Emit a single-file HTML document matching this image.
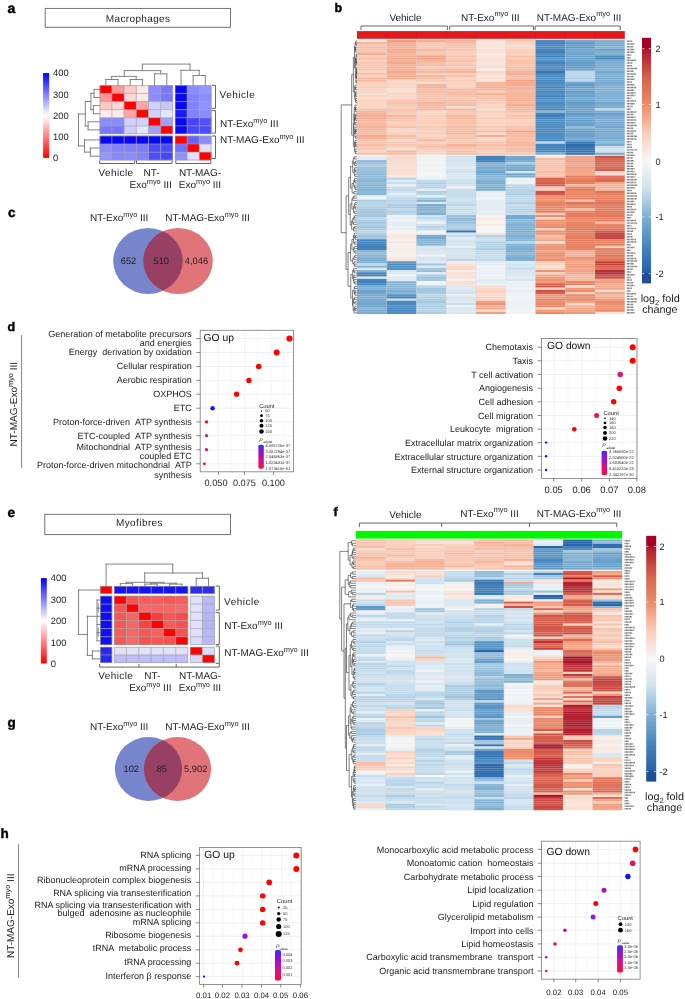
<!DOCTYPE html>
<html><head><meta charset="utf-8"><style>
html,body{margin:0;padding:0;background:#fff;}
svg{display:block;font-family:"Liberation Sans",sans-serif;text-rendering:geometricPrecision;}
</style></head><body>
<svg width="685" height="999" viewBox="0 0 685 999">
<rect width="685" height="999" fill="#fff"/>
<g opacity="0.999">
<text x="7.6" y="12.6" font-size="14" font-weight="bold" fill="#000" stroke="#000" stroke-width="0.45">a</text>
<rect x="45.2" y="8.4" width="185.3" height="18.9" fill="#fff" stroke="#666" stroke-width="0.9"/>
<text x="138.1" y="21.6" font-size="10" text-anchor="middle" fill="#1c1c1c" letter-spacing="0.37">Macrophages</text>
<defs><linearGradient id="g3" x1="0" y1="1" x2="0" y2="0"><stop offset="0" stop-color="#ff0000"/><stop offset="0.5" stop-color="#ffffff"/><stop offset="1" stop-color="#0000ff"/></linearGradient></defs>
<rect x="43.1" y="73.1" width="6.1" height="84.8" fill="url(#g3)"/>
<text x="53.1" y="76.48" font-size="9.4" fill="#1c1c1c">400</text>
<text x="53.1" y="97.68" font-size="9.4" fill="#1c1c1c">300</text>
<text x="53.1" y="118.88" font-size="9.4" fill="#1c1c1c">200</text>
<text x="53.1" y="140.08" font-size="9.4" fill="#1c1c1c">100</text>
<text x="53.1" y="161.28" font-size="9.4" fill="#1c1c1c">0</text>
<rect x="99.7" y="85.3" width="12.2" height="8.12" fill="#ff0000"/>
<rect x="111.9" y="85.3" width="12.2" height="8.12" fill="#ff9696"/>
<rect x="124.1" y="85.3" width="12.2" height="8.12" fill="#ffc8c8"/>
<rect x="136.3" y="85.3" width="12.2" height="8.12" fill="#ffe8e8"/>
<rect x="148.5" y="85.3" width="12.2" height="8.12" fill="#8c8cff"/>
<rect x="160.7" y="85.3" width="12.2" height="8.12" fill="#7878ff"/>
<rect x="175" y="85.3" width="12.15" height="8.12" fill="#0808f5"/>
<rect x="187.15" y="85.3" width="12.15" height="8.12" fill="#8c8cff"/>
<rect x="199.3" y="85.3" width="12.15" height="8.12" fill="#9696ff"/>
<rect x="99.7" y="93.42" width="12.2" height="8.12" fill="#ff9696"/>
<rect x="111.9" y="93.42" width="12.2" height="8.12" fill="#ff0000"/>
<rect x="124.1" y="93.42" width="12.2" height="8.12" fill="#ffd7d7"/>
<rect x="136.3" y="93.42" width="12.2" height="8.12" fill="#ffe8e8"/>
<rect x="148.5" y="93.42" width="12.2" height="8.12" fill="#8c8cff"/>
<rect x="160.7" y="93.42" width="12.2" height="8.12" fill="#7878ff"/>
<rect x="175" y="93.42" width="12.15" height="8.12" fill="#0808f5"/>
<rect x="187.15" y="93.42" width="12.15" height="8.12" fill="#8282ff"/>
<rect x="199.3" y="93.42" width="12.15" height="8.12" fill="#8c8cff"/>
<rect x="99.7" y="101.54" width="12.2" height="8.12" fill="#ffc8c8"/>
<rect x="111.9" y="101.54" width="12.2" height="8.12" fill="#ffd7d7"/>
<rect x="124.1" y="101.54" width="12.2" height="8.12" fill="#ff0000"/>
<rect x="136.3" y="101.54" width="12.2" height="8.12" fill="#ffa5a5"/>
<rect x="148.5" y="101.54" width="12.2" height="8.12" fill="#d2d2ff"/>
<rect x="160.7" y="101.54" width="12.2" height="8.12" fill="#c8c8ff"/>
<rect x="175" y="101.54" width="12.15" height="8.12" fill="#0808f5"/>
<rect x="187.15" y="101.54" width="12.15" height="8.12" fill="#8282ff"/>
<rect x="199.3" y="101.54" width="12.15" height="8.12" fill="#9191ff"/>
<rect x="99.7" y="109.66" width="12.2" height="8.12" fill="#ffebeb"/>
<rect x="111.9" y="109.66" width="12.2" height="8.12" fill="#ffebeb"/>
<rect x="124.1" y="109.66" width="12.2" height="8.12" fill="#ffa5a5"/>
<rect x="136.3" y="109.66" width="12.2" height="8.12" fill="#ff0000"/>
<rect x="148.5" y="109.66" width="12.2" height="8.12" fill="#d2d2ff"/>
<rect x="160.7" y="109.66" width="12.2" height="8.12" fill="#e6e6ff"/>
<rect x="175" y="109.66" width="12.15" height="8.12" fill="#1919ff"/>
<rect x="187.15" y="109.66" width="12.15" height="8.12" fill="#8282ff"/>
<rect x="199.3" y="109.66" width="12.15" height="8.12" fill="#8c8cff"/>
<rect x="99.7" y="117.78" width="12.2" height="8.12" fill="#8c8cff"/>
<rect x="111.9" y="117.78" width="12.2" height="8.12" fill="#8c8cff"/>
<rect x="124.1" y="117.78" width="12.2" height="8.12" fill="#d2d2ff"/>
<rect x="136.3" y="117.78" width="12.2" height="8.12" fill="#d2d2ff"/>
<rect x="148.5" y="117.78" width="12.2" height="8.12" fill="#ff0000"/>
<rect x="160.7" y="117.78" width="12.2" height="8.12" fill="#a0a0ff"/>
<rect x="175" y="117.78" width="12.15" height="8.12" fill="#0808f5"/>
<rect x="187.15" y="117.78" width="12.15" height="8.12" fill="#4646ff"/>
<rect x="199.3" y="117.78" width="12.15" height="8.12" fill="#5050ff"/>
<rect x="99.7" y="125.9" width="12.2" height="8.12" fill="#7878ff"/>
<rect x="111.9" y="125.9" width="12.2" height="8.12" fill="#7878ff"/>
<rect x="124.1" y="125.9" width="12.2" height="8.12" fill="#cdcdff"/>
<rect x="136.3" y="125.9" width="12.2" height="8.12" fill="#e6e6ff"/>
<rect x="148.5" y="125.9" width="12.2" height="8.12" fill="#a0a0ff"/>
<rect x="160.7" y="125.9" width="12.2" height="8.12" fill="#ff0000"/>
<rect x="175" y="125.9" width="12.15" height="8.12" fill="#0808f5"/>
<rect x="187.15" y="125.9" width="12.15" height="8.12" fill="#4646ff"/>
<rect x="199.3" y="125.9" width="12.15" height="8.12" fill="#4b4bff"/>
<rect x="99.7" y="135.8" width="12.2" height="8.17" fill="#0808f5"/>
<rect x="111.9" y="135.8" width="12.2" height="8.17" fill="#0808f5"/>
<rect x="124.1" y="135.8" width="12.2" height="8.17" fill="#0808f5"/>
<rect x="136.3" y="135.8" width="12.2" height="8.17" fill="#0808f5"/>
<rect x="148.5" y="135.8" width="12.2" height="8.17" fill="#0808f5"/>
<rect x="160.7" y="135.8" width="12.2" height="8.17" fill="#0808f5"/>
<rect x="175" y="135.8" width="12.15" height="8.17" fill="#ff0000"/>
<rect x="187.15" y="135.8" width="12.15" height="8.17" fill="#6464ff"/>
<rect x="199.3" y="135.8" width="12.15" height="8.17" fill="#8c8cff"/>
<rect x="99.7" y="143.97" width="12.2" height="8.17" fill="#8c8cff"/>
<rect x="111.9" y="143.97" width="12.2" height="8.17" fill="#8282ff"/>
<rect x="124.1" y="143.97" width="12.2" height="8.17" fill="#8282ff"/>
<rect x="136.3" y="143.97" width="12.2" height="8.17" fill="#7d7dff"/>
<rect x="148.5" y="143.97" width="12.2" height="8.17" fill="#4b4bff"/>
<rect x="160.7" y="143.97" width="12.2" height="8.17" fill="#4b4bff"/>
<rect x="175" y="143.97" width="12.15" height="8.17" fill="#6e6eff"/>
<rect x="187.15" y="143.97" width="12.15" height="8.17" fill="#ff0000"/>
<rect x="199.3" y="143.97" width="12.15" height="8.17" fill="#e1e1ff"/>
<rect x="99.7" y="152.14" width="12.2" height="8.17" fill="#9696ff"/>
<rect x="111.9" y="152.14" width="12.2" height="8.17" fill="#8787ff"/>
<rect x="124.1" y="152.14" width="12.2" height="8.17" fill="#8c8cff"/>
<rect x="136.3" y="152.14" width="12.2" height="8.17" fill="#8282ff"/>
<rect x="148.5" y="152.14" width="12.2" height="8.17" fill="#4b4bff"/>
<rect x="160.7" y="152.14" width="12.2" height="8.17" fill="#4646ff"/>
<rect x="175" y="152.14" width="12.15" height="8.17" fill="#9191ff"/>
<rect x="187.15" y="152.14" width="12.15" height="8.17" fill="#e1e1ff"/>
<rect x="199.3" y="152.14" width="12.15" height="8.17" fill="#ff0000"/>
<path d="M100 85.6H172.6V133.72H100ZM111.9 85.3V134.02M124.1 85.3V134.02M136.3 85.3V134.02M148.5 85.3V134.02M160.7 85.3V134.02M99.7 93.42H172.9M99.7 101.54H172.9M99.7 109.66H172.9M99.7 117.78H172.9M99.7 125.9H172.9M100 136.1H172.6V160.01H100ZM111.9 135.8V160.31M124.1 135.8V160.31M136.3 135.8V160.31M148.5 135.8V160.31M160.7 135.8V160.31M99.7 143.97H172.9M99.7 152.14H172.9M175.3 85.6H211.15V133.72H175.3ZM187.15 85.3V134.02M199.3 85.3V134.02M175 93.42H211.45M175 101.54H211.45M175 109.66H211.45M175 117.78H211.45M175 125.9H211.45M175.3 136.1H211.15V160.01H175.3ZM187.15 135.8V160.31M199.3 135.8V160.31M175 143.97H211.45M175 152.14H211.45" stroke="#9c9c9c" stroke-width="0.65" fill="none"/>
<path d="M142.3 64.1L190 64.1M142.3 64.1L142.3 70.6M190 64.1L190 70.3M124.3 70.6L160.7 70.6M124.3 70.6L124.3 76.4M160.7 70.6L160.7 73.8M111.7 76.4L136.2 76.4M111.7 76.4L111.7 79.5M136.2 76.4L136.2 79.5M105.8 79.5L118 79.5M105.8 79.5L105.8 85.3M118 79.5L118 85.3M130.2 79.5L142.4 79.5M130.2 79.5L130.2 85.3M142.4 79.5L142.4 85.3M154.6 73.8L166.8 73.8M154.6 73.8L154.6 85.3M166.8 73.8L166.8 85.3M181 70.3L199.2 70.3M181 70.3L181 85.3M199.2 70.3L199.2 75.5M193.1 75.5L205.3 75.5M193.1 75.5L193.1 85.3M205.3 75.5L205.3 85.3M78.5 114L78.5 146M78.5 114L85.3 114M85.3 101.5L85.3 126M85.3 101.5L90.9 101.5M90.9 93.4L90.9 109.6M90.9 93.4L94.1 93.4M94.1 89.4L94.1 97.5M94.1 89.4L99.7 89.4M94.1 97.5L99.7 97.5M90.9 109.6L93.4 109.6M93.4 105.6L93.4 113.7M93.4 105.6L99.7 105.6M93.4 113.7L99.7 113.7M85.3 126L88.1 126M88.1 121.8L88.1 129.9M88.1 121.8L99.7 121.8M88.1 129.9L99.7 129.9M78.5 146L84.5 146M84.5 139.9L84.5 152.1M84.5 139.9L99.7 139.9M84.5 152.1L90.4 152.1M90.4 148L90.4 156.2M90.4 148L99.7 148M90.4 156.2L99.7 156.2" stroke="#757575" stroke-width="0.9" fill="none" stroke-linecap="square"/>
<path d="M211.9 85.3L215.5 85.3L215.5 108.4L211.9 108.4" stroke="#555" stroke-width="0.9" fill="none"/>
<path d="M211.9 110.6L215.5 110.6L215.5 133.1L211.9 133.1" stroke="#555" stroke-width="0.9" fill="none"/>
<path d="M211.9 136L215.5 136L215.5 158.5L211.9 158.5" stroke="#555" stroke-width="0.9" fill="none"/>
<path d="M99.7 160.5L99.7 163.5L134.7 163.5L134.7 160.5" stroke="#555" stroke-width="0.9" fill="none"/>
<path d="M136.5 160.5L136.5 163.5L172 163.5L172 160.5" stroke="#555" stroke-width="0.9" fill="none"/>
<path d="M175.8 160.5L175.8 163.5L210.8 163.5L210.8 160.5" stroke="#555" stroke-width="0.9" fill="none"/>
<text x="219.6" y="98.2" font-size="10" fill="#1c1c1c" letter-spacing="0.5">Vehicle</text>
<text x="220" y="126.9" font-size="10" fill="#1c1c1c">NT-Exo<tspan font-size="7.4" dy="-4.3">myo</tspan><tspan dy="4.3"> III</tspan></text>
<text x="220" y="143" font-size="10" fill="#1c1c1c">NT-MAG-Exo<tspan font-size="7.4" dy="-4.3">myo</tspan><tspan dy="4.3"> III</tspan></text>
<text x="116" y="176.4" font-size="10" text-anchor="middle" fill="#1c1c1c" letter-spacing="0.4">Vehicle</text>
<text x="151.6" y="176.4" font-size="10" text-anchor="middle" fill="#1c1c1c">NT-</text>
<text x="150.7" y="188.2" font-size="10" text-anchor="middle" fill="#1c1c1c">Exo<tspan font-size="7.4" dy="-4.3">myo</tspan><tspan dy="4.3"> III</tspan></text>
<text x="200" y="176.4" font-size="10" text-anchor="middle" fill="#1c1c1c">NT-MAG-</text>
<text x="200" y="188.2" font-size="10" text-anchor="middle" fill="#1c1c1c">Exo<tspan font-size="7.4" dy="-4.3">myo</tspan><tspan dy="4.3"> III</tspan></text>
<text x="334.5" y="12.4" font-size="12.5" font-weight="bold" fill="#000" stroke="#000" stroke-width="0.45">b</text>
<text x="405.5" y="21" font-size="10" text-anchor="middle" fill="#1c1c1c">Vehicle</text>
<text x="490.3" y="20.6" font-size="10" text-anchor="middle" fill="#1c1c1c">NT-Exo<tspan font-size="7.4" dy="-4.3">myo</tspan><tspan dy="4.3"> III</tspan></text>
<text x="579" y="20.6" font-size="10" text-anchor="middle" fill="#1c1c1c">NT-MAG-Exo<tspan font-size="7.4" dy="-4.3">myo</tspan><tspan dy="4.3"> III</tspan></text>
<path d="M361 30L361 26L447.4 26L447.4 30" stroke="#555" stroke-width="0.9" fill="none"/>
<path d="M449.7 30L449.7 26L533.5 26L533.5 30" stroke="#555" stroke-width="0.9" fill="none"/>
<path d="M535.1 30L535.1 26L620.2 26L620.2 30" stroke="#555" stroke-width="0.9" fill="none"/>
<rect x="357" y="31.1" width="267.8" height="7.7" fill="#e31a1c"/>
<line x1="386.75" y1="31.1" x2="386.75" y2="38.8" stroke="rgba(150,0,0,0.25)" stroke-width="0.5"/>
<line x1="416.5" y1="31.1" x2="416.5" y2="38.8" stroke="rgba(150,0,0,0.25)" stroke-width="0.5"/>
<line x1="446.25" y1="31.1" x2="446.25" y2="38.8" stroke="rgba(150,0,0,0.25)" stroke-width="0.5"/>
<line x1="476" y1="31.1" x2="476" y2="38.8" stroke="rgba(150,0,0,0.25)" stroke-width="0.5"/>
<line x1="505.75" y1="31.1" x2="505.75" y2="38.8" stroke="rgba(150,0,0,0.25)" stroke-width="0.5"/>
<line x1="535.5" y1="31.1" x2="535.5" y2="38.8" stroke="rgba(150,0,0,0.25)" stroke-width="0.5"/>
<line x1="565.25" y1="31.1" x2="565.25" y2="38.8" stroke="rgba(150,0,0,0.25)" stroke-width="0.5"/>
<line x1="595" y1="31.1" x2="595" y2="38.8" stroke="rgba(150,0,0,0.25)" stroke-width="0.5"/>
<rect x="357" y="39.8" width="29.75" height="2.26" fill="#f8ebe6"/>
<rect x="357" y="42.01" width="29.75" height="2.26" fill="#f5b69c"/>
<rect x="357" y="44.22" width="29.75" height="2.26" fill="#f8c3ad"/>
<rect x="357" y="46.43" width="29.75" height="2.26" fill="#f6b9a1"/>
<rect x="357" y="48.65" width="29.75" height="2.26" fill="#f8c2ac"/>
<rect x="357" y="50.86" width="29.75" height="2.26" fill="#f8c3ac"/>
<rect x="357" y="53.07" width="29.75" height="2.26" fill="#f3ad91"/>
<rect x="357" y="55.28" width="29.75" height="2.26" fill="#facbb7"/>
<rect x="357" y="57.49" width="29.75" height="2.26" fill="#f7bfa8"/>
<rect x="357" y="59.7" width="29.75" height="2.26" fill="#fad2c1"/>
<rect x="357" y="61.92" width="29.75" height="4.47" fill="#f9c7b2"/>
<rect x="357" y="66.34" width="29.75" height="2.26" fill="#f9c6b0"/>
<rect x="357" y="68.55" width="29.75" height="2.26" fill="#f8c3ac"/>
<rect x="357" y="70.76" width="29.75" height="2.26" fill="#fad3c2"/>
<rect x="357" y="72.97" width="29.75" height="2.26" fill="#f8c3ac"/>
<rect x="357" y="75.18" width="29.75" height="2.26" fill="#fad1bf"/>
<rect x="357" y="77.4" width="29.75" height="2.26" fill="#f6b9a0"/>
<rect x="357" y="79.61" width="29.75" height="2.26" fill="#f5b79e"/>
<rect x="357" y="81.82" width="29.75" height="2.26" fill="#fad0bd"/>
<rect x="357" y="84.03" width="29.75" height="2.26" fill="#fad1bf"/>
<rect x="357" y="86.24" width="29.75" height="2.26" fill="#faccb7"/>
<rect x="357" y="88.45" width="29.75" height="2.26" fill="#facfbc"/>
<rect x="357" y="90.67" width="29.75" height="2.26" fill="#f9d4c4"/>
<rect x="357" y="92.88" width="29.75" height="2.26" fill="#f8e2d8"/>
<rect x="357" y="95.09" width="29.75" height="2.26" fill="#fad2c0"/>
<rect x="357" y="97.3" width="29.75" height="2.26" fill="#f9ddd1"/>
<rect x="357" y="99.51" width="29.75" height="2.26" fill="#facdb9"/>
<rect x="357" y="101.72" width="29.75" height="2.26" fill="#f9d5c5"/>
<rect x="357" y="103.93" width="29.75" height="4.47" fill="#f9d6c6"/>
<rect x="357" y="108.36" width="29.75" height="2.26" fill="#f7bfa8"/>
<rect x="357" y="110.57" width="29.75" height="2.26" fill="#f5b49a"/>
<rect x="357" y="112.78" width="29.75" height="2.26" fill="#f4b196"/>
<rect x="357" y="114.99" width="29.75" height="2.26" fill="#f4b095"/>
<rect x="357" y="117.2" width="29.75" height="2.26" fill="#f3ab8f"/>
<rect x="357" y="119.42" width="29.75" height="2.26" fill="#f5b59b"/>
<rect x="357" y="121.63" width="29.75" height="2.26" fill="#f6b89f"/>
<rect x="357" y="123.84" width="29.75" height="2.26" fill="#f6b9a0"/>
<rect x="357" y="126.05" width="29.75" height="2.26" fill="#f4b297"/>
<rect x="357" y="128.26" width="29.75" height="2.26" fill="#f4b298"/>
<rect x="357" y="130.47" width="29.75" height="2.26" fill="#f6baa2"/>
<rect x="357" y="132.68" width="29.75" height="2.26" fill="#f7c0a9"/>
<rect x="357" y="134.9" width="29.75" height="2.26" fill="#f3ab8f"/>
<rect x="357" y="137.11" width="29.75" height="2.26" fill="#f3af94"/>
<rect x="357" y="139.32" width="29.75" height="2.26" fill="#f8c3ac"/>
<rect x="357" y="141.53" width="29.75" height="2.26" fill="#f8c6b0"/>
<rect x="357" y="143.74" width="29.75" height="2.26" fill="#f6bda5"/>
<rect x="357" y="145.95" width="29.75" height="2.26" fill="#f9c7b2"/>
<rect x="357" y="148.17" width="29.75" height="2.26" fill="#f8c5b0"/>
<rect x="357" y="150.38" width="29.75" height="2.26" fill="#fad2c1"/>
<rect x="357" y="152.59" width="29.75" height="2.26" fill="#f7bda5"/>
<rect x="386.75" y="39.8" width="29.75" height="2.26" fill="#f09d7e"/>
<rect x="386.75" y="42.01" width="29.75" height="2.26" fill="#f4b196"/>
<rect x="386.75" y="44.22" width="29.75" height="2.26" fill="#f3ab8f"/>
<rect x="386.75" y="46.43" width="29.75" height="2.26" fill="#f4b399"/>
<rect x="386.75" y="48.65" width="29.75" height="2.26" fill="#f2a98c"/>
<rect x="386.75" y="50.86" width="29.75" height="2.26" fill="#f4af94"/>
<rect x="386.75" y="53.07" width="29.75" height="2.26" fill="#f5b49a"/>
<rect x="386.75" y="55.28" width="29.75" height="2.26" fill="#f4b298"/>
<rect x="386.75" y="57.49" width="29.75" height="2.26" fill="#f2a88b"/>
<rect x="386.75" y="59.7" width="29.75" height="2.26" fill="#f3af94"/>
<rect x="386.75" y="61.92" width="29.75" height="2.26" fill="#f2a98c"/>
<rect x="386.75" y="64.13" width="29.75" height="2.26" fill="#f5b79d"/>
<rect x="386.75" y="66.34" width="29.75" height="2.26" fill="#f3ae93"/>
<rect x="386.75" y="68.55" width="29.75" height="2.26" fill="#f4b095"/>
<rect x="386.75" y="70.76" width="29.75" height="2.26" fill="#f2a78a"/>
<rect x="386.75" y="72.97" width="29.75" height="2.26" fill="#f5b69c"/>
<rect x="386.75" y="75.18" width="29.75" height="2.26" fill="#f3ad91"/>
<rect x="386.75" y="77.4" width="29.75" height="2.26" fill="#f3ac90"/>
<rect x="386.75" y="79.61" width="29.75" height="2.26" fill="#f9d5c5"/>
<rect x="386.75" y="81.82" width="29.75" height="2.26" fill="#f9d7c7"/>
<rect x="386.75" y="84.03" width="29.75" height="2.26" fill="#f9d5c4"/>
<rect x="386.75" y="86.24" width="29.75" height="2.26" fill="#f9d4c4"/>
<rect x="386.75" y="88.45" width="29.75" height="2.26" fill="#f9dccf"/>
<rect x="386.75" y="90.67" width="29.75" height="2.26" fill="#f9ded3"/>
<rect x="386.75" y="92.88" width="29.75" height="2.26" fill="#f9d7c8"/>
<rect x="386.75" y="95.09" width="29.75" height="2.26" fill="#f9d8c9"/>
<rect x="386.75" y="97.3" width="29.75" height="2.26" fill="#f9d7c8"/>
<rect x="386.75" y="99.51" width="29.75" height="2.26" fill="#f8c2ab"/>
<rect x="386.75" y="101.72" width="29.75" height="2.26" fill="#f8c2ac"/>
<rect x="386.75" y="103.93" width="29.75" height="2.26" fill="#f9c8b3"/>
<rect x="386.75" y="106.15" width="29.75" height="2.26" fill="#facdb9"/>
<rect x="386.75" y="108.36" width="29.75" height="4.47" fill="#f8c5af"/>
<rect x="386.75" y="112.78" width="29.75" height="2.26" fill="#faceba"/>
<rect x="386.75" y="114.99" width="29.75" height="2.26" fill="#f5b79e"/>
<rect x="386.75" y="117.2" width="29.75" height="2.26" fill="#f7c0a9"/>
<rect x="386.75" y="119.42" width="29.75" height="2.26" fill="#f8c1ab"/>
<rect x="386.75" y="121.63" width="29.75" height="2.26" fill="#fad2c0"/>
<rect x="386.75" y="123.84" width="29.75" height="2.26" fill="#facdb9"/>
<rect x="386.75" y="126.05" width="29.75" height="2.26" fill="#f7bea7"/>
<rect x="386.75" y="128.26" width="29.75" height="2.26" fill="#fad2c1"/>
<rect x="386.75" y="130.47" width="29.75" height="2.26" fill="#f9d4c4"/>
<rect x="386.75" y="132.68" width="29.75" height="2.26" fill="#facebb"/>
<rect x="386.75" y="134.9" width="29.75" height="2.26" fill="#f7bda6"/>
<rect x="386.75" y="137.11" width="29.75" height="2.26" fill="#f8c4ad"/>
<rect x="386.75" y="139.32" width="29.75" height="2.26" fill="#f9d8c9"/>
<rect x="386.75" y="141.53" width="29.75" height="2.26" fill="#facbb6"/>
<rect x="386.75" y="143.74" width="29.75" height="2.26" fill="#f8c5af"/>
<rect x="386.75" y="145.95" width="29.75" height="2.26" fill="#fad0be"/>
<rect x="386.75" y="148.17" width="29.75" height="2.26" fill="#f9ddd0"/>
<rect x="386.75" y="150.38" width="29.75" height="2.26" fill="#f5b69d"/>
<rect x="386.75" y="152.59" width="29.75" height="2.26" fill="#f6b9a0"/>
<rect x="416.5" y="39.8" width="29.75" height="2.26" fill="#f3ad92"/>
<rect x="416.5" y="42.01" width="29.75" height="2.26" fill="#f9c9b5"/>
<rect x="416.5" y="44.22" width="29.75" height="2.26" fill="#f8c5af"/>
<rect x="416.5" y="46.43" width="29.75" height="2.26" fill="#f9c7b1"/>
<rect x="416.5" y="48.65" width="29.75" height="2.26" fill="#f5b59b"/>
<rect x="416.5" y="50.86" width="29.75" height="2.26" fill="#f9cbb6"/>
<rect x="416.5" y="53.07" width="29.75" height="2.26" fill="#f8c4ae"/>
<rect x="416.5" y="55.28" width="29.75" height="2.26" fill="#f1a588"/>
<rect x="416.5" y="57.49" width="29.75" height="2.26" fill="#f1a284"/>
<rect x="416.5" y="59.7" width="29.75" height="2.26" fill="#f4b399"/>
<rect x="416.5" y="61.92" width="29.75" height="2.26" fill="#f7bea7"/>
<rect x="416.5" y="64.13" width="29.75" height="2.26" fill="#f6bba3"/>
<rect x="416.5" y="66.34" width="29.75" height="2.26" fill="#faccb7"/>
<rect x="416.5" y="68.55" width="29.75" height="2.26" fill="#f7bda5"/>
<rect x="416.5" y="70.76" width="29.75" height="2.26" fill="#f5b79e"/>
<rect x="416.5" y="72.97" width="29.75" height="2.26" fill="#fad2c1"/>
<rect x="416.5" y="75.18" width="29.75" height="2.26" fill="#f4b399"/>
<rect x="416.5" y="77.4" width="29.75" height="2.26" fill="#f7bfa8"/>
<rect x="416.5" y="79.61" width="29.75" height="2.26" fill="#f9c8b3"/>
<rect x="416.5" y="81.82" width="29.75" height="2.26" fill="#f9dfd3"/>
<rect x="416.5" y="84.03" width="29.75" height="2.26" fill="#f5b49a"/>
<rect x="416.5" y="86.24" width="29.75" height="2.26" fill="#f4b197"/>
<rect x="416.5" y="88.45" width="29.75" height="2.26" fill="#f6bca4"/>
<rect x="416.5" y="90.67" width="29.75" height="2.26" fill="#f6bba3"/>
<rect x="416.5" y="92.88" width="29.75" height="2.26" fill="#f8c5af"/>
<rect x="416.5" y="95.09" width="29.75" height="2.26" fill="#f8c5b0"/>
<rect x="416.5" y="97.3" width="29.75" height="2.26" fill="#f7bfa8"/>
<rect x="416.5" y="99.51" width="29.75" height="2.26" fill="#f8c2ab"/>
<rect x="416.5" y="101.72" width="29.75" height="2.26" fill="#f5b59b"/>
<rect x="416.5" y="103.93" width="29.75" height="2.26" fill="#f6bda5"/>
<rect x="416.5" y="106.15" width="29.75" height="2.26" fill="#f7bea7"/>
<rect x="416.5" y="108.36" width="29.75" height="2.26" fill="#f5b69d"/>
<rect x="416.5" y="110.57" width="29.75" height="2.26" fill="#f9d6c6"/>
<rect x="416.5" y="112.78" width="29.75" height="2.26" fill="#f9d5c5"/>
<rect x="416.5" y="114.99" width="29.75" height="2.26" fill="#faceba"/>
<rect x="416.5" y="117.2" width="29.75" height="2.26" fill="#fad1be"/>
<rect x="416.5" y="119.42" width="29.75" height="2.26" fill="#facbb6"/>
<rect x="416.5" y="121.63" width="29.75" height="2.26" fill="#f9cbb6"/>
<rect x="416.5" y="123.84" width="29.75" height="2.26" fill="#f9d4c3"/>
<rect x="416.5" y="126.05" width="29.75" height="2.26" fill="#f9cab5"/>
<rect x="416.5" y="128.26" width="29.75" height="2.26" fill="#f9c9b4"/>
<rect x="416.5" y="130.47" width="29.75" height="4.47" fill="#fad1bf"/>
<rect x="416.5" y="134.9" width="29.75" height="2.26" fill="#f9d8ca"/>
<rect x="416.5" y="137.11" width="29.75" height="2.26" fill="#facdb9"/>
<rect x="416.5" y="139.32" width="29.75" height="2.26" fill="#f5b59c"/>
<rect x="416.5" y="141.53" width="29.75" height="2.26" fill="#fad1be"/>
<rect x="416.5" y="143.74" width="29.75" height="2.26" fill="#f9c8b3"/>
<rect x="416.5" y="145.95" width="29.75" height="2.26" fill="#f7c1aa"/>
<rect x="416.5" y="148.17" width="29.75" height="2.26" fill="#facbb6"/>
<rect x="416.5" y="150.38" width="29.75" height="2.26" fill="#fad0be"/>
<rect x="416.5" y="152.59" width="29.75" height="2.26" fill="#f9d5c4"/>
<rect x="446.25" y="39.8" width="29.75" height="2.26" fill="#f5b59b"/>
<rect x="446.25" y="42.01" width="29.75" height="2.26" fill="#f6bca4"/>
<rect x="446.25" y="44.22" width="29.75" height="2.26" fill="#f7c0a9"/>
<rect x="446.25" y="46.43" width="29.75" height="2.26" fill="#f8c5b0"/>
<rect x="446.25" y="48.65" width="29.75" height="2.26" fill="#f8c4ae"/>
<rect x="446.25" y="50.86" width="29.75" height="2.26" fill="#facfbc"/>
<rect x="446.25" y="53.07" width="29.75" height="2.26" fill="#fad2c0"/>
<rect x="446.25" y="55.28" width="29.75" height="2.26" fill="#f7c0aa"/>
<rect x="446.25" y="57.49" width="29.75" height="2.26" fill="#f9c8b2"/>
<rect x="446.25" y="59.7" width="29.75" height="2.26" fill="#f8c2ac"/>
<rect x="446.25" y="61.92" width="29.75" height="2.26" fill="#facfbc"/>
<rect x="446.25" y="64.13" width="29.75" height="2.26" fill="#f8c3ad"/>
<rect x="446.25" y="66.34" width="29.75" height="2.26" fill="#faccb8"/>
<rect x="446.25" y="68.55" width="29.75" height="2.26" fill="#f5b79e"/>
<rect x="446.25" y="70.76" width="29.75" height="2.26" fill="#f5b59c"/>
<rect x="446.25" y="72.97" width="29.75" height="2.26" fill="#fad0bd"/>
<rect x="446.25" y="75.18" width="29.75" height="2.26" fill="#f7bea7"/>
<rect x="446.25" y="77.4" width="29.75" height="2.26" fill="#fad0be"/>
<rect x="446.25" y="79.61" width="29.75" height="2.26" fill="#f9c7b2"/>
<rect x="446.25" y="81.82" width="29.75" height="2.26" fill="#fad4c3"/>
<rect x="446.25" y="84.03" width="29.75" height="2.26" fill="#f9d4c3"/>
<rect x="446.25" y="86.24" width="29.75" height="2.26" fill="#facbb6"/>
<rect x="446.25" y="88.45" width="29.75" height="2.26" fill="#f6b9a0"/>
<rect x="446.25" y="90.67" width="29.75" height="2.26" fill="#f7bda6"/>
<rect x="446.25" y="92.88" width="29.75" height="2.26" fill="#f6bca4"/>
<rect x="446.25" y="95.09" width="29.75" height="2.26" fill="#f8c4ae"/>
<rect x="446.25" y="97.3" width="29.75" height="2.26" fill="#faceba"/>
<rect x="446.25" y="99.51" width="29.75" height="2.26" fill="#f6bca4"/>
<rect x="446.25" y="101.72" width="29.75" height="2.26" fill="#f8c3ad"/>
<rect x="446.25" y="103.93" width="29.75" height="2.26" fill="#f6bda5"/>
<rect x="446.25" y="106.15" width="29.75" height="2.26" fill="#f9ddd1"/>
<rect x="446.25" y="108.36" width="29.75" height="2.26" fill="#f5b89f"/>
<rect x="446.25" y="110.57" width="29.75" height="2.26" fill="#f8c4ae"/>
<rect x="446.25" y="112.78" width="29.75" height="2.26" fill="#f9c8b2"/>
<rect x="446.25" y="114.99" width="29.75" height="2.26" fill="#f5b79e"/>
<rect x="446.25" y="117.2" width="29.75" height="2.26" fill="#f6baa1"/>
<rect x="446.25" y="119.42" width="29.75" height="2.26" fill="#f7c1ab"/>
<rect x="446.25" y="121.63" width="29.75" height="2.26" fill="#f6bca4"/>
<rect x="446.25" y="123.84" width="29.75" height="2.26" fill="#f9c7b2"/>
<rect x="446.25" y="126.05" width="29.75" height="2.26" fill="#f6bca4"/>
<rect x="446.25" y="128.26" width="29.75" height="2.26" fill="#f7bea7"/>
<rect x="446.25" y="130.47" width="29.75" height="2.26" fill="#f5b79e"/>
<rect x="446.25" y="132.68" width="29.75" height="2.26" fill="#f6bba3"/>
<rect x="446.25" y="134.9" width="29.75" height="2.26" fill="#f9cab5"/>
<rect x="446.25" y="137.11" width="29.75" height="2.26" fill="#f8c2ac"/>
<rect x="446.25" y="139.32" width="29.75" height="2.26" fill="#facfbb"/>
<rect x="446.25" y="141.53" width="29.75" height="2.26" fill="#f9c8b3"/>
<rect x="446.25" y="143.74" width="29.75" height="2.26" fill="#f4b197"/>
<rect x="446.25" y="145.95" width="29.75" height="2.26" fill="#f7bea7"/>
<rect x="446.25" y="148.17" width="29.75" height="2.26" fill="#f8c4ae"/>
<rect x="446.25" y="150.38" width="29.75" height="2.26" fill="#f8c1ab"/>
<rect x="446.25" y="152.59" width="29.75" height="2.26" fill="#f7bea6"/>
<rect x="476" y="39.8" width="29.75" height="2.26" fill="#f9e2d7"/>
<rect x="476" y="42.01" width="29.75" height="2.26" fill="#f8e5dc"/>
<rect x="476" y="44.22" width="29.75" height="2.26" fill="#f9dfd4"/>
<rect x="476" y="46.43" width="29.75" height="2.26" fill="#f9e2d8"/>
<rect x="476" y="48.65" width="29.75" height="2.26" fill="#f9e0d5"/>
<rect x="476" y="50.86" width="29.75" height="2.26" fill="#f8e3d9"/>
<rect x="476" y="53.07" width="29.75" height="2.26" fill="#f8eae4"/>
<rect x="476" y="55.28" width="29.75" height="2.26" fill="#f8e2d9"/>
<rect x="476" y="57.49" width="29.75" height="4.47" fill="#f9e1d7"/>
<rect x="476" y="61.92" width="29.75" height="2.26" fill="#f8e5dc"/>
<rect x="476" y="64.13" width="29.75" height="2.26" fill="#f8e3da"/>
<rect x="476" y="66.34" width="29.75" height="2.26" fill="#f9dacc"/>
<rect x="476" y="68.55" width="29.75" height="2.26" fill="#f8efeb"/>
<rect x="476" y="70.76" width="29.75" height="2.26" fill="#f9d7c8"/>
<rect x="476" y="72.97" width="29.75" height="2.26" fill="#f9ded2"/>
<rect x="476" y="75.18" width="29.75" height="2.26" fill="#f8e5dc"/>
<rect x="476" y="77.4" width="29.75" height="2.26" fill="#f9ddd1"/>
<rect x="476" y="79.61" width="29.75" height="2.26" fill="#f8e3d9"/>
<rect x="476" y="81.82" width="29.75" height="2.26" fill="#f6b8a0"/>
<rect x="476" y="84.03" width="29.75" height="2.26" fill="#f5b49a"/>
<rect x="476" y="86.24" width="29.75" height="2.26" fill="#f4b095"/>
<rect x="476" y="88.45" width="29.75" height="2.26" fill="#f5b69d"/>
<rect x="476" y="90.67" width="29.75" height="2.26" fill="#faccb8"/>
<rect x="476" y="92.88" width="29.75" height="2.26" fill="#f5b49a"/>
<rect x="476" y="95.09" width="29.75" height="2.26" fill="#f8c3ad"/>
<rect x="476" y="97.3" width="29.75" height="2.26" fill="#f7c0a9"/>
<rect x="476" y="99.51" width="29.75" height="2.26" fill="#facdb9"/>
<rect x="476" y="101.72" width="29.75" height="2.26" fill="#fad0bd"/>
<rect x="476" y="103.93" width="29.75" height="2.26" fill="#f9d5c4"/>
<rect x="476" y="106.15" width="29.75" height="2.26" fill="#facfbc"/>
<rect x="476" y="108.36" width="29.75" height="2.26" fill="#f9dacc"/>
<rect x="476" y="110.57" width="29.75" height="2.26" fill="#f9cab6"/>
<rect x="476" y="112.78" width="29.75" height="2.26" fill="#f9d6c7"/>
<rect x="476" y="114.99" width="29.75" height="2.26" fill="#f9d8c9"/>
<rect x="476" y="117.2" width="29.75" height="2.26" fill="#faccb8"/>
<rect x="476" y="119.42" width="29.75" height="2.26" fill="#fad2c0"/>
<rect x="476" y="121.63" width="29.75" height="2.26" fill="#fad1bf"/>
<rect x="476" y="123.84" width="29.75" height="2.26" fill="#fad3c3"/>
<rect x="476" y="126.05" width="29.75" height="2.26" fill="#f9c9b4"/>
<rect x="476" y="128.26" width="29.75" height="2.26" fill="#facbb7"/>
<rect x="476" y="130.47" width="29.75" height="2.26" fill="#f6bca4"/>
<rect x="476" y="132.68" width="29.75" height="2.26" fill="#f9d8ca"/>
<rect x="476" y="134.9" width="29.75" height="2.26" fill="#f4b096"/>
<rect x="476" y="137.11" width="29.75" height="2.26" fill="#f9d8c9"/>
<rect x="476" y="139.32" width="29.75" height="2.26" fill="#f9d6c6"/>
<rect x="476" y="141.53" width="29.75" height="2.26" fill="#f8c6b0"/>
<rect x="476" y="143.74" width="29.75" height="2.26" fill="#f7bda6"/>
<rect x="476" y="145.95" width="29.75" height="2.26" fill="#f9c8b3"/>
<rect x="476" y="148.17" width="29.75" height="2.26" fill="#f8c3ac"/>
<rect x="476" y="150.38" width="29.75" height="2.26" fill="#faceba"/>
<rect x="476" y="152.59" width="29.75" height="2.26" fill="#f9c8b3"/>
<rect x="505.75" y="39.8" width="29.75" height="2.26" fill="#f9cab6"/>
<rect x="505.75" y="42.01" width="29.75" height="2.26" fill="#fad3c1"/>
<rect x="505.75" y="44.22" width="29.75" height="2.26" fill="#f9d9cb"/>
<rect x="505.75" y="46.43" width="29.75" height="2.26" fill="#f9d7c8"/>
<rect x="505.75" y="48.65" width="29.75" height="2.26" fill="#facfbc"/>
<rect x="505.75" y="50.86" width="29.75" height="2.26" fill="#faceba"/>
<rect x="505.75" y="53.07" width="29.75" height="2.26" fill="#fad4c3"/>
<rect x="505.75" y="55.28" width="29.75" height="2.26" fill="#f7bfa8"/>
<rect x="505.75" y="57.49" width="29.75" height="2.26" fill="#f9c8b2"/>
<rect x="505.75" y="59.7" width="29.75" height="2.26" fill="#f7bfa8"/>
<rect x="505.75" y="61.92" width="29.75" height="2.26" fill="#f8c3ac"/>
<rect x="505.75" y="64.13" width="29.75" height="2.26" fill="#f8c5b0"/>
<rect x="505.75" y="66.34" width="29.75" height="2.26" fill="#f7bea6"/>
<rect x="505.75" y="68.55" width="29.75" height="2.26" fill="#f6bca4"/>
<rect x="505.75" y="70.76" width="29.75" height="2.26" fill="#f5b69d"/>
<rect x="505.75" y="72.97" width="29.75" height="2.26" fill="#f4b398"/>
<rect x="505.75" y="75.18" width="29.75" height="2.26" fill="#f7bda6"/>
<rect x="505.75" y="77.4" width="29.75" height="2.26" fill="#f7c0a9"/>
<rect x="505.75" y="79.61" width="29.75" height="2.26" fill="#f1a385"/>
<rect x="505.75" y="81.82" width="29.75" height="2.26" fill="#f3aa8e"/>
<rect x="505.75" y="84.03" width="29.75" height="2.26" fill="#f3ac91"/>
<rect x="505.75" y="86.24" width="29.75" height="4.47" fill="#f4b399"/>
<rect x="505.75" y="90.67" width="29.75" height="2.26" fill="#f6baa2"/>
<rect x="505.75" y="92.88" width="29.75" height="2.26" fill="#f5b59b"/>
<rect x="505.75" y="95.09" width="29.75" height="2.26" fill="#f5b49a"/>
<rect x="505.75" y="97.3" width="29.75" height="2.26" fill="#f4b197"/>
<rect x="505.75" y="99.51" width="29.75" height="2.26" fill="#f4af95"/>
<rect x="505.75" y="101.72" width="29.75" height="2.26" fill="#f6bda5"/>
<rect x="505.75" y="103.93" width="29.75" height="2.26" fill="#f3ae93"/>
<rect x="505.75" y="106.15" width="29.75" height="2.26" fill="#f6b9a0"/>
<rect x="505.75" y="108.36" width="29.75" height="2.26" fill="#f5b69c"/>
<rect x="505.75" y="110.57" width="29.75" height="2.26" fill="#f7bea6"/>
<rect x="505.75" y="112.78" width="29.75" height="2.26" fill="#fad0bd"/>
<rect x="505.75" y="114.99" width="29.75" height="2.26" fill="#f8c4ae"/>
<rect x="505.75" y="117.2" width="29.75" height="2.26" fill="#f8c6b0"/>
<rect x="505.75" y="119.42" width="29.75" height="2.26" fill="#fad2c0"/>
<rect x="505.75" y="121.63" width="29.75" height="2.26" fill="#faccb8"/>
<rect x="505.75" y="123.84" width="29.75" height="2.26" fill="#f9d5c5"/>
<rect x="505.75" y="126.05" width="29.75" height="2.26" fill="#f8c3ad"/>
<rect x="505.75" y="128.26" width="29.75" height="2.26" fill="#f7bda5"/>
<rect x="505.75" y="130.47" width="29.75" height="2.26" fill="#f2a88b"/>
<rect x="505.75" y="132.68" width="29.75" height="2.26" fill="#f6bba2"/>
<rect x="505.75" y="134.9" width="29.75" height="2.26" fill="#f6bda5"/>
<rect x="505.75" y="137.11" width="29.75" height="4.47" fill="#f7c0a9"/>
<rect x="505.75" y="141.53" width="29.75" height="2.26" fill="#f4b399"/>
<rect x="505.75" y="143.74" width="29.75" height="2.26" fill="#f5b79e"/>
<rect x="505.75" y="145.95" width="29.75" height="2.26" fill="#f8c3ad"/>
<rect x="505.75" y="148.17" width="29.75" height="2.26" fill="#f5b79e"/>
<rect x="505.75" y="150.38" width="29.75" height="2.26" fill="#f7bea6"/>
<rect x="505.75" y="152.59" width="29.75" height="2.26" fill="#faccb8"/>
<rect x="535.5" y="39.8" width="29.75" height="2.26" fill="#4d8cc0"/>
<rect x="535.5" y="42.01" width="29.75" height="2.26" fill="#4383bc"/>
<rect x="535.5" y="44.22" width="29.75" height="2.26" fill="#4586be"/>
<rect x="535.5" y="46.43" width="29.75" height="2.26" fill="#4c8bc0"/>
<rect x="535.5" y="48.65" width="29.75" height="2.26" fill="#4181bb"/>
<rect x="535.5" y="50.86" width="29.75" height="2.26" fill="#3f7eb9"/>
<rect x="535.5" y="53.07" width="29.75" height="2.26" fill="#4989bf"/>
<rect x="535.5" y="55.28" width="29.75" height="2.26" fill="#3f7fb9"/>
<rect x="535.5" y="57.49" width="29.75" height="2.26" fill="#5491c3"/>
<rect x="535.5" y="59.7" width="29.75" height="2.26" fill="#518fc2"/>
<rect x="535.5" y="61.92" width="29.75" height="2.26" fill="#4484bd"/>
<rect x="535.5" y="64.13" width="29.75" height="2.26" fill="#4687be"/>
<rect x="535.5" y="66.34" width="29.75" height="2.26" fill="#4a8abf"/>
<rect x="535.5" y="68.55" width="29.75" height="2.26" fill="#4788be"/>
<rect x="535.5" y="70.76" width="29.75" height="2.26" fill="#3875b4"/>
<rect x="535.5" y="72.97" width="29.75" height="2.26" fill="#4c8bc0"/>
<rect x="535.5" y="75.18" width="29.75" height="2.26" fill="#4989bf"/>
<rect x="535.5" y="77.4" width="29.75" height="2.26" fill="#4d8cc1"/>
<rect x="535.5" y="79.61" width="29.75" height="2.26" fill="#4788be"/>
<rect x="535.5" y="81.82" width="29.75" height="2.26" fill="#4c8bc0"/>
<rect x="535.5" y="84.03" width="29.75" height="2.26" fill="#5793c4"/>
<rect x="535.5" y="86.24" width="29.75" height="2.26" fill="#4484bc"/>
<rect x="535.5" y="88.45" width="29.75" height="2.26" fill="#4b8bc0"/>
<rect x="535.5" y="90.67" width="29.75" height="2.26" fill="#4586bd"/>
<rect x="535.5" y="92.88" width="29.75" height="2.26" fill="#5693c4"/>
<rect x="535.5" y="95.09" width="29.75" height="2.26" fill="#4585bd"/>
<rect x="535.5" y="97.3" width="29.75" height="2.26" fill="#4686be"/>
<rect x="535.5" y="99.51" width="29.75" height="2.26" fill="#4e8dc1"/>
<rect x="535.5" y="101.72" width="29.75" height="2.26" fill="#4c8cc0"/>
<rect x="535.5" y="103.93" width="29.75" height="2.26" fill="#518fc2"/>
<rect x="535.5" y="106.15" width="29.75" height="2.26" fill="#4e8dc1"/>
<rect x="535.5" y="108.36" width="29.75" height="2.26" fill="#4484bc"/>
<rect x="535.5" y="110.57" width="29.75" height="2.26" fill="#89b6d6"/>
<rect x="535.5" y="112.78" width="29.75" height="2.26" fill="#4687be"/>
<rect x="535.5" y="114.99" width="29.75" height="2.26" fill="#3f7eb9"/>
<rect x="535.5" y="117.2" width="29.75" height="2.26" fill="#4484bd"/>
<rect x="535.5" y="119.42" width="29.75" height="2.26" fill="#518fc2"/>
<rect x="535.5" y="121.63" width="29.75" height="2.26" fill="#4d8cc0"/>
<rect x="535.5" y="123.84" width="29.75" height="2.26" fill="#5390c3"/>
<rect x="535.5" y="126.05" width="29.75" height="2.26" fill="#4f8dc1"/>
<rect x="535.5" y="128.26" width="29.75" height="2.26" fill="#4788be"/>
<rect x="535.5" y="130.47" width="29.75" height="2.26" fill="#4787be"/>
<rect x="535.5" y="132.68" width="29.75" height="2.26" fill="#4a8abf"/>
<rect x="535.5" y="134.9" width="29.75" height="2.26" fill="#4e8dc1"/>
<rect x="535.5" y="137.11" width="29.75" height="2.26" fill="#4a8abf"/>
<rect x="535.5" y="139.32" width="29.75" height="2.26" fill="#4485bd"/>
<rect x="535.5" y="141.53" width="29.75" height="2.26" fill="#c2daea"/>
<rect x="535.5" y="143.74" width="29.75" height="2.26" fill="#4485bd"/>
<rect x="535.5" y="145.95" width="29.75" height="2.26" fill="#4687be"/>
<rect x="535.5" y="148.17" width="29.75" height="2.26" fill="#407fba"/>
<rect x="535.5" y="150.38" width="29.75" height="2.26" fill="#4485bd"/>
<rect x="535.5" y="152.59" width="29.75" height="2.26" fill="#7fb0d3"/>
<rect x="565.25" y="39.8" width="29.75" height="2.26" fill="#76aad0"/>
<rect x="565.25" y="42.01" width="29.75" height="2.26" fill="#5f99c7"/>
<rect x="565.25" y="44.22" width="29.75" height="2.26" fill="#679fca"/>
<rect x="565.25" y="46.43" width="29.75" height="2.26" fill="#5e99c7"/>
<rect x="565.25" y="48.65" width="29.75" height="2.26" fill="#70a6cd"/>
<rect x="565.25" y="50.86" width="29.75" height="2.26" fill="#72a7ce"/>
<rect x="565.25" y="53.07" width="29.75" height="2.26" fill="#6ca3cc"/>
<rect x="565.25" y="55.28" width="29.75" height="2.26" fill="#6ea4cc"/>
<rect x="565.25" y="57.49" width="29.75" height="2.26" fill="#6ca3cc"/>
<rect x="565.25" y="59.7" width="29.75" height="2.26" fill="#69a1cb"/>
<rect x="565.25" y="61.92" width="29.75" height="2.26" fill="#639cc9"/>
<rect x="565.25" y="64.13" width="29.75" height="2.26" fill="#619ac8"/>
<rect x="565.25" y="66.34" width="29.75" height="2.26" fill="#619bc8"/>
<rect x="565.25" y="68.55" width="29.75" height="2.26" fill="#6ca3cc"/>
<rect x="565.25" y="70.76" width="29.75" height="2.26" fill="#bfd8e9"/>
<rect x="565.25" y="72.97" width="29.75" height="2.26" fill="#bed8e9"/>
<rect x="565.25" y="75.18" width="29.75" height="2.26" fill="#b8d4e7"/>
<rect x="565.25" y="77.4" width="29.75" height="2.26" fill="#aecee3"/>
<rect x="565.25" y="79.61" width="29.75" height="2.26" fill="#b9d5e7"/>
<rect x="565.25" y="81.82" width="29.75" height="2.26" fill="#6ea4cc"/>
<rect x="565.25" y="84.03" width="29.75" height="2.26" fill="#5e99c7"/>
<rect x="565.25" y="86.24" width="29.75" height="2.26" fill="#669eca"/>
<rect x="565.25" y="88.45" width="29.75" height="2.26" fill="#75a9cf"/>
<rect x="565.25" y="90.67" width="29.75" height="2.26" fill="#609ac8"/>
<rect x="565.25" y="92.88" width="29.75" height="2.26" fill="#71a6ce"/>
<rect x="565.25" y="95.09" width="29.75" height="2.26" fill="#68a0ca"/>
<rect x="565.25" y="97.3" width="29.75" height="2.26" fill="#75a9cf"/>
<rect x="565.25" y="99.51" width="29.75" height="2.26" fill="#669eca"/>
<rect x="565.25" y="101.72" width="29.75" height="2.26" fill="#659dc9"/>
<rect x="565.25" y="103.93" width="29.75" height="2.26" fill="#69a1cb"/>
<rect x="565.25" y="106.15" width="29.75" height="2.26" fill="#6aa1cb"/>
<rect x="565.25" y="108.36" width="29.75" height="2.26" fill="#6ba2cb"/>
<rect x="565.25" y="110.57" width="29.75" height="2.26" fill="#6da3cc"/>
<rect x="565.25" y="112.78" width="29.75" height="2.26" fill="#609ac7"/>
<rect x="565.25" y="114.99" width="29.75" height="2.26" fill="#6da3cc"/>
<rect x="565.25" y="117.2" width="29.75" height="2.26" fill="#6fa5cd"/>
<rect x="565.25" y="119.42" width="29.75" height="2.26" fill="#619ac8"/>
<rect x="565.25" y="121.63" width="29.75" height="2.26" fill="#69a0cb"/>
<rect x="565.25" y="123.84" width="29.75" height="2.26" fill="#669eca"/>
<rect x="565.25" y="126.05" width="29.75" height="2.26" fill="#92bcd9"/>
<rect x="565.25" y="128.26" width="29.75" height="2.26" fill="#71a6ce"/>
<rect x="565.25" y="130.47" width="29.75" height="2.26" fill="#609ac7"/>
<rect x="565.25" y="132.68" width="29.75" height="2.26" fill="#69a1cb"/>
<rect x="565.25" y="134.9" width="29.75" height="2.26" fill="#679fca"/>
<rect x="565.25" y="137.11" width="29.75" height="2.26" fill="#72a7ce"/>
<rect x="565.25" y="139.32" width="29.75" height="2.26" fill="#679fca"/>
<rect x="565.25" y="141.53" width="29.75" height="2.26" fill="#3673b3"/>
<rect x="565.25" y="143.74" width="29.75" height="2.26" fill="#316db0"/>
<rect x="565.25" y="145.95" width="29.75" height="2.26" fill="#3673b3"/>
<rect x="565.25" y="148.17" width="29.75" height="2.26" fill="#326fb1"/>
<rect x="565.25" y="150.38" width="29.75" height="2.26" fill="#3976b5"/>
<rect x="565.25" y="152.59" width="29.75" height="2.26" fill="#3b79b6"/>
<rect x="595" y="39.8" width="29.75" height="2.26" fill="#82b2d4"/>
<rect x="595" y="42.01" width="29.75" height="2.26" fill="#7eb0d2"/>
<rect x="595" y="44.22" width="29.75" height="2.26" fill="#75a9cf"/>
<rect x="595" y="46.43" width="29.75" height="2.26" fill="#86b4d5"/>
<rect x="595" y="48.65" width="29.75" height="2.26" fill="#6ba2cb"/>
<rect x="595" y="50.86" width="29.75" height="2.26" fill="#80b1d3"/>
<rect x="595" y="53.07" width="29.75" height="2.26" fill="#84b3d4"/>
<rect x="595" y="55.28" width="29.75" height="2.26" fill="#4a8abf"/>
<rect x="595" y="57.49" width="29.75" height="2.26" fill="#4485bd"/>
<rect x="595" y="59.7" width="29.75" height="2.26" fill="#78acd0"/>
<rect x="595" y="61.92" width="29.75" height="2.26" fill="#7dafd2"/>
<rect x="595" y="64.13" width="29.75" height="2.26" fill="#77abd0"/>
<rect x="595" y="66.34" width="29.75" height="2.26" fill="#75a9cf"/>
<rect x="595" y="68.55" width="29.75" height="2.26" fill="#83b3d4"/>
<rect x="595" y="70.76" width="29.75" height="2.26" fill="#74a8cf"/>
<rect x="595" y="72.97" width="29.75" height="2.26" fill="#83b3d4"/>
<rect x="595" y="75.18" width="29.75" height="2.26" fill="#7badd1"/>
<rect x="595" y="77.4" width="29.75" height="2.26" fill="#75a9cf"/>
<rect x="595" y="79.61" width="29.75" height="2.26" fill="#7aadd1"/>
<rect x="595" y="81.82" width="29.75" height="2.26" fill="#75a9cf"/>
<rect x="595" y="84.03" width="29.75" height="2.26" fill="#7dafd2"/>
<rect x="595" y="86.24" width="29.75" height="2.26" fill="#7eafd2"/>
<rect x="595" y="88.45" width="29.75" height="2.26" fill="#7eb0d3"/>
<rect x="595" y="90.67" width="29.75" height="2.26" fill="#83b3d4"/>
<rect x="595" y="92.88" width="29.75" height="2.26" fill="#80b1d3"/>
<rect x="595" y="95.09" width="29.75" height="2.26" fill="#7eb0d2"/>
<rect x="595" y="97.3" width="29.75" height="2.26" fill="#79acd1"/>
<rect x="595" y="99.51" width="29.75" height="2.26" fill="#7dafd2"/>
<rect x="595" y="101.72" width="29.75" height="2.26" fill="#72a7ce"/>
<rect x="595" y="103.93" width="29.75" height="2.26" fill="#7badd1"/>
<rect x="595" y="106.15" width="29.75" height="2.26" fill="#77aad0"/>
<rect x="595" y="108.36" width="29.75" height="2.26" fill="#bdd7e8"/>
<rect x="595" y="110.57" width="29.75" height="2.26" fill="#75aacf"/>
<rect x="595" y="112.78" width="29.75" height="2.26" fill="#6aa1cb"/>
<rect x="595" y="114.99" width="29.75" height="4.47" fill="#7aadd1"/>
<rect x="595" y="119.42" width="29.75" height="2.26" fill="#79acd1"/>
<rect x="595" y="121.63" width="29.75" height="2.26" fill="#79acd0"/>
<rect x="595" y="123.84" width="29.75" height="2.26" fill="#7fb0d3"/>
<rect x="595" y="126.05" width="29.75" height="2.26" fill="#6fa5cd"/>
<rect x="595" y="128.26" width="29.75" height="2.26" fill="#7dafd2"/>
<rect x="595" y="130.47" width="29.75" height="2.26" fill="#6da3cc"/>
<rect x="595" y="132.68" width="29.75" height="2.26" fill="#78abd0"/>
<rect x="595" y="134.9" width="29.75" height="2.26" fill="#7baed1"/>
<rect x="595" y="137.11" width="29.75" height="2.26" fill="#71a6ce"/>
<rect x="595" y="139.32" width="29.75" height="2.26" fill="#7aadd1"/>
<rect x="595" y="141.53" width="29.75" height="2.26" fill="#87b5d5"/>
<rect x="595" y="143.74" width="29.75" height="2.26" fill="#78abd0"/>
<rect x="595" y="145.95" width="29.75" height="2.26" fill="#c8deec"/>
<rect x="595" y="148.17" width="29.75" height="2.26" fill="#d1e3ef"/>
<rect x="595" y="150.38" width="29.75" height="2.26" fill="#cee2ee"/>
<rect x="595" y="152.59" width="29.75" height="2.26" fill="#79acd0"/>
<line x1="386.75" y1="39.8" x2="386.75" y2="154.8" stroke="rgba(190,190,190,0.45)" stroke-width="0.5"/>
<line x1="416.5" y1="39.8" x2="416.5" y2="154.8" stroke="rgba(190,190,190,0.45)" stroke-width="0.5"/>
<line x1="446.25" y1="39.8" x2="446.25" y2="154.8" stroke="rgba(190,190,190,0.45)" stroke-width="0.5"/>
<line x1="476" y1="39.8" x2="476" y2="154.8" stroke="rgba(190,190,190,0.45)" stroke-width="0.5"/>
<line x1="505.75" y1="39.8" x2="505.75" y2="154.8" stroke="rgba(190,190,190,0.45)" stroke-width="0.5"/>
<line x1="535.5" y1="39.8" x2="535.5" y2="154.8" stroke="rgba(190,190,190,0.45)" stroke-width="0.5"/>
<line x1="565.25" y1="39.8" x2="565.25" y2="154.8" stroke="rgba(190,190,190,0.45)" stroke-width="0.5"/>
<line x1="595" y1="39.8" x2="595" y2="154.8" stroke="rgba(190,190,190,0.45)" stroke-width="0.5"/>
<rect x="357" y="155.7" width="29.75" height="2.25" fill="#e3edf3"/>
<rect x="357" y="157.9" width="29.75" height="2.25" fill="#e0ebf2"/>
<rect x="357" y="160.1" width="29.75" height="2.25" fill="#8db9d8"/>
<rect x="357" y="162.3" width="29.75" height="2.25" fill="#94bdda"/>
<rect x="357" y="164.49" width="29.75" height="2.25" fill="#aacbe2"/>
<rect x="357" y="166.69" width="29.75" height="2.25" fill="#98c0db"/>
<rect x="357" y="168.89" width="29.75" height="2.25" fill="#9cc2dd"/>
<rect x="357" y="171.09" width="29.75" height="2.25" fill="#92bcd9"/>
<rect x="357" y="173.29" width="29.75" height="2.25" fill="#89b6d6"/>
<rect x="357" y="175.49" width="29.75" height="2.25" fill="#91bbd9"/>
<rect x="357" y="177.69" width="29.75" height="2.25" fill="#88b6d6"/>
<rect x="357" y="179.88" width="29.75" height="2.25" fill="#87b5d5"/>
<rect x="357" y="182.08" width="29.75" height="2.25" fill="#93bcda"/>
<rect x="357" y="184.28" width="29.75" height="2.25" fill="#80b1d3"/>
<rect x="357" y="186.48" width="29.75" height="2.25" fill="#85b4d5"/>
<rect x="357" y="188.68" width="29.75" height="2.25" fill="#7dafd2"/>
<rect x="357" y="190.88" width="29.75" height="2.25" fill="#8cb8d7"/>
<rect x="357" y="193.08" width="29.75" height="2.25" fill="#86b5d5"/>
<rect x="357" y="195.27" width="29.75" height="2.25" fill="#e6eef3"/>
<rect x="357" y="197.47" width="29.75" height="2.25" fill="#eff3f5"/>
<rect x="357" y="199.67" width="29.75" height="2.25" fill="#aacbe2"/>
<rect x="357" y="201.87" width="29.75" height="2.25" fill="#b7d3e6"/>
<rect x="357" y="204.07" width="29.75" height="2.25" fill="#b9d4e7"/>
<rect x="357" y="206.27" width="29.75" height="2.25" fill="#aecee3"/>
<rect x="357" y="208.47" width="29.75" height="2.25" fill="#a2c6df"/>
<rect x="357" y="210.67" width="29.75" height="4.45" fill="#a5c8e0"/>
<rect x="357" y="215.06" width="29.75" height="2.25" fill="#9cc2dd"/>
<rect x="357" y="217.26" width="29.75" height="2.25" fill="#bdd7e8"/>
<rect x="357" y="219.46" width="29.75" height="2.25" fill="#aacbe2"/>
<rect x="357" y="221.66" width="29.75" height="2.25" fill="#a0c5de"/>
<rect x="357" y="223.86" width="29.75" height="2.25" fill="#b0cfe4"/>
<rect x="357" y="226.06" width="29.75" height="2.25" fill="#a1c5df"/>
<rect x="357" y="228.25" width="29.75" height="2.25" fill="#a9cbe2"/>
<rect x="357" y="230.45" width="29.75" height="2.25" fill="#bad5e7"/>
<rect x="357" y="232.65" width="29.75" height="2.25" fill="#b1cfe4"/>
<rect x="357" y="234.85" width="29.75" height="2.25" fill="#9fc4de"/>
<rect x="357" y="237.05" width="29.75" height="2.25" fill="#a2c6df"/>
<rect x="357" y="239.25" width="29.75" height="2.25" fill="#4283bc"/>
<rect x="357" y="241.45" width="29.75" height="2.25" fill="#4181bb"/>
<rect x="357" y="243.64" width="29.75" height="2.25" fill="#407fba"/>
<rect x="357" y="245.84" width="29.75" height="2.25" fill="#4181bb"/>
<rect x="357" y="248.04" width="29.75" height="2.25" fill="#4181ba"/>
<rect x="357" y="250.24" width="29.75" height="2.25" fill="#85b4d5"/>
<rect x="357" y="252.44" width="29.75" height="2.25" fill="#90bbd9"/>
<rect x="357" y="254.64" width="29.75" height="2.25" fill="#86b5d5"/>
<rect x="357" y="256.84" width="29.75" height="2.25" fill="#84b3d4"/>
<rect x="357" y="259.03" width="29.75" height="2.25" fill="#78abd0"/>
<rect x="357" y="261.23" width="29.75" height="2.25" fill="#7dafd2"/>
<rect x="357" y="263.43" width="29.75" height="2.25" fill="#c4dbeb"/>
<rect x="357" y="265.63" width="29.75" height="2.25" fill="#86b4d5"/>
<rect x="357" y="267.83" width="29.75" height="2.25" fill="#dde9f1"/>
<rect x="357" y="270.03" width="29.75" height="2.25" fill="#84b4d5"/>
<rect x="357" y="272.23" width="29.75" height="2.25" fill="#4484bd"/>
<rect x="357" y="274.42" width="29.75" height="2.25" fill="#3e7db8"/>
<rect x="357" y="276.62" width="29.75" height="2.25" fill="#dae8f1"/>
<rect x="357" y="278.82" width="29.75" height="2.25" fill="#4384bc"/>
<rect x="357" y="281.02" width="29.75" height="2.25" fill="#3f7eb9"/>
<rect x="357" y="283.22" width="29.75" height="2.25" fill="#4586bd"/>
<rect x="357" y="285.42" width="29.75" height="2.25" fill="#71a6ce"/>
<rect x="357" y="287.62" width="29.75" height="2.25" fill="#7fb0d3"/>
<rect x="357" y="289.82" width="29.75" height="2.25" fill="#6ca2cc"/>
<rect x="357" y="292.01" width="29.75" height="2.25" fill="#6ea4cc"/>
<rect x="357" y="294.21" width="29.75" height="2.25" fill="#78abd0"/>
<rect x="357" y="296.41" width="29.75" height="2.25" fill="#76aad0"/>
<rect x="357" y="298.61" width="29.75" height="2.25" fill="#72a7ce"/>
<rect x="357" y="300.81" width="29.75" height="2.25" fill="#74a8cf"/>
<rect x="357" y="303.01" width="29.75" height="2.25" fill="#71a6cd"/>
<rect x="357" y="305.21" width="29.75" height="2.25" fill="#6da3cc"/>
<rect x="357" y="307.4" width="29.75" height="2.25" fill="#80b1d3"/>
<rect x="357" y="309.6" width="29.75" height="2.25" fill="#79acd0"/>
<rect x="357" y="311.8" width="29.75" height="2.25" fill="#7aacd1"/>
<rect x="386.75" y="155.7" width="29.75" height="2.25" fill="#f9d8ca"/>
<rect x="386.75" y="157.9" width="29.75" height="2.25" fill="#f9dacc"/>
<rect x="386.75" y="160.1" width="29.75" height="2.25" fill="#f9dbcd"/>
<rect x="386.75" y="162.3" width="29.75" height="2.25" fill="#f9d9ca"/>
<rect x="386.75" y="164.49" width="29.75" height="2.25" fill="#f9dacd"/>
<rect x="386.75" y="166.69" width="29.75" height="2.25" fill="#f9e0d5"/>
<rect x="386.75" y="168.89" width="29.75" height="2.25" fill="#f9dfd3"/>
<rect x="386.75" y="171.09" width="29.75" height="2.25" fill="#f9ded1"/>
<rect x="386.75" y="173.29" width="29.75" height="2.25" fill="#f9ded2"/>
<rect x="386.75" y="175.49" width="29.75" height="2.25" fill="#f8e5dd"/>
<rect x="386.75" y="177.69" width="29.75" height="2.25" fill="#bdd7e8"/>
<rect x="386.75" y="179.88" width="29.75" height="2.25" fill="#e2ecf2"/>
<rect x="386.75" y="182.08" width="29.75" height="2.25" fill="#c6ddec"/>
<rect x="386.75" y="184.28" width="29.75" height="2.25" fill="#e8eff4"/>
<rect x="386.75" y="186.48" width="29.75" height="2.25" fill="#c8deec"/>
<rect x="386.75" y="188.68" width="29.75" height="2.25" fill="#c1d9ea"/>
<rect x="386.75" y="190.88" width="29.75" height="2.25" fill="#cee2ee"/>
<rect x="386.75" y="193.08" width="29.75" height="2.25" fill="#e5edf3"/>
<rect x="386.75" y="195.27" width="29.75" height="2.25" fill="#c8deec"/>
<rect x="386.75" y="197.47" width="29.75" height="2.25" fill="#bed8e9"/>
<rect x="386.75" y="199.67" width="29.75" height="2.25" fill="#bbd5e8"/>
<rect x="386.75" y="201.87" width="29.75" height="2.25" fill="#c0d9ea"/>
<rect x="386.75" y="204.07" width="29.75" height="2.25" fill="#accde3"/>
<rect x="386.75" y="206.27" width="29.75" height="2.25" fill="#a8cae1"/>
<rect x="386.75" y="208.47" width="29.75" height="2.25" fill="#bed7e9"/>
<rect x="386.75" y="210.67" width="29.75" height="2.25" fill="#aacbe2"/>
<rect x="386.75" y="212.86" width="29.75" height="2.25" fill="#bdd7e8"/>
<rect x="386.75" y="215.06" width="29.75" height="2.25" fill="#eef2f5"/>
<rect x="386.75" y="217.26" width="29.75" height="2.25" fill="#e6eef3"/>
<rect x="386.75" y="219.46" width="29.75" height="2.25" fill="#ebf1f5"/>
<rect x="386.75" y="221.66" width="29.75" height="2.25" fill="#e7eff4"/>
<rect x="386.75" y="223.86" width="29.75" height="2.25" fill="#e2ecf3"/>
<rect x="386.75" y="226.06" width="29.75" height="2.25" fill="#eff3f5"/>
<rect x="386.75" y="228.25" width="29.75" height="2.25" fill="#e3edf3"/>
<rect x="386.75" y="230.45" width="29.75" height="2.25" fill="#f7f4f2"/>
<rect x="386.75" y="232.65" width="29.75" height="2.25" fill="#f8efeb"/>
<rect x="386.75" y="234.85" width="29.75" height="2.25" fill="#f8e5dc"/>
<rect x="386.75" y="237.05" width="29.75" height="2.25" fill="#f8eae3"/>
<rect x="386.75" y="239.25" width="29.75" height="2.25" fill="#f8efec"/>
<rect x="386.75" y="241.45" width="29.75" height="2.25" fill="#f9e2d7"/>
<rect x="386.75" y="243.64" width="29.75" height="2.25" fill="#f7f3f1"/>
<rect x="386.75" y="245.84" width="29.75" height="2.25" fill="#f8ede8"/>
<rect x="386.75" y="248.04" width="29.75" height="2.25" fill="#f8ebe5"/>
<rect x="386.75" y="250.24" width="29.75" height="2.25" fill="#f8e9e2"/>
<rect x="386.75" y="252.44" width="29.75" height="2.25" fill="#f8eeea"/>
<rect x="386.75" y="254.64" width="29.75" height="2.25" fill="#f8f0ec"/>
<rect x="386.75" y="256.84" width="29.75" height="2.25" fill="#f8e9e2"/>
<rect x="386.75" y="259.03" width="29.75" height="2.25" fill="#f8e7df"/>
<rect x="386.75" y="261.23" width="29.75" height="2.25" fill="#5b96c5"/>
<rect x="386.75" y="263.43" width="29.75" height="2.25" fill="#4b8bc0"/>
<rect x="386.75" y="265.63" width="29.75" height="2.25" fill="#5290c2"/>
<rect x="386.75" y="267.83" width="29.75" height="2.25" fill="#5894c5"/>
<rect x="386.75" y="270.03" width="29.75" height="2.25" fill="#d3e4ef"/>
<rect x="386.75" y="272.23" width="29.75" height="2.25" fill="#dce9f1"/>
<rect x="386.75" y="274.42" width="29.75" height="2.25" fill="#eff3f5"/>
<rect x="386.75" y="276.62" width="29.75" height="2.25" fill="#deeaf2"/>
<rect x="386.75" y="278.82" width="29.75" height="2.25" fill="#dfeaf2"/>
<rect x="386.75" y="281.02" width="29.75" height="2.25" fill="#8db9d8"/>
<rect x="386.75" y="283.22" width="29.75" height="2.25" fill="#88b6d6"/>
<rect x="386.75" y="285.42" width="29.75" height="2.25" fill="#87b5d5"/>
<rect x="386.75" y="287.62" width="29.75" height="2.25" fill="#85b4d5"/>
<rect x="386.75" y="289.82" width="29.75" height="2.25" fill="#7fb0d3"/>
<rect x="386.75" y="292.01" width="29.75" height="2.25" fill="#86b5d5"/>
<rect x="386.75" y="294.21" width="29.75" height="2.25" fill="#518fc2"/>
<rect x="386.75" y="296.41" width="29.75" height="2.25" fill="#4282bc"/>
<rect x="386.75" y="298.61" width="29.75" height="2.25" fill="#c3dbeb"/>
<rect x="386.75" y="300.81" width="29.75" height="4.45" fill="#4888bf"/>
<rect x="386.75" y="305.21" width="29.75" height="2.25" fill="#4f8ec1"/>
<rect x="386.75" y="307.4" width="29.75" height="2.25" fill="#4485bd"/>
<rect x="386.75" y="309.6" width="29.75" height="2.25" fill="#4282bb"/>
<rect x="386.75" y="311.8" width="29.75" height="2.25" fill="#518fc2"/>
<rect x="416.5" y="155.7" width="29.75" height="2.25" fill="#eef2f5"/>
<rect x="416.5" y="157.9" width="29.75" height="2.25" fill="#f1f4f6"/>
<rect x="416.5" y="160.1" width="29.75" height="2.25" fill="#eef2f5"/>
<rect x="416.5" y="162.3" width="29.75" height="2.25" fill="#f0f3f5"/>
<rect x="416.5" y="164.49" width="29.75" height="2.25" fill="#ebf1f4"/>
<rect x="416.5" y="166.69" width="29.75" height="2.25" fill="#f2f4f6"/>
<rect x="416.5" y="168.89" width="29.75" height="2.25" fill="#eff3f5"/>
<rect x="416.5" y="171.09" width="29.75" height="2.25" fill="#f2f4f6"/>
<rect x="416.5" y="173.29" width="29.75" height="2.25" fill="#f4f5f6"/>
<rect x="416.5" y="175.49" width="29.75" height="2.25" fill="#f0f3f5"/>
<rect x="416.5" y="177.69" width="29.75" height="2.25" fill="#e4edf3"/>
<rect x="416.5" y="179.88" width="29.75" height="2.25" fill="#c1daea"/>
<rect x="416.5" y="182.08" width="29.75" height="2.25" fill="#b1cfe4"/>
<rect x="416.5" y="184.28" width="29.75" height="2.25" fill="#b8d4e7"/>
<rect x="416.5" y="186.48" width="29.75" height="2.25" fill="#b6d2e6"/>
<rect x="416.5" y="188.68" width="29.75" height="2.25" fill="#e4edf3"/>
<rect x="416.5" y="190.88" width="29.75" height="2.25" fill="#b1d0e4"/>
<rect x="416.5" y="193.08" width="29.75" height="2.25" fill="#b7d3e6"/>
<rect x="416.5" y="195.27" width="29.75" height="2.25" fill="#e2ecf3"/>
<rect x="416.5" y="197.47" width="29.75" height="2.25" fill="#a9cae1"/>
<rect x="416.5" y="199.67" width="29.75" height="2.25" fill="#82b2d4"/>
<rect x="416.5" y="201.87" width="29.75" height="2.25" fill="#dae8f1"/>
<rect x="416.5" y="204.07" width="29.75" height="2.25" fill="#76aacf"/>
<rect x="416.5" y="206.27" width="29.75" height="2.25" fill="#83b3d4"/>
<rect x="416.5" y="208.47" width="29.75" height="2.25" fill="#7cafd2"/>
<rect x="416.5" y="210.67" width="29.75" height="2.25" fill="#8cb9d7"/>
<rect x="416.5" y="212.86" width="29.75" height="2.25" fill="#7fb0d3"/>
<rect x="416.5" y="215.06" width="29.75" height="2.25" fill="#cee2ee"/>
<rect x="416.5" y="217.26" width="29.75" height="2.25" fill="#b9d5e7"/>
<rect x="416.5" y="219.46" width="29.75" height="2.25" fill="#d1e3ef"/>
<rect x="416.5" y="221.66" width="29.75" height="2.25" fill="#eef2f5"/>
<rect x="416.5" y="223.86" width="29.75" height="2.25" fill="#cde1ee"/>
<rect x="416.5" y="226.06" width="29.75" height="2.25" fill="#b8d4e7"/>
<rect x="416.5" y="228.25" width="29.75" height="2.25" fill="#c1d9ea"/>
<rect x="416.5" y="230.45" width="29.75" height="2.25" fill="#eff3f5"/>
<rect x="416.5" y="232.65" width="29.75" height="2.25" fill="#ebf0f4"/>
<rect x="416.5" y="234.85" width="29.75" height="2.25" fill="#7badd1"/>
<rect x="416.5" y="237.05" width="29.75" height="2.25" fill="#75a9cf"/>
<rect x="416.5" y="239.25" width="29.75" height="2.25" fill="#83b3d4"/>
<rect x="416.5" y="241.45" width="29.75" height="2.25" fill="#83b2d4"/>
<rect x="416.5" y="243.64" width="29.75" height="2.25" fill="#8ebad8"/>
<rect x="416.5" y="245.84" width="29.75" height="2.25" fill="#d8e7f0"/>
<rect x="416.5" y="248.04" width="29.75" height="2.25" fill="#d5e5f0"/>
<rect x="416.5" y="250.24" width="29.75" height="2.25" fill="#d9e7f0"/>
<rect x="416.5" y="252.44" width="29.75" height="2.25" fill="#d9e7f1"/>
<rect x="416.5" y="254.64" width="29.75" height="2.25" fill="#ebf1f4"/>
<rect x="416.5" y="256.84" width="29.75" height="2.25" fill="#d3e4ef"/>
<rect x="416.5" y="259.03" width="29.75" height="2.25" fill="#d7e6f0"/>
<rect x="416.5" y="261.23" width="29.75" height="2.25" fill="#dfeaf2"/>
<rect x="416.5" y="263.43" width="29.75" height="2.25" fill="#9dc3dd"/>
<rect x="416.5" y="265.63" width="29.75" height="2.25" fill="#dce9f1"/>
<rect x="416.5" y="267.83" width="29.75" height="2.25" fill="#a5c8e0"/>
<rect x="416.5" y="270.03" width="29.75" height="2.25" fill="#99c1dc"/>
<rect x="416.5" y="272.23" width="29.75" height="2.25" fill="#e0ebf2"/>
<rect x="416.5" y="274.42" width="29.75" height="2.25" fill="#abcce2"/>
<rect x="416.5" y="276.62" width="29.75" height="2.25" fill="#9ac1dc"/>
<rect x="416.5" y="278.82" width="29.75" height="2.25" fill="#a6c9e0"/>
<rect x="416.5" y="281.02" width="29.75" height="2.25" fill="#f4f6f6"/>
<rect x="416.5" y="283.22" width="29.75" height="2.25" fill="#ebf1f4"/>
<rect x="416.5" y="285.42" width="29.75" height="2.25" fill="#b5d2e6"/>
<rect x="416.5" y="287.62" width="29.75" height="4.45" fill="#a2c6df"/>
<rect x="416.5" y="292.01" width="29.75" height="2.25" fill="#a9cae1"/>
<rect x="416.5" y="294.21" width="29.75" height="2.25" fill="#bdd7e8"/>
<rect x="416.5" y="296.41" width="29.75" height="2.25" fill="#aecee3"/>
<rect x="416.5" y="298.61" width="29.75" height="2.25" fill="#aacbe2"/>
<rect x="416.5" y="300.81" width="29.75" height="2.25" fill="#a8cae1"/>
<rect x="416.5" y="303.01" width="29.75" height="2.25" fill="#b4d1e5"/>
<rect x="416.5" y="305.21" width="29.75" height="2.25" fill="#aecee3"/>
<rect x="416.5" y="307.4" width="29.75" height="2.25" fill="#b2d0e5"/>
<rect x="416.5" y="309.6" width="29.75" height="2.25" fill="#b7d4e6"/>
<rect x="416.5" y="311.8" width="29.75" height="2.25" fill="#accce2"/>
<rect x="446.25" y="155.7" width="29.75" height="2.25" fill="#d0e2ef"/>
<rect x="446.25" y="157.9" width="29.75" height="2.25" fill="#d7e6f0"/>
<rect x="446.25" y="160.1" width="29.75" height="2.25" fill="#cee2ee"/>
<rect x="446.25" y="162.3" width="29.75" height="2.25" fill="#d3e4ef"/>
<rect x="446.25" y="164.49" width="29.75" height="2.25" fill="#d1e3ef"/>
<rect x="446.25" y="166.69" width="29.75" height="2.25" fill="#dfebf2"/>
<rect x="446.25" y="168.89" width="29.75" height="2.25" fill="#d4e5f0"/>
<rect x="446.25" y="171.09" width="29.75" height="2.25" fill="#d0e2ef"/>
<rect x="446.25" y="173.29" width="29.75" height="2.25" fill="#dbe8f1"/>
<rect x="446.25" y="175.49" width="29.75" height="2.25" fill="#dde9f1"/>
<rect x="446.25" y="177.69" width="29.75" height="2.25" fill="#d4e5f0"/>
<rect x="446.25" y="179.88" width="29.75" height="2.25" fill="#cde1ee"/>
<rect x="446.25" y="182.08" width="29.75" height="2.25" fill="#c8deec"/>
<rect x="446.25" y="184.28" width="29.75" height="2.25" fill="#cee2ee"/>
<rect x="446.25" y="186.48" width="29.75" height="2.25" fill="#edf2f5"/>
<rect x="446.25" y="188.68" width="29.75" height="2.25" fill="#c7ddec"/>
<rect x="446.25" y="190.88" width="29.75" height="2.25" fill="#c6ddec"/>
<rect x="446.25" y="193.08" width="29.75" height="2.25" fill="#c3dbeb"/>
<rect x="446.25" y="195.27" width="29.75" height="2.25" fill="#c2daea"/>
<rect x="446.25" y="197.47" width="29.75" height="2.25" fill="#c8deec"/>
<rect x="446.25" y="199.67" width="29.75" height="2.25" fill="#cee1ee"/>
<rect x="446.25" y="201.87" width="29.75" height="2.25" fill="#cadfed"/>
<rect x="446.25" y="204.07" width="29.75" height="2.25" fill="#bcd6e8"/>
<rect x="446.25" y="206.27" width="29.75" height="2.25" fill="#cfe2ee"/>
<rect x="446.25" y="208.47" width="29.75" height="2.25" fill="#c4dbeb"/>
<rect x="446.25" y="210.67" width="29.75" height="2.25" fill="#cee2ee"/>
<rect x="446.25" y="212.86" width="29.75" height="2.25" fill="#cde1ee"/>
<rect x="446.25" y="215.06" width="29.75" height="2.25" fill="#97bfdb"/>
<rect x="446.25" y="217.26" width="29.75" height="4.45" fill="#95beda"/>
<rect x="446.25" y="221.66" width="29.75" height="2.25" fill="#98c0db"/>
<rect x="446.25" y="223.86" width="29.75" height="2.25" fill="#accce2"/>
<rect x="446.25" y="226.06" width="29.75" height="2.25" fill="#aecee3"/>
<rect x="446.25" y="228.25" width="29.75" height="2.25" fill="#a3c7df"/>
<rect x="446.25" y="230.45" width="29.75" height="2.25" fill="#3774b3"/>
<rect x="446.25" y="232.65" width="29.75" height="2.25" fill="#d8e7f0"/>
<rect x="446.25" y="234.85" width="29.75" height="2.25" fill="#c5dceb"/>
<rect x="446.25" y="237.05" width="29.75" height="2.25" fill="#e4edf3"/>
<rect x="446.25" y="239.25" width="29.75" height="4.45" fill="#d3e4ef"/>
<rect x="446.25" y="243.64" width="29.75" height="2.25" fill="#d5e5f0"/>
<rect x="446.25" y="245.84" width="29.75" height="2.25" fill="#e7eef3"/>
<rect x="446.25" y="248.04" width="29.75" height="2.25" fill="#cde1ee"/>
<rect x="446.25" y="250.24" width="29.75" height="2.25" fill="#d3e4ef"/>
<rect x="446.25" y="252.44" width="29.75" height="2.25" fill="#d4e5f0"/>
<rect x="446.25" y="254.64" width="29.75" height="2.25" fill="#cfe2ee"/>
<rect x="446.25" y="256.84" width="29.75" height="2.25" fill="#d3e4ef"/>
<rect x="446.25" y="259.03" width="29.75" height="2.25" fill="#bcd6e8"/>
<rect x="446.25" y="261.23" width="29.75" height="2.25" fill="#f8e8e0"/>
<rect x="446.25" y="263.43" width="29.75" height="2.25" fill="#f9e1d7"/>
<rect x="446.25" y="265.63" width="29.75" height="2.25" fill="#f9d6c6"/>
<rect x="446.25" y="267.83" width="29.75" height="2.25" fill="#f9d8c9"/>
<rect x="446.25" y="270.03" width="29.75" height="2.25" fill="#f8ece7"/>
<rect x="446.25" y="272.23" width="29.75" height="2.25" fill="#f9dccf"/>
<rect x="446.25" y="274.42" width="29.75" height="4.45" fill="#f9e2d8"/>
<rect x="446.25" y="278.82" width="29.75" height="2.25" fill="#f7f1ef"/>
<rect x="446.25" y="281.02" width="29.75" height="2.25" fill="#f9dccf"/>
<rect x="446.25" y="283.22" width="29.75" height="2.25" fill="#f9e0d5"/>
<rect x="446.25" y="285.42" width="29.75" height="2.25" fill="#d9e7f1"/>
<rect x="446.25" y="287.62" width="29.75" height="2.25" fill="#dae8f1"/>
<rect x="446.25" y="289.82" width="29.75" height="2.25" fill="#d7e6f0"/>
<rect x="446.25" y="292.01" width="29.75" height="2.25" fill="#cfe2ee"/>
<rect x="446.25" y="294.21" width="29.75" height="2.25" fill="#e9eff4"/>
<rect x="446.25" y="296.41" width="29.75" height="2.25" fill="#d3e4ef"/>
<rect x="446.25" y="298.61" width="29.75" height="2.25" fill="#d1e3ef"/>
<rect x="446.25" y="300.81" width="29.75" height="2.25" fill="#e1ecf2"/>
<rect x="446.25" y="303.01" width="29.75" height="2.25" fill="#c9deec"/>
<rect x="446.25" y="305.21" width="29.75" height="2.25" fill="#eef2f5"/>
<rect x="446.25" y="307.4" width="29.75" height="2.25" fill="#d4e5ef"/>
<rect x="446.25" y="309.6" width="29.75" height="2.25" fill="#dbe8f1"/>
<rect x="446.25" y="311.8" width="29.75" height="2.25" fill="#d9e7f1"/>
<rect x="476" y="155.7" width="29.75" height="2.25" fill="#4080ba"/>
<rect x="476" y="157.9" width="29.75" height="2.25" fill="#4180ba"/>
<rect x="476" y="160.1" width="29.75" height="2.25" fill="#4586be"/>
<rect x="476" y="162.3" width="29.75" height="2.25" fill="#7eb0d2"/>
<rect x="476" y="164.49" width="29.75" height="2.25" fill="#7dafd2"/>
<rect x="476" y="166.69" width="29.75" height="2.25" fill="#77aad0"/>
<rect x="476" y="168.89" width="29.75" height="2.25" fill="#80b1d3"/>
<rect x="476" y="171.09" width="29.75" height="2.25" fill="#6aa1cb"/>
<rect x="476" y="173.29" width="29.75" height="2.25" fill="#75a9cf"/>
<rect x="476" y="175.49" width="29.75" height="2.25" fill="#86b4d5"/>
<rect x="476" y="177.69" width="29.75" height="2.25" fill="#89b7d6"/>
<rect x="476" y="179.88" width="29.75" height="2.25" fill="#7fb0d3"/>
<rect x="476" y="182.08" width="29.75" height="2.25" fill="#77aad0"/>
<rect x="476" y="184.28" width="29.75" height="2.25" fill="#87b5d6"/>
<rect x="476" y="186.48" width="29.75" height="2.25" fill="#79acd1"/>
<rect x="476" y="188.68" width="29.75" height="2.25" fill="#78acd0"/>
<rect x="476" y="190.88" width="29.75" height="2.25" fill="#e8eff4"/>
<rect x="476" y="193.08" width="29.75" height="4.45" fill="#ebf1f4"/>
<rect x="476" y="197.47" width="29.75" height="2.25" fill="#f1f4f6"/>
<rect x="476" y="199.67" width="29.75" height="2.25" fill="#e2ecf2"/>
<rect x="476" y="201.87" width="29.75" height="2.25" fill="#e3ecf3"/>
<rect x="476" y="204.07" width="29.75" height="2.25" fill="#e0ebf2"/>
<rect x="476" y="206.27" width="29.75" height="2.25" fill="#e1ecf2"/>
<rect x="476" y="208.47" width="29.75" height="2.25" fill="#deeaf2"/>
<rect x="476" y="210.67" width="29.75" height="2.25" fill="#e6eef3"/>
<rect x="476" y="212.86" width="29.75" height="2.25" fill="#e4edf3"/>
<rect x="476" y="215.06" width="29.75" height="2.25" fill="#f7f0ed"/>
<rect x="476" y="217.26" width="29.75" height="2.25" fill="#f8e8e1"/>
<rect x="476" y="219.46" width="29.75" height="2.25" fill="#f8eee9"/>
<rect x="476" y="221.66" width="29.75" height="2.25" fill="#f7f4f2"/>
<rect x="476" y="223.86" width="29.75" height="2.25" fill="#f8e9e3"/>
<rect x="476" y="226.06" width="29.75" height="2.25" fill="#f7f3f1"/>
<rect x="476" y="228.25" width="29.75" height="2.25" fill="#f6f6f7"/>
<rect x="476" y="230.45" width="29.75" height="2.25" fill="#f7f7f7"/>
<rect x="476" y="232.65" width="29.75" height="2.25" fill="#f9e2d7"/>
<rect x="476" y="234.85" width="29.75" height="2.25" fill="#b4d1e5"/>
<rect x="476" y="237.05" width="29.75" height="2.25" fill="#c7ddec"/>
<rect x="476" y="239.25" width="29.75" height="2.25" fill="#cce0ee"/>
<rect x="476" y="241.45" width="29.75" height="2.25" fill="#b2d0e4"/>
<rect x="476" y="243.64" width="29.75" height="2.25" fill="#bad5e7"/>
<rect x="476" y="245.84" width="29.75" height="2.25" fill="#bcd6e8"/>
<rect x="476" y="248.04" width="29.75" height="2.25" fill="#b0cfe4"/>
<rect x="476" y="250.24" width="29.75" height="2.25" fill="#c2daea"/>
<rect x="476" y="252.44" width="29.75" height="2.25" fill="#bfd9e9"/>
<rect x="476" y="254.64" width="29.75" height="4.45" fill="#cbe0ed"/>
<rect x="476" y="259.03" width="29.75" height="2.25" fill="#c1d9ea"/>
<rect x="476" y="261.23" width="29.75" height="2.25" fill="#e0ebf2"/>
<rect x="476" y="263.43" width="29.75" height="2.25" fill="#e3ecf3"/>
<rect x="476" y="265.63" width="29.75" height="2.25" fill="#f1f4f6"/>
<rect x="476" y="267.83" width="29.75" height="2.25" fill="#e9f0f4"/>
<rect x="476" y="270.03" width="29.75" height="2.25" fill="#eef2f5"/>
<rect x="476" y="272.23" width="29.75" height="2.25" fill="#e9f0f4"/>
<rect x="476" y="274.42" width="29.75" height="2.25" fill="#eff3f5"/>
<rect x="476" y="276.62" width="29.75" height="2.25" fill="#e9f0f4"/>
<rect x="476" y="278.82" width="29.75" height="2.25" fill="#e2ecf3"/>
<rect x="476" y="281.02" width="29.75" height="2.25" fill="#e0ebf2"/>
<rect x="476" y="283.22" width="29.75" height="2.25" fill="#eff3f5"/>
<rect x="476" y="285.42" width="29.75" height="2.25" fill="#f9dacc"/>
<rect x="476" y="287.62" width="29.75" height="2.25" fill="#f9d9ca"/>
<rect x="476" y="289.82" width="29.75" height="2.25" fill="#fad0bd"/>
<rect x="476" y="292.01" width="29.75" height="2.25" fill="#f9d6c7"/>
<rect x="476" y="294.21" width="29.75" height="2.25" fill="#f9dbce"/>
<rect x="476" y="296.41" width="29.75" height="2.25" fill="#fad3c2"/>
<rect x="476" y="298.61" width="29.75" height="2.25" fill="#f9d6c6"/>
<rect x="476" y="300.81" width="29.75" height="2.25" fill="#f1a183"/>
<rect x="476" y="303.01" width="29.75" height="2.25" fill="#ee9473"/>
<rect x="476" y="305.21" width="29.75" height="2.25" fill="#f4b298"/>
<rect x="476" y="307.4" width="29.75" height="2.25" fill="#f2a78a"/>
<rect x="476" y="309.6" width="29.75" height="2.25" fill="#f9ded2"/>
<rect x="476" y="311.8" width="29.75" height="2.25" fill="#f09f81"/>
<rect x="505.75" y="155.7" width="29.75" height="2.25" fill="#74a8cf"/>
<rect x="505.75" y="157.9" width="29.75" height="2.25" fill="#6fa5cd"/>
<rect x="505.75" y="160.1" width="29.75" height="2.25" fill="#77abd0"/>
<rect x="505.75" y="162.3" width="29.75" height="2.25" fill="#abcce2"/>
<rect x="505.75" y="164.49" width="29.75" height="2.25" fill="#74a9cf"/>
<rect x="505.75" y="166.69" width="29.75" height="2.25" fill="#7badd1"/>
<rect x="505.75" y="168.89" width="29.75" height="2.25" fill="#75a9cf"/>
<rect x="505.75" y="171.09" width="29.75" height="2.25" fill="#d6e6f0"/>
<rect x="505.75" y="173.29" width="29.75" height="2.25" fill="#6ea4cd"/>
<rect x="505.75" y="175.49" width="29.75" height="2.25" fill="#7aadd1"/>
<rect x="505.75" y="177.69" width="29.75" height="2.25" fill="#eef2f5"/>
<rect x="505.75" y="179.88" width="29.75" height="2.25" fill="#ecf1f5"/>
<rect x="505.75" y="182.08" width="29.75" height="2.25" fill="#edf2f5"/>
<rect x="505.75" y="184.28" width="29.75" height="2.25" fill="#bfd8e9"/>
<rect x="505.75" y="186.48" width="29.75" height="2.25" fill="#b7d3e6"/>
<rect x="505.75" y="188.68" width="29.75" height="4.45" fill="#b8d4e7"/>
<rect x="505.75" y="193.08" width="29.75" height="2.25" fill="#afcfe4"/>
<rect x="505.75" y="195.27" width="29.75" height="2.25" fill="#b9d5e7"/>
<rect x="505.75" y="197.47" width="29.75" height="2.25" fill="#c1d9ea"/>
<rect x="505.75" y="199.67" width="29.75" height="2.25" fill="#c2daea"/>
<rect x="505.75" y="201.87" width="29.75" height="2.25" fill="#b5d2e6"/>
<rect x="505.75" y="204.07" width="29.75" height="2.25" fill="#c6ddec"/>
<rect x="505.75" y="206.27" width="29.75" height="2.25" fill="#bbd6e8"/>
<rect x="505.75" y="208.47" width="29.75" height="2.25" fill="#b7d3e6"/>
<rect x="505.75" y="210.67" width="29.75" height="2.25" fill="#bad5e7"/>
<rect x="505.75" y="212.86" width="29.75" height="2.25" fill="#c7ddec"/>
<rect x="505.75" y="215.06" width="29.75" height="4.45" fill="#75a9cf"/>
<rect x="505.75" y="219.46" width="29.75" height="2.25" fill="#87b5d6"/>
<rect x="505.75" y="221.66" width="29.75" height="2.25" fill="#86b5d5"/>
<rect x="505.75" y="223.86" width="29.75" height="2.25" fill="#81b2d3"/>
<rect x="505.75" y="226.06" width="29.75" height="2.25" fill="#85b4d5"/>
<rect x="505.75" y="228.25" width="29.75" height="2.25" fill="#7caed1"/>
<rect x="505.75" y="230.45" width="29.75" height="2.25" fill="#7eafd2"/>
<rect x="505.75" y="232.65" width="29.75" height="2.25" fill="#87b5d5"/>
<rect x="505.75" y="234.85" width="29.75" height="2.25" fill="#7dafd2"/>
<rect x="505.75" y="237.05" width="29.75" height="2.25" fill="#87b5d6"/>
<rect x="505.75" y="239.25" width="29.75" height="2.25" fill="#85b4d5"/>
<rect x="505.75" y="241.45" width="29.75" height="2.25" fill="#bcd7e8"/>
<rect x="505.75" y="243.64" width="29.75" height="2.25" fill="#85b4d5"/>
<rect x="505.75" y="245.84" width="29.75" height="2.25" fill="#82b2d4"/>
<rect x="505.75" y="248.04" width="29.75" height="2.25" fill="#7aadd1"/>
<rect x="505.75" y="250.24" width="29.75" height="2.25" fill="#78abd0"/>
<rect x="505.75" y="252.44" width="29.75" height="2.25" fill="#8ab7d7"/>
<rect x="505.75" y="254.64" width="29.75" height="2.25" fill="#7fb0d3"/>
<rect x="505.75" y="256.84" width="29.75" height="2.25" fill="#78abd0"/>
<rect x="505.75" y="259.03" width="29.75" height="2.25" fill="#7fb0d3"/>
<rect x="505.75" y="261.23" width="29.75" height="2.25" fill="#dfebf2"/>
<rect x="505.75" y="263.43" width="29.75" height="2.25" fill="#cfe2ef"/>
<rect x="505.75" y="265.63" width="29.75" height="2.25" fill="#d5e5f0"/>
<rect x="505.75" y="267.83" width="29.75" height="2.25" fill="#cadfed"/>
<rect x="505.75" y="270.03" width="29.75" height="2.25" fill="#d7e6f0"/>
<rect x="505.75" y="272.23" width="29.75" height="2.25" fill="#d4e5f0"/>
<rect x="505.75" y="274.42" width="29.75" height="2.25" fill="#d5e5f0"/>
<rect x="505.75" y="276.62" width="29.75" height="2.25" fill="#e1ebf2"/>
<rect x="505.75" y="278.82" width="29.75" height="2.25" fill="#d5e5f0"/>
<rect x="505.75" y="281.02" width="29.75" height="2.25" fill="#edf2f5"/>
<rect x="505.75" y="283.22" width="29.75" height="2.25" fill="#e9eff4"/>
<rect x="505.75" y="285.42" width="29.75" height="2.25" fill="#e7eff4"/>
<rect x="505.75" y="287.62" width="29.75" height="2.25" fill="#f0f3f5"/>
<rect x="505.75" y="289.82" width="29.75" height="2.25" fill="#e5eef3"/>
<rect x="505.75" y="292.01" width="29.75" height="2.25" fill="#ecf1f5"/>
<rect x="505.75" y="294.21" width="29.75" height="2.25" fill="#edf2f5"/>
<rect x="505.75" y="296.41" width="29.75" height="2.25" fill="#eef2f5"/>
<rect x="505.75" y="298.61" width="29.75" height="2.25" fill="#ecf1f5"/>
<rect x="505.75" y="300.81" width="29.75" height="2.25" fill="#eaf0f4"/>
<rect x="505.75" y="303.01" width="29.75" height="2.25" fill="#ecf1f5"/>
<rect x="505.75" y="305.21" width="29.75" height="2.25" fill="#eaf0f4"/>
<rect x="505.75" y="307.4" width="29.75" height="2.25" fill="#edf2f5"/>
<rect x="505.75" y="309.6" width="29.75" height="2.25" fill="#f2f4f6"/>
<rect x="505.75" y="311.8" width="29.75" height="2.25" fill="#f0f3f5"/>
<rect x="535.5" y="155.7" width="29.75" height="2.25" fill="#f8e8e1"/>
<rect x="535.5" y="157.9" width="29.75" height="2.25" fill="#f6b9a1"/>
<rect x="535.5" y="160.1" width="29.75" height="2.25" fill="#f9c9b4"/>
<rect x="535.5" y="162.3" width="29.75" height="2.25" fill="#f8c4ae"/>
<rect x="535.5" y="164.49" width="29.75" height="2.25" fill="#f7bfa7"/>
<rect x="535.5" y="166.69" width="29.75" height="2.25" fill="#f8c5af"/>
<rect x="535.5" y="168.89" width="29.75" height="2.25" fill="#f9cab5"/>
<rect x="535.5" y="171.09" width="29.75" height="2.25" fill="#f6bba3"/>
<rect x="535.5" y="173.29" width="29.75" height="2.25" fill="#f8c2ac"/>
<rect x="535.5" y="175.49" width="29.75" height="2.25" fill="#f7c1aa"/>
<rect x="535.5" y="177.69" width="29.75" height="2.25" fill="#d6604d"/>
<rect x="535.5" y="179.88" width="29.75" height="2.25" fill="#da6852"/>
<rect x="535.5" y="182.08" width="29.75" height="2.25" fill="#d35b4b"/>
<rect x="535.5" y="184.28" width="29.75" height="2.25" fill="#d55f4c"/>
<rect x="535.5" y="186.48" width="29.75" height="2.25" fill="#f8c2ac"/>
<rect x="535.5" y="188.68" width="29.75" height="2.25" fill="#facfbc"/>
<rect x="535.5" y="190.88" width="29.75" height="2.25" fill="#cd5046"/>
<rect x="535.5" y="193.08" width="29.75" height="2.25" fill="#ce5347"/>
<rect x="535.5" y="195.27" width="29.75" height="2.25" fill="#eb8a68"/>
<rect x="535.5" y="197.47" width="29.75" height="2.25" fill="#ec8d6b"/>
<rect x="535.5" y="199.67" width="29.75" height="2.25" fill="#ed916f"/>
<rect x="535.5" y="201.87" width="29.75" height="4.45" fill="#e88464"/>
<rect x="535.5" y="206.27" width="29.75" height="2.25" fill="#ea8866"/>
<rect x="535.5" y="208.47" width="29.75" height="2.25" fill="#ea8967"/>
<rect x="535.5" y="210.67" width="29.75" height="2.25" fill="#e88363"/>
<rect x="535.5" y="212.86" width="29.75" height="2.25" fill="#facfbc"/>
<rect x="535.5" y="215.06" width="29.75" height="2.25" fill="#ec8e6b"/>
<rect x="535.5" y="217.26" width="29.75" height="2.25" fill="#f9dacc"/>
<rect x="535.5" y="219.46" width="29.75" height="2.25" fill="#ed8f6d"/>
<rect x="535.5" y="221.66" width="29.75" height="2.25" fill="#ef9878"/>
<rect x="535.5" y="223.86" width="29.75" height="2.25" fill="#ed9270"/>
<rect x="535.5" y="226.06" width="29.75" height="2.25" fill="#ec8b68"/>
<rect x="535.5" y="228.25" width="29.75" height="2.25" fill="#fad2c0"/>
<rect x="535.5" y="230.45" width="29.75" height="2.25" fill="#ec8c69"/>
<rect x="535.5" y="232.65" width="29.75" height="2.25" fill="#ee9473"/>
<rect x="535.5" y="234.85" width="29.75" height="2.25" fill="#f7c1aa"/>
<rect x="535.5" y="237.05" width="29.75" height="2.25" fill="#f4b399"/>
<rect x="535.5" y="239.25" width="29.75" height="2.25" fill="#f1a588"/>
<rect x="535.5" y="241.45" width="29.75" height="2.25" fill="#f8e5dd"/>
<rect x="535.5" y="243.64" width="29.75" height="2.25" fill="#ef9c7c"/>
<rect x="535.5" y="245.84" width="29.75" height="2.25" fill="#ee9575"/>
<rect x="535.5" y="248.04" width="29.75" height="2.25" fill="#ee9776"/>
<rect x="535.5" y="250.24" width="29.75" height="2.25" fill="#f1a284"/>
<rect x="535.5" y="252.44" width="29.75" height="2.25" fill="#eb8a67"/>
<rect x="535.5" y="254.64" width="29.75" height="2.25" fill="#ed906e"/>
<rect x="535.5" y="256.84" width="29.75" height="2.25" fill="#f1a183"/>
<rect x="535.5" y="259.03" width="29.75" height="2.25" fill="#ed8f6c"/>
<rect x="535.5" y="261.23" width="29.75" height="2.25" fill="#facdb9"/>
<rect x="535.5" y="263.43" width="29.75" height="2.25" fill="#fad2c0"/>
<rect x="535.5" y="265.63" width="29.75" height="2.25" fill="#f9e0d5"/>
<rect x="535.5" y="267.83" width="29.75" height="2.25" fill="#f9d9ca"/>
<rect x="535.5" y="270.03" width="29.75" height="2.25" fill="#ee9473"/>
<rect x="535.5" y="272.23" width="29.75" height="2.25" fill="#fad1bf"/>
<rect x="535.5" y="274.42" width="29.75" height="2.25" fill="#f3aa8e"/>
<rect x="535.5" y="276.62" width="29.75" height="2.25" fill="#ef9a7b"/>
<rect x="535.5" y="278.82" width="29.75" height="2.25" fill="#ee9473"/>
<rect x="535.5" y="281.02" width="29.75" height="2.25" fill="#ef9a7a"/>
<rect x="535.5" y="283.22" width="29.75" height="2.25" fill="#d8644f"/>
<rect x="535.5" y="285.42" width="29.75" height="2.25" fill="#d2594a"/>
<rect x="535.5" y="287.62" width="29.75" height="2.25" fill="#f9d7c8"/>
<rect x="535.5" y="289.82" width="29.75" height="2.25" fill="#ce5247"/>
<rect x="535.5" y="292.01" width="29.75" height="2.25" fill="#d7634f"/>
<rect x="535.5" y="294.21" width="29.75" height="2.25" fill="#ef9b7b"/>
<rect x="535.5" y="296.41" width="29.75" height="2.25" fill="#ef997a"/>
<rect x="535.5" y="298.61" width="29.75" height="2.25" fill="#e88464"/>
<rect x="535.5" y="300.81" width="29.75" height="2.25" fill="#ed906f"/>
<rect x="535.5" y="303.01" width="29.75" height="2.25" fill="#ec8b68"/>
<rect x="535.5" y="305.21" width="29.75" height="2.25" fill="#ea8967"/>
<rect x="535.5" y="307.4" width="29.75" height="2.25" fill="#f9d7c8"/>
<rect x="535.5" y="309.6" width="29.75" height="2.25" fill="#ef9b7b"/>
<rect x="535.5" y="311.8" width="29.75" height="2.25" fill="#eb8b68"/>
<rect x="565.25" y="155.7" width="29.75" height="2.25" fill="#f1a385"/>
<rect x="565.25" y="157.9" width="29.75" height="2.25" fill="#f2a78b"/>
<rect x="565.25" y="160.1" width="29.75" height="2.25" fill="#f0a082"/>
<rect x="565.25" y="162.3" width="29.75" height="2.25" fill="#f1a588"/>
<rect x="565.25" y="164.49" width="29.75" height="2.25" fill="#f1a385"/>
<rect x="565.25" y="166.69" width="29.75" height="2.25" fill="#f09c7d"/>
<rect x="565.25" y="168.89" width="29.75" height="2.25" fill="#f2a88b"/>
<rect x="565.25" y="171.09" width="29.75" height="2.25" fill="#f1a183"/>
<rect x="565.25" y="173.29" width="29.75" height="2.25" fill="#f2a78a"/>
<rect x="565.25" y="175.49" width="29.75" height="2.25" fill="#e3795d"/>
<rect x="565.25" y="177.69" width="29.75" height="2.25" fill="#e78263"/>
<rect x="565.25" y="179.88" width="29.75" height="2.25" fill="#e2775c"/>
<rect x="565.25" y="182.08" width="29.75" height="2.25" fill="#e67f61"/>
<rect x="565.25" y="184.28" width="29.75" height="2.25" fill="#f6b8a0"/>
<rect x="565.25" y="186.48" width="29.75" height="2.25" fill="#e88564"/>
<rect x="565.25" y="188.68" width="29.75" height="2.25" fill="#e2795d"/>
<rect x="565.25" y="190.88" width="29.75" height="2.25" fill="#ec8c69"/>
<rect x="565.25" y="193.08" width="29.75" height="2.25" fill="#e88464"/>
<rect x="565.25" y="195.27" width="29.75" height="2.25" fill="#e78263"/>
<rect x="565.25" y="197.47" width="29.75" height="2.25" fill="#e57e60"/>
<rect x="565.25" y="199.67" width="29.75" height="2.25" fill="#f7c1aa"/>
<rect x="565.25" y="201.87" width="29.75" height="2.25" fill="#e1755a"/>
<rect x="565.25" y="204.07" width="29.75" height="2.25" fill="#e88363"/>
<rect x="565.25" y="206.27" width="29.75" height="2.25" fill="#e68061"/>
<rect x="565.25" y="208.47" width="29.75" height="2.25" fill="#f6bba3"/>
<rect x="565.25" y="210.67" width="29.75" height="2.25" fill="#ea8866"/>
<rect x="565.25" y="212.86" width="29.75" height="2.25" fill="#e47d5f"/>
<rect x="565.25" y="215.06" width="29.75" height="2.25" fill="#e2785d"/>
<rect x="565.25" y="217.26" width="29.75" height="2.25" fill="#e57e60"/>
<rect x="565.25" y="219.46" width="29.75" height="2.25" fill="#e98565"/>
<rect x="565.25" y="221.66" width="29.75" height="2.25" fill="#e68062"/>
<rect x="565.25" y="223.86" width="29.75" height="2.25" fill="#e88363"/>
<rect x="565.25" y="226.06" width="29.75" height="2.25" fill="#e78162"/>
<rect x="565.25" y="228.25" width="29.75" height="2.25" fill="#e0755a"/>
<rect x="565.25" y="230.45" width="29.75" height="2.25" fill="#e57f60"/>
<rect x="565.25" y="232.65" width="29.75" height="2.25" fill="#e57d60"/>
<rect x="565.25" y="234.85" width="29.75" height="2.25" fill="#e68061"/>
<rect x="565.25" y="237.05" width="29.75" height="2.25" fill="#e37b5e"/>
<rect x="565.25" y="239.25" width="29.75" height="2.25" fill="#e67f61"/>
<rect x="565.25" y="241.45" width="29.75" height="2.25" fill="#e37a5e"/>
<rect x="565.25" y="243.64" width="29.75" height="2.25" fill="#e47c5f"/>
<rect x="565.25" y="245.84" width="29.75" height="2.25" fill="#e68162"/>
<rect x="565.25" y="248.04" width="29.75" height="2.25" fill="#e88464"/>
<rect x="565.25" y="250.24" width="29.75" height="2.25" fill="#f3ab8f"/>
<rect x="565.25" y="252.44" width="29.75" height="2.25" fill="#f3ae93"/>
<rect x="565.25" y="254.64" width="29.75" height="2.25" fill="#f4b399"/>
<rect x="565.25" y="256.84" width="29.75" height="2.25" fill="#ee9472"/>
<rect x="565.25" y="259.03" width="29.75" height="2.25" fill="#f09f80"/>
<rect x="565.25" y="261.23" width="29.75" height="2.25" fill="#f1a486"/>
<rect x="565.25" y="263.43" width="29.75" height="2.25" fill="#f09c7d"/>
<rect x="565.25" y="265.63" width="29.75" height="2.25" fill="#ef9c7d"/>
<rect x="565.25" y="267.83" width="29.75" height="2.25" fill="#f2a88b"/>
<rect x="565.25" y="270.03" width="29.75" height="2.25" fill="#f1a385"/>
<rect x="565.25" y="272.23" width="29.75" height="2.25" fill="#f2a689"/>
<rect x="565.25" y="274.42" width="29.75" height="2.25" fill="#f6baa2"/>
<rect x="565.25" y="276.62" width="29.75" height="2.25" fill="#f6bba3"/>
<rect x="565.25" y="278.82" width="29.75" height="2.25" fill="#f6bca4"/>
<rect x="565.25" y="281.02" width="29.75" height="2.25" fill="#e98565"/>
<rect x="565.25" y="283.22" width="29.75" height="2.25" fill="#e78363"/>
<rect x="565.25" y="285.42" width="29.75" height="2.25" fill="#f8e3da"/>
<rect x="565.25" y="287.62" width="29.75" height="2.25" fill="#ee9473"/>
<rect x="565.25" y="289.82" width="29.75" height="2.25" fill="#eb8a68"/>
<rect x="565.25" y="292.01" width="29.75" height="2.25" fill="#facfbc"/>
<rect x="565.25" y="294.21" width="29.75" height="2.25" fill="#eb8a68"/>
<rect x="565.25" y="296.41" width="29.75" height="2.25" fill="#ea8967"/>
<rect x="565.25" y="298.61" width="29.75" height="2.25" fill="#e88564"/>
<rect x="565.25" y="300.81" width="29.75" height="2.25" fill="#f1a285"/>
<rect x="565.25" y="303.01" width="29.75" height="2.25" fill="#f9d9cb"/>
<rect x="565.25" y="305.21" width="29.75" height="2.25" fill="#f5b39a"/>
<rect x="565.25" y="307.4" width="29.75" height="2.25" fill="#f2a78b"/>
<rect x="565.25" y="309.6" width="29.75" height="2.25" fill="#f1a284"/>
<rect x="565.25" y="311.8" width="29.75" height="2.25" fill="#ef9a7a"/>
<rect x="595" y="155.7" width="29.75" height="2.25" fill="#ce5146"/>
<rect x="595" y="157.9" width="29.75" height="2.25" fill="#d96651"/>
<rect x="595" y="160.1" width="29.75" height="2.25" fill="#d7634f"/>
<rect x="595" y="162.3" width="29.75" height="2.25" fill="#d86450"/>
<rect x="595" y="164.49" width="29.75" height="2.25" fill="#d96751"/>
<rect x="595" y="166.69" width="29.75" height="2.25" fill="#db6a54"/>
<rect x="595" y="168.89" width="29.75" height="2.25" fill="#d55d4c"/>
<rect x="595" y="171.09" width="29.75" height="2.25" fill="#f9d8ca"/>
<rect x="595" y="173.29" width="29.75" height="2.25" fill="#f9ddd0"/>
<rect x="595" y="175.49" width="29.75" height="2.25" fill="#dd6d56"/>
<rect x="595" y="177.69" width="29.75" height="2.25" fill="#d96651"/>
<rect x="595" y="179.88" width="29.75" height="2.25" fill="#db6a53"/>
<rect x="595" y="182.08" width="29.75" height="2.25" fill="#f1a487"/>
<rect x="595" y="184.28" width="29.75" height="2.25" fill="#f5b49b"/>
<rect x="595" y="186.48" width="29.75" height="2.25" fill="#f4b096"/>
<rect x="595" y="188.68" width="29.75" height="2.25" fill="#f6bba3"/>
<rect x="595" y="190.88" width="29.75" height="2.25" fill="#e1765b"/>
<rect x="595" y="193.08" width="29.75" height="2.25" fill="#e57e60"/>
<rect x="595" y="195.27" width="29.75" height="2.25" fill="#e88363"/>
<rect x="595" y="197.47" width="29.75" height="2.25" fill="#e67f61"/>
<rect x="595" y="199.67" width="29.75" height="2.25" fill="#e57e60"/>
<rect x="595" y="201.87" width="29.75" height="2.25" fill="#e0745a"/>
<rect x="595" y="204.07" width="29.75" height="2.25" fill="#e57f61"/>
<rect x="595" y="206.27" width="29.75" height="2.25" fill="#e2795d"/>
<rect x="595" y="208.47" width="29.75" height="2.25" fill="#e57e60"/>
<rect x="595" y="210.67" width="29.75" height="2.25" fill="#e1775c"/>
<rect x="595" y="212.86" width="29.75" height="2.25" fill="#e57f61"/>
<rect x="595" y="215.06" width="29.75" height="2.25" fill="#e0745a"/>
<rect x="595" y="217.26" width="29.75" height="2.25" fill="#e68061"/>
<rect x="595" y="219.46" width="29.75" height="2.25" fill="#e37a5e"/>
<rect x="595" y="221.66" width="29.75" height="2.25" fill="#f6bca5"/>
<rect x="595" y="223.86" width="29.75" height="2.25" fill="#e88564"/>
<rect x="595" y="226.06" width="29.75" height="2.25" fill="#e57d60"/>
<rect x="595" y="228.25" width="29.75" height="2.25" fill="#e3795d"/>
<rect x="595" y="230.45" width="29.75" height="2.25" fill="#d45c4b"/>
<rect x="595" y="232.65" width="29.75" height="2.25" fill="#c4413e"/>
<rect x="595" y="234.85" width="29.75" height="2.25" fill="#c74641"/>
<rect x="595" y="237.05" width="29.75" height="2.25" fill="#c64540"/>
<rect x="595" y="239.25" width="29.75" height="2.25" fill="#e57d60"/>
<rect x="595" y="241.45" width="29.75" height="2.25" fill="#e88364"/>
<rect x="595" y="243.64" width="29.75" height="2.25" fill="#e57f61"/>
<rect x="595" y="245.84" width="29.75" height="2.25" fill="#faceba"/>
<rect x="595" y="248.04" width="29.75" height="2.25" fill="#e68061"/>
<rect x="595" y="250.24" width="29.75" height="2.25" fill="#e57d60"/>
<rect x="595" y="252.44" width="29.75" height="2.25" fill="#e47c5f"/>
<rect x="595" y="254.64" width="29.75" height="2.25" fill="#e0745a"/>
<rect x="595" y="256.84" width="29.75" height="2.25" fill="#e98565"/>
<rect x="595" y="259.03" width="29.75" height="2.25" fill="#e0745a"/>
<rect x="595" y="261.23" width="29.75" height="2.25" fill="#c03a3b"/>
<rect x="595" y="263.43" width="29.75" height="2.25" fill="#c5413e"/>
<rect x="595" y="265.63" width="29.75" height="2.25" fill="#d86450"/>
<rect x="595" y="267.83" width="29.75" height="2.25" fill="#de7057"/>
<rect x="595" y="270.03" width="29.75" height="2.25" fill="#b92d35"/>
<rect x="595" y="272.23" width="29.75" height="2.25" fill="#b52732"/>
<rect x="595" y="274.42" width="29.75" height="2.25" fill="#cb4d44"/>
<rect x="595" y="276.62" width="29.75" height="2.25" fill="#cd5045"/>
<rect x="595" y="278.82" width="29.75" height="2.25" fill="#f2a68a"/>
<rect x="595" y="281.02" width="29.75" height="2.25" fill="#f0a082"/>
<rect x="595" y="283.22" width="29.75" height="2.25" fill="#f3ae93"/>
<rect x="595" y="285.42" width="29.75" height="2.25" fill="#f2a78a"/>
<rect x="595" y="287.62" width="29.75" height="2.25" fill="#f1a284"/>
<rect x="595" y="289.82" width="29.75" height="2.25" fill="#f9e0d5"/>
<rect x="595" y="292.01" width="29.75" height="2.25" fill="#f1a486"/>
<rect x="595" y="294.21" width="29.75" height="2.25" fill="#f5b69d"/>
<rect x="595" y="296.41" width="29.75" height="2.25" fill="#f2aa8d"/>
<rect x="595" y="298.61" width="29.75" height="2.25" fill="#ef9c7d"/>
<rect x="595" y="300.81" width="29.75" height="2.25" fill="#eb8967"/>
<rect x="595" y="303.01" width="29.75" height="2.25" fill="#ed9271"/>
<rect x="595" y="305.21" width="29.75" height="2.25" fill="#ee9675"/>
<rect x="595" y="307.4" width="29.75" height="2.25" fill="#ed906d"/>
<rect x="595" y="309.6" width="29.75" height="2.25" fill="#e98665"/>
<rect x="595" y="311.8" width="29.75" height="2.25" fill="#f9e1d6"/>
<line x1="386.75" y1="155.7" x2="386.75" y2="314" stroke="rgba(190,190,190,0.45)" stroke-width="0.5"/>
<line x1="416.5" y1="155.7" x2="416.5" y2="314" stroke="rgba(190,190,190,0.45)" stroke-width="0.5"/>
<line x1="446.25" y1="155.7" x2="446.25" y2="314" stroke="rgba(190,190,190,0.45)" stroke-width="0.5"/>
<line x1="476" y1="155.7" x2="476" y2="314" stroke="rgba(190,190,190,0.45)" stroke-width="0.5"/>
<line x1="505.75" y1="155.7" x2="505.75" y2="314" stroke="rgba(190,190,190,0.45)" stroke-width="0.5"/>
<line x1="535.5" y1="155.7" x2="535.5" y2="314" stroke="rgba(190,190,190,0.45)" stroke-width="0.5"/>
<line x1="565.25" y1="155.7" x2="565.25" y2="314" stroke="rgba(190,190,190,0.45)" stroke-width="0.5"/>
<line x1="595" y1="155.7" x2="595" y2="314" stroke="rgba(190,190,190,0.45)" stroke-width="0.5"/>
<path d="M356 43.12L356 45.33M356 43.12L357 43.12M356 45.33L357 45.33M355.77 40.91L355.77 44.22M355.77 40.91L357 40.91M355.77 44.22L356 44.22M355.58 47.54L355.58 49.75M355.58 47.54L357 47.54M355.58 49.75L357 49.75M355.38 48.65L355.38 51.96M355.38 48.65L355.58 48.65M355.38 51.96L357 51.96M355.1 42.56L355.1 50.3M355.1 42.56L355.77 42.56M355.1 50.3L355.38 50.3M356.31 54.17L356.31 56.39M356.31 54.17L357 54.17M356.31 56.39L357 56.39M356.37 60.81L356.37 63.02M356.37 60.81L357 60.81M356.37 63.02L357 63.02M356.24 61.92L356.24 65.23M356.24 61.92L356.37 61.92M356.24 65.23L357 65.23M356.14 58.6L356.14 63.57M356.14 58.6L357 58.6M356.14 63.57L356.24 63.57M355.98 55.28L355.98 61.09M355.98 55.28L356.31 55.28M355.98 61.09L356.14 61.09M356.67 67.44L356.67 69.66M356.67 67.44L357 67.44M356.67 69.66L357 69.66M356.63 71.87L356.63 74.08M356.63 71.87L357 71.87M356.63 74.08L357 74.08M356.48 68.55L356.48 72.97M356.48 68.55L356.67 68.55M356.48 72.97L356.63 72.97M356.5 76.29L356.5 78.5M356.5 76.29L357 76.29M356.5 78.5L357 78.5M356.29 70.76L356.29 77.4M356.29 70.76L356.48 70.76M356.29 77.4L356.5 77.4M356.13 80.71L356.13 82.93M356.13 80.71L357 80.71M356.13 82.93L357 82.93M355.92 74.08L355.92 81.82M355.92 74.08L356.29 74.08M355.92 81.82L356.13 81.82M355.41 58.18L355.41 77.95M355.41 58.18L355.98 58.18M355.41 77.95L355.92 77.95M354.5 46.43L354.5 68.07M354.5 46.43L355.1 46.43M354.5 68.07L355.41 68.07M355.58 87.35L355.58 89.56M355.58 87.35L357 87.35M355.58 89.56L357 89.56M355.04 85.14L355.04 88.45M355.04 85.14L357 85.14M355.04 88.45L355.58 88.45M355.8 91.77L355.8 93.98M355.8 91.77L357 91.77M355.8 93.98L357 93.98M355.41 92.88L355.41 96.19M355.41 92.88L355.8 92.88M355.41 96.19L357 96.19M355.88 100.62L355.88 102.83M355.88 100.62L357 100.62M355.88 102.83L357 102.83M355.39 98.41L355.39 101.72M355.39 98.41L357 98.41M355.39 101.72L355.88 101.72M354.99 94.54L354.99 100.06M354.99 94.54L355.41 94.54M354.99 100.06L355.39 100.06M354.67 86.8L354.67 97.3M354.67 86.8L355.04 86.8M354.67 97.3L354.99 97.3M353.36 57.25L353.36 92.05M353.36 57.25L354.5 57.25M353.36 92.05L354.67 92.05M355.62 107.25L355.62 109.46M355.62 107.25L357 107.25M355.62 109.46L357 109.46M355.34 108.36L355.34 111.68M355.34 108.36L355.62 108.36M355.34 111.68L357 111.68M355.01 105.04L355.01 110.02M355.01 105.04L357 105.04M355.01 110.02L355.34 110.02M355.87 113.89L355.87 116.1M355.87 113.89L357 113.89M355.87 116.1L357 116.1M355.97 118.31L355.97 120.52M355.97 118.31L357 118.31M355.97 120.52L357 120.52M355.48 114.99L355.48 119.42M355.48 114.99L355.87 114.99M355.48 119.42L355.97 119.42M355.11 122.73L355.11 124.94M355.11 122.73L357 122.73M355.11 124.94L357 124.94M354.6 117.2L354.6 123.84M354.6 117.2L355.48 117.2M354.6 123.84L355.11 123.84M354.27 107.53L354.27 120.52M354.27 107.53L355.01 107.53M354.27 120.52L354.6 120.52M356.07 129.37L356.07 131.58M356.07 129.37L357 129.37M356.07 131.58L357 131.58M355.55 130.47L355.55 133.79M355.55 130.47L356.07 130.47M355.55 133.79L357 133.79M355.17 127.16L355.17 132.13M355.17 127.16L357 127.16M355.17 132.13L355.55 132.13M355.66 136L355.66 138.21M355.66 136L357 136M355.66 138.21L357 138.21M354.89 129.64L354.89 137.11M354.89 129.64L355.17 129.64M354.89 137.11L355.66 137.11M353.88 114.02L353.88 133.38M353.88 114.02L354.27 114.02M353.88 133.38L354.89 133.38M355.82 144.85L355.82 147.06M355.82 144.85L357 144.85M355.82 147.06L357 147.06M355.32 142.64L355.32 145.95M355.32 142.64L357 142.64M355.32 145.95L355.82 145.95M355.05 140.43L355.05 144.3M355.05 140.43L357 140.43M355.05 144.3L355.32 144.3M355.31 151.48L355.31 153.69M355.31 151.48L357 151.48M355.31 153.69L357 153.69M355.05 149.27L355.05 152.59M355.05 149.27L357 149.27M355.05 152.59L355.31 152.59M354.56 142.36L354.56 150.93M354.56 142.36L355.05 142.36M354.56 150.93L355.05 150.93M353.43 123.7L353.43 146.64M353.43 123.7L353.88 123.7M353.43 146.64L354.56 146.64M351.7 74.65L351.7 135.17M351.7 74.65L353.36 74.65M351.7 135.17L353.43 135.17M354.22 156.79L354.22 158.97M354.22 156.79L357 156.79M354.22 158.97L357 158.97M355.45 161.15L355.45 163.33M355.45 161.15L357 161.15M355.45 163.33L357 163.33M354.55 162.24L354.55 165.51M354.55 162.24L355.45 162.24M354.55 165.51L357 165.51M353.3 157.88L353.3 163.88M353.3 157.88L354.22 157.88M353.3 163.88L354.55 163.88M355.46 169.87L355.46 172.05M355.46 169.87L357 169.87M355.46 172.05L357 172.05M354.66 167.69L354.66 170.96M354.66 167.69L357 167.69M354.66 170.96L355.46 170.96M354.9 174.23L354.9 176.41M354.9 174.23L357 174.23M354.9 176.41L357 176.41M354.26 169.32L354.26 175.32M354.26 169.32L354.66 169.32M354.26 175.32L354.9 175.32M352.72 160.88L352.72 172.32M352.72 160.88L353.3 160.88M352.72 172.32L354.26 172.32M355.05 180.77L355.05 182.95M355.05 180.77L357 180.77M355.05 182.95L357 182.95M354.57 178.59L354.57 181.86M354.57 178.59L357 178.59M354.57 181.86L355.05 181.86M355.26 187.31L355.26 189.49M355.26 187.31L357 187.31M355.26 189.49L357 189.49M354.78 185.13L354.78 188.4M354.78 185.13L357 185.13M354.78 188.4L355.26 188.4M353.78 180.22L353.78 186.76M353.78 180.22L354.57 180.22M353.78 186.76L354.78 186.76M353.93 191.67L353.93 193.85M353.93 191.67L357 191.67M353.93 193.85L357 193.85M352.1 183.5L352.1 192.76M352.1 183.5L353.78 183.5M352.1 192.76L353.93 192.76M350.57 166.6L350.57 188.13M350.57 166.6L352.72 166.6M350.57 188.13L352.1 188.13M353.76 196.03L353.76 198.21M353.76 196.03L357 196.03M353.76 198.21L357 198.21M352.88 197.12L352.88 200.39M352.88 197.12L353.76 197.12M352.88 200.39L357 200.39M355.11 202.57L355.11 204.75M355.11 202.57L357 202.57M355.11 204.75L357 204.75M355.32 206.93L355.32 209.11M355.32 206.93L357 206.93M355.32 209.11L357 209.11M354.59 203.66L354.59 208.02M354.59 203.66L355.11 203.66M354.59 208.02L355.32 208.02M354.56 211.29L354.56 213.47M354.56 211.29L357 211.29M354.56 213.47L357 213.47M353.55 205.84L353.55 212.38M353.55 205.84L354.59 205.84M353.55 212.38L354.56 212.38M351.9 198.75L351.9 209.11M351.9 198.75L352.88 198.75M351.9 209.11L353.55 209.11M354.43 215.65L354.43 217.83M354.43 215.65L357 215.65M354.43 217.83L357 217.83M353.85 216.74L353.85 220.01M353.85 216.74L354.43 216.74M353.85 220.01L357 220.01M353.21 222.19L353.21 224.37M353.21 222.19L357 222.19M353.21 224.37L357 224.37M352.68 218.38L352.68 223.28M352.68 218.38L353.85 218.38M352.68 223.28L353.21 223.28M354.57 226.55L354.57 228.73M354.57 226.55L357 226.55M354.57 228.73L357 228.73M353.59 227.64L353.59 230.91M353.59 227.64L354.57 227.64M353.59 230.91L357 230.91M351.62 220.83L351.62 229.27M351.62 220.83L352.68 220.83M351.62 229.27L353.59 229.27M350.21 203.93L350.21 225.05M350.21 203.93L351.9 203.93M350.21 225.05L351.62 225.05M348.7 177.36L348.7 214.49M348.7 177.36L350.57 177.36M348.7 214.49L350.21 214.49M355.68 235.32L355.68 237.54M355.68 235.32L357 235.32M355.68 237.54L357 237.54M355.25 236.43L355.25 239.76M355.25 236.43L355.68 236.43M355.25 239.76L357 239.76M354.36 233.11L354.36 238.09M354.36 233.11L357 233.11M354.36 238.09L355.25 238.09M354.37 241.97L354.37 244.19M354.37 241.97L357 241.97M354.37 244.19L357 244.19M353.45 235.6L353.45 243.08M353.45 235.6L354.36 235.6M353.45 243.08L354.37 243.08M354.35 246.41L354.35 248.62M354.35 246.41L357 246.41M354.35 248.62L357 248.62M354.85 250.84L354.85 253.05M354.85 250.84L357 250.84M354.85 253.05L357 253.05M353.83 247.51L353.83 251.95M353.83 247.51L354.35 247.51M353.83 251.95L354.85 251.95M351.94 239.34L351.94 249.73M351.94 239.34L353.45 239.34M351.94 249.73L353.83 249.73M354.89 255.27L354.89 257.49M354.89 255.27L357 255.27M354.89 257.49L357 257.49M353.96 256.38L353.96 259.7M353.96 256.38L354.89 256.38M353.96 259.7L357 259.7M354.8 264.14L354.8 266.35M354.8 264.14L357 264.14M354.8 266.35L357 266.35M354.12 261.92L354.12 265.24M354.12 261.92L357 261.92M354.12 265.24L354.8 265.24M352.76 258.04L352.76 263.58M352.76 258.04L353.96 258.04M352.76 263.58L354.12 263.58M350.59 244.54L350.59 260.81M350.59 244.54L351.94 244.54M350.59 260.81L352.76 260.81M354.22 270.78L354.22 273M354.22 270.78L357 270.78M354.22 273L357 273M353.71 268.57L353.71 271.89M353.71 268.57L357 268.57M353.71 271.89L354.22 271.89M354.04 275.22L354.04 277.43M354.04 275.22L357 275.22M354.04 277.43L357 277.43M354.76 281.86L354.76 284.08M354.76 281.86L357 281.86M354.76 284.08L357 284.08M353.89 279.65L353.89 282.97M353.89 279.65L357 279.65M353.89 282.97L354.76 282.97M353.43 276.32L353.43 281.31M353.43 276.32L354.04 276.32M353.43 281.31L353.89 281.31M352.65 270.23L352.65 278.82M352.65 270.23L353.71 270.23M352.65 278.82L353.43 278.82M354.69 286.3L354.69 288.51M354.69 286.3L357 286.3M354.69 288.51L357 288.51M355.27 290.73L355.27 292.95M355.27 290.73L357 290.73M355.27 292.95L357 292.95M354.79 291.84L354.79 295.16M354.79 291.84L355.27 291.84M354.79 295.16L357 295.16M354.14 287.41L354.14 293.5M354.14 287.41L354.69 287.41M354.14 293.5L354.79 293.5M354.57 297.38L354.57 299.59M354.57 297.38L357 297.38M354.57 299.59L357 299.59M354.89 301.81L354.89 304.03M354.89 301.81L357 301.81M354.89 304.03L357 304.03M353.66 298.49L353.66 302.92M353.66 298.49L354.57 298.49M353.66 302.92L354.89 302.92M355.27 308.46L355.27 310.68M355.27 308.46L357 308.46M355.27 310.68L357 310.68M354.95 306.24L354.95 309.57M354.95 306.24L357 306.24M354.95 309.57L355.27 309.57M354.12 307.91L354.12 312.89M354.12 307.91L354.95 307.91M354.12 312.89L357 312.89M353.1 300.7L353.1 310.4M353.1 300.7L353.66 300.7M353.1 310.4L354.12 310.4M352.57 290.45L352.57 305.55M352.57 290.45L354.14 290.45M352.57 305.55L353.1 305.55M350.81 274.52L350.81 298M350.81 274.52L352.65 274.52M350.81 298L352.57 298M348 252.67L348 286.26M348 252.67L350.59 252.67M348 286.26L350.81 286.26M346.1 195.93L346.1 269.47M346.1 195.93L348.7 195.93M346.1 269.47L348 269.47M341.2 104.91L341.2 232.7M341.2 104.91L351.7 104.91M341.2 232.7L346.1 232.7" stroke="#333" stroke-width="0.62" fill="none"/>
<path d="M626.8 41.36h5.55M626.8 44.07h7.54M626.8 46.78h6.4M626.8 49.5h7.93M626.8 52.21h8.07M626.8 54.92h4.43M626.8 57.63h4.09M626.8 60.35h9.44M626.8 63.06h5.69M626.8 65.77h5.52M626.8 68.49h10.47M626.8 71.2h7.06M626.8 73.91h9.44M626.8 76.62h7.1M626.8 79.34h8.15M626.8 82.05h4.98M626.8 84.76h8.13M626.8 87.48h9.64M626.8 90.19h7.4M626.8 92.9h8.82M626.8 95.61h8.36M626.8 98.33h4.42M626.8 101.04h8.93M626.8 103.75h7.84M626.8 106.47h5.96M626.8 109.18h4.2M626.8 111.89h9.63M626.8 114.6h7.07M626.8 117.32h8.67M626.8 120.03h9.71M626.8 122.74h8.64M626.8 125.46h9.99M626.8 128.17h6.57M626.8 130.88h9.21M626.8 133.59h6.89M626.8 136.31h10.08M626.8 139.02h9.71M626.8 141.73h4.63M626.8 144.45h4.88M626.8 147.16h5.41M626.8 149.87h10.28M626.8 152.58h6.84M626.8 155.3h8.07M626.8 158.01h5.96M626.8 160.72h7.3M626.8 163.44h6.51M626.8 166.15h6.28M626.8 168.86h7.8M626.8 171.57h7.8M626.8 174.29h9.88M626.8 177h8.43M626.8 179.71h10.04M626.8 182.43h9.57M626.8 185.14h10.44M626.8 187.85h8.36M626.8 190.56h5.06M626.8 193.28h9.59M626.8 195.99h10.27M626.8 198.7h9.88M626.8 201.42h7.7M626.8 204.13h8.64M626.8 206.84h5.37M626.8 209.55h9.41M626.8 212.27h7.73M626.8 214.98h5.85M626.8 217.69h4.41M626.8 220.41h9.55M626.8 223.12h10.43M626.8 225.83h4.58M626.8 228.54h9.2M626.8 231.26h6.67M626.8 233.97h4.98M626.8 236.68h5.91M626.8 239.4h9M626.8 242.11h9.67M626.8 244.82h4.29M626.8 247.53h7.99M626.8 250.25h4.29M626.8 252.96h8.67M626.8 255.67h6.15M626.8 258.39h9.73M626.8 261.1h10.37M626.8 263.81h7.29M626.8 266.52h10.49M626.8 269.24h6.01M626.8 271.95h4.5M626.8 274.66h7.9M626.8 277.38h4.2M626.8 280.09h5.28M626.8 282.8h6.65M626.8 285.51h7.97M626.8 288.23h5.02M626.8 290.94h4.28M626.8 293.65h9.64M626.8 296.37h6.04M626.8 299.08h10.23M626.8 301.79h9.83M626.8 304.5h6.46M626.8 307.22h6.99M626.8 309.93h7.38M626.8 312.64h8.19" stroke="#2a2a2a" stroke-width="1.49" fill="none" stroke-dasharray="0.9 0.45" opacity="0.72"/>
<defs><linearGradient id="rb1238" x1="0" y1="0" x2="0" y2="1"><stop offset="0.0000" stop-color="#a50026"/><stop offset="0.0125" stop-color="#a50026"/><stop offset="0.0250" stop-color="#a50026"/><stop offset="0.0375" stop-color="#a50026"/><stop offset="0.0500" stop-color="#ae1a2c"/><stop offset="0.0625" stop-color="#b32230"/><stop offset="0.0750" stop-color="#b72a33"/><stop offset="0.0875" stop-color="#bc3237"/><stop offset="0.1000" stop-color="#c03a3b"/><stop offset="0.1125" stop-color="#c5423f"/><stop offset="0.1250" stop-color="#ca4a43"/><stop offset="0.1375" stop-color="#ce5246"/><stop offset="0.1500" stop-color="#d35a4a"/><stop offset="0.1625" stop-color="#d7614e"/><stop offset="0.1750" stop-color="#d96651"/><stop offset="0.1875" stop-color="#dc6b54"/><stop offset="0.2000" stop-color="#de7057"/><stop offset="0.2125" stop-color="#e0755a"/><stop offset="0.2250" stop-color="#e3795d"/><stop offset="0.2375" stop-color="#e57e60"/><stop offset="0.2500" stop-color="#e88363"/><stop offset="0.2625" stop-color="#ea8866"/><stop offset="0.2750" stop-color="#ec8d6a"/><stop offset="0.2875" stop-color="#ee9473"/><stop offset="0.3000" stop-color="#ef9b7c"/><stop offset="0.3125" stop-color="#f1a284"/><stop offset="0.3250" stop-color="#f2a98d"/><stop offset="0.3375" stop-color="#f4b096"/><stop offset="0.3500" stop-color="#f5b79f"/><stop offset="0.3625" stop-color="#f7bfa7"/><stop offset="0.3750" stop-color="#f8c6b0"/><stop offset="0.3875" stop-color="#facdb9"/><stop offset="0.4000" stop-color="#fad1c0"/><stop offset="0.4125" stop-color="#f9d6c6"/><stop offset="0.4250" stop-color="#f9dbcd"/><stop offset="0.4375" stop-color="#f9dfd4"/><stop offset="0.4500" stop-color="#f8e4db"/><stop offset="0.4625" stop-color="#f8e8e1"/><stop offset="0.4750" stop-color="#f8ede8"/><stop offset="0.4875" stop-color="#f7f2ef"/><stop offset="0.5000" stop-color="#f7f6f6"/><stop offset="0.5125" stop-color="#f3f5f6"/><stop offset="0.5250" stop-color="#eff3f5"/><stop offset="0.5375" stop-color="#eaf0f4"/><stop offset="0.5500" stop-color="#e5eef3"/><stop offset="0.5625" stop-color="#e1ebf2"/><stop offset="0.5750" stop-color="#dce9f1"/><stop offset="0.5875" stop-color="#d8e7f0"/><stop offset="0.6000" stop-color="#d3e4ef"/><stop offset="0.6125" stop-color="#cee2ee"/><stop offset="0.6250" stop-color="#c7ddec"/><stop offset="0.6375" stop-color="#bed8e9"/><stop offset="0.6500" stop-color="#b6d2e6"/><stop offset="0.6625" stop-color="#adcde3"/><stop offset="0.6750" stop-color="#a4c8e0"/><stop offset="0.6875" stop-color="#9bc2dd"/><stop offset="0.7000" stop-color="#93bdda"/><stop offset="0.7125" stop-color="#8ab7d7"/><stop offset="0.7250" stop-color="#81b2d4"/><stop offset="0.7375" stop-color="#7aadd1"/><stop offset="0.7500" stop-color="#74a8cf"/><stop offset="0.7625" stop-color="#6ea4cd"/><stop offset="0.7750" stop-color="#68a0ca"/><stop offset="0.7875" stop-color="#629bc8"/><stop offset="0.8000" stop-color="#5c97c6"/><stop offset="0.8125" stop-color="#5693c4"/><stop offset="0.8250" stop-color="#508ec2"/><stop offset="0.8375" stop-color="#4a8abf"/><stop offset="0.8500" stop-color="#4586bd"/><stop offset="0.8625" stop-color="#4181bb"/><stop offset="0.8750" stop-color="#3e7db8"/><stop offset="0.8875" stop-color="#3a78b6"/><stop offset="0.9000" stop-color="#3774b4"/><stop offset="0.9125" stop-color="#3370b1"/><stop offset="0.9250" stop-color="#306baf"/><stop offset="0.9375" stop-color="#2c67ac"/><stop offset="0.9500" stop-color="#2963aa"/><stop offset="0.9625" stop-color="#204c98"/><stop offset="0.9750" stop-color="#204c98"/><stop offset="0.9875" stop-color="#204c98"/><stop offset="1.0000" stop-color="#204c98"/></linearGradient></defs>
<rect x="642" y="37.8" width="9" height="245.6" fill="url(#rb1238)"/>
<line x1="642.5" y1="48.7" x2="644.2" y2="48.7" stroke="#fff" stroke-width="0.8"/>
<line x1="648.8" y1="48.7" x2="650.5" y2="48.7" stroke="#fff" stroke-width="0.8"/>
<text x="655.4" y="52.01" font-size="9.2" fill="#1c1c1c">2</text>
<line x1="642.5" y1="104.5" x2="644.2" y2="104.5" stroke="#fff" stroke-width="0.8"/>
<line x1="648.8" y1="104.5" x2="650.5" y2="104.5" stroke="#fff" stroke-width="0.8"/>
<text x="655.4" y="107.81" font-size="9.2" fill="#1c1c1c">1</text>
<line x1="642.5" y1="161.2" x2="644.2" y2="161.2" stroke="#fff" stroke-width="0.8"/>
<line x1="648.8" y1="161.2" x2="650.5" y2="161.2" stroke="#fff" stroke-width="0.8"/>
<text x="655.4" y="164.51" font-size="9.2" fill="#1c1c1c">0</text>
<line x1="642.5" y1="217" x2="644.2" y2="217" stroke="#fff" stroke-width="0.8"/>
<line x1="648.8" y1="217" x2="650.5" y2="217" stroke="#fff" stroke-width="0.8"/>
<text x="655.4" y="220.31" font-size="9.2" fill="#1c1c1c">-1</text>
<line x1="642.5" y1="273.6" x2="644.2" y2="273.6" stroke="#fff" stroke-width="0.8"/>
<line x1="648.8" y1="273.6" x2="650.5" y2="273.6" stroke="#fff" stroke-width="0.8"/>
<text x="655.4" y="276.91" font-size="9.2" fill="#1c1c1c">-2</text>
<text x="660.2" y="302" font-size="10.8" text-anchor="middle" fill="#1c1c1c">log<tspan font-size="7.5" dy="2.6">2</tspan><tspan dy="-2.6"> fold</tspan></text>
<text x="659.9" y="313.2" font-size="10.8" text-anchor="middle" fill="#1c1c1c">change</text>
<text x="8" y="217.2" font-size="13.5" font-weight="bold" fill="#000" stroke="#000" stroke-width="0.45">c</text>
<text x="119.2" y="220.9" font-size="10" text-anchor="middle" fill="#1c1c1c">NT-Exo<tspan font-size="7.4" dy="-4.3">myo</tspan><tspan dy="4.3"> III</tspan></text>
<text x="207.5" y="220.9" font-size="10" text-anchor="middle" fill="#1c1c1c">NT-MAG-Exo<tspan font-size="7.4" dy="-4.3">myo</tspan><tspan dy="4.3"> III</tspan></text>
<ellipse cx="148" cy="261" rx="34.8" ry="32.9" fill="#7786cc"/>
<ellipse cx="178" cy="261" rx="34.8" ry="32.9" fill="#e07479"/>
<clipPath id="cpc"><ellipse cx="148" cy="261" rx="34.8" ry="32.9"/></clipPath>
<ellipse cx="178" cy="261" rx="34.8" ry="32.9" fill="#974064" clip-path="url(#cpc)"/>
<text x="128.5" y="264.3" font-size="9.3" text-anchor="middle" fill="#1e1e1e">652</text>
<text x="161.3" y="264.3" font-size="9.3" text-anchor="middle" fill="#1e1e1e">510</text>
<text x="196.5" y="264.3" font-size="9.3" text-anchor="middle" fill="#1e1e1e">4,046</text>
<text x="7.6" y="726.5" font-size="13.5" font-weight="bold" fill="#000" stroke="#000" stroke-width="0.45">g</text>
<text x="119.2" y="729.9" font-size="10" text-anchor="middle" fill="#1c1c1c">NT-Exo<tspan font-size="7.4" dy="-4.3">myo</tspan><tspan dy="4.3"> III</tspan></text>
<text x="207.5" y="729.9" font-size="10" text-anchor="middle" fill="#1c1c1c">NT-MAG-Exo<tspan font-size="7.4" dy="-4.3">myo</tspan><tspan dy="4.3"> III</tspan></text>
<ellipse cx="148.5" cy="769" rx="33.6" ry="32" fill="#7786cc"/>
<ellipse cx="177.5" cy="769" rx="33.6" ry="32" fill="#e07479"/>
<clipPath id="cpg"><ellipse cx="148.5" cy="769" rx="33.6" ry="32"/></clipPath>
<ellipse cx="177.5" cy="769" rx="33.6" ry="32" fill="#974064" clip-path="url(#cpg)"/>
<text x="131.3" y="772.3" font-size="9.3" text-anchor="middle" fill="#1e1e1e">102</text>
<text x="161.8" y="772.3" font-size="9.3" text-anchor="middle" fill="#1e1e1e">85</text>
<text x="195.7" y="772.3" font-size="9.3" text-anchor="middle" fill="#1e1e1e">5,902</text>
<text x="7.4" y="331" font-size="12.5" font-weight="bold" fill="#000" stroke="#000" stroke-width="0.45">d</text>
<line x1="21.6" y1="335" x2="21.6" y2="468.2" stroke="#777" stroke-width="0.9"/>
<text font-size="10" text-anchor="middle" fill="#1c1c1c" transform="translate(17.3 404.2) rotate(-90)">NT-MAG-Exo<tspan font-size="7.4" dy="-4.3">myo</tspan><tspan dy="4.3"> III</tspan></text>
<rect x="200.2" y="330.3" width="93.4" height="141.5" fill="#fff"/>
<line x1="205.8" y1="330.3" x2="205.8" y2="471.8" stroke="#f2f2f2" stroke-width="0.5"/>
<line x1="231.5" y1="330.3" x2="231.5" y2="471.8" stroke="#f2f2f2" stroke-width="0.5"/>
<line x1="257.3" y1="330.3" x2="257.3" y2="471.8" stroke="#f2f2f2" stroke-width="0.5"/>
<line x1="283.5" y1="330.3" x2="283.5" y2="471.8" stroke="#f2f2f2" stroke-width="0.5"/>
<line x1="218.6" y1="330.3" x2="218.6" y2="471.8" stroke="#e6e6e6" stroke-width="0.6"/>
<line x1="244.8" y1="330.3" x2="244.8" y2="471.8" stroke="#e6e6e6" stroke-width="0.6"/>
<line x1="270.9" y1="330.3" x2="270.9" y2="471.8" stroke="#e6e6e6" stroke-width="0.6"/>
<line x1="200.2" y1="338.5" x2="293.6" y2="338.5" stroke="#e6e6e6" stroke-width="0.6"/>
<line x1="200.2" y1="352.5" x2="293.6" y2="352.5" stroke="#e6e6e6" stroke-width="0.6"/>
<line x1="200.2" y1="366.5" x2="293.6" y2="366.5" stroke="#e6e6e6" stroke-width="0.6"/>
<line x1="200.2" y1="380.4" x2="293.6" y2="380.4" stroke="#e6e6e6" stroke-width="0.6"/>
<line x1="200.2" y1="394.2" x2="293.6" y2="394.2" stroke="#e6e6e6" stroke-width="0.6"/>
<line x1="200.2" y1="408.2" x2="293.6" y2="408.2" stroke="#e6e6e6" stroke-width="0.6"/>
<line x1="200.2" y1="421.9" x2="293.6" y2="421.9" stroke="#e6e6e6" stroke-width="0.6"/>
<line x1="200.2" y1="435.7" x2="293.6" y2="435.7" stroke="#e6e6e6" stroke-width="0.6"/>
<line x1="200.2" y1="449.7" x2="293.6" y2="449.7" stroke="#e6e6e6" stroke-width="0.6"/>
<line x1="200.2" y1="463.8" x2="293.6" y2="463.8" stroke="#e6e6e6" stroke-width="0.6"/>
<text x="259.2" y="407.8" font-size="5.8" fill="#222">Count</text>
<circle cx="261.5" cy="411" r="0.7" fill="#000"/>
<text x="265.2" y="412.4" font-size="4" fill="#333">50</text>
<circle cx="261.5" cy="415.7" r="1.4" fill="#000"/>
<text x="265.2" y="417.1" font-size="4" fill="#333">75</text>
<circle cx="261.5" cy="420.8" r="1.8" fill="#000"/>
<text x="265.2" y="422.2" font-size="4" fill="#333">100</text>
<circle cx="261.5" cy="425.8" r="2" fill="#000"/>
<text x="265.2" y="427.2" font-size="4" fill="#333">125</text>
<circle cx="261.5" cy="431.5" r="2.25" fill="#000"/>
<text x="265.2" y="432.9" font-size="4" fill="#333">150</text>
<text x="259.2" y="441.5" font-size="5.2" fill="#222"><tspan font-style="italic">P</tspan><tspan font-size="3.3" dx="0.6" dy="1.6">adjust</tspan></text>
<defs><linearGradient id="pg1310" x1="0" y1="0" x2="0" y2="1"><stop offset="0" stop-color="#3a2cff"/><stop offset="0.3" stop-color="#9b10cc"/><stop offset="0.65" stop-color="#d4108a"/><stop offset="1" stop-color="#ff0a30"/></linearGradient></defs>
<rect x="258.4" y="444.7" width="5.4" height="24" rx="1.6" fill="url(#pg1310)"/>
<text x="265.6" y="447.34" font-size="4" fill="#333">4.085726e-37</text>
<text x="265.6" y="452.94" font-size="4" fill="#333">3.067294e-37</text>
<text x="265.6" y="458.14" font-size="4" fill="#333">2.046863e-37</text>
<text x="265.6" y="463.74" font-size="4" fill="#333">1.023431e-37</text>
<text x="265.6" y="469.74" font-size="4" fill="#333">1.073418e-61</text>
<circle cx="289.5" cy="338.5" r="3.1" fill="#ff0000"/>
<circle cx="276.7" cy="352.5" r="3" fill="#ff0000"/>
<circle cx="258.7" cy="366.5" r="2.8" fill="#ff0000"/>
<circle cx="248.9" cy="380.4" r="2.7" fill="#ff0000"/>
<circle cx="236.6" cy="394.2" r="2.6" fill="#ff0000"/>
<circle cx="212.6" cy="408.2" r="2.2" fill="#1010ff"/>
<circle cx="206.5" cy="421.9" r="1.6" fill="#ff0000"/>
<circle cx="206.5" cy="435.7" r="1.6" fill="#d21478"/>
<circle cx="206.5" cy="449.7" r="1.6" fill="#d21478"/>
<circle cx="204.4" cy="463.8" r="1.4" fill="#ff0000"/>
<rect x="200.2" y="330.3" width="93.4" height="141.5" fill="none" stroke="#7a7a7a" stroke-width="0.8"/>
<text x="203.6" y="341.1" font-size="10.3" fill="#111">GO up</text>
<line x1="196.4" y1="338.5" x2="200.2" y2="338.5" stroke="#555" stroke-width="0.7"/>
<line x1="196.4" y1="352.5" x2="200.2" y2="352.5" stroke="#555" stroke-width="0.7"/>
<line x1="196.4" y1="366.5" x2="200.2" y2="366.5" stroke="#555" stroke-width="0.7"/>
<line x1="196.4" y1="380.4" x2="200.2" y2="380.4" stroke="#555" stroke-width="0.7"/>
<line x1="196.4" y1="394.2" x2="200.2" y2="394.2" stroke="#555" stroke-width="0.7"/>
<line x1="196.4" y1="408.2" x2="200.2" y2="408.2" stroke="#555" stroke-width="0.7"/>
<line x1="196.4" y1="421.9" x2="200.2" y2="421.9" stroke="#555" stroke-width="0.7"/>
<line x1="196.4" y1="435.7" x2="200.2" y2="435.7" stroke="#555" stroke-width="0.7"/>
<line x1="196.4" y1="449.7" x2="200.2" y2="449.7" stroke="#555" stroke-width="0.7"/>
<line x1="196.4" y1="463.8" x2="200.2" y2="463.8" stroke="#555" stroke-width="0.7"/>
<line x1="218.5" y1="471.8" x2="218.5" y2="474.8" stroke="#555" stroke-width="0.7"/>
<line x1="244.4" y1="471.8" x2="244.4" y2="474.8" stroke="#555" stroke-width="0.7"/>
<line x1="273.4" y1="471.8" x2="273.4" y2="474.8" stroke="#555" stroke-width="0.7"/>
<text x="216" y="486.1" font-size="9.2" text-anchor="middle" fill="#1c1c1c">0.050</text>
<text x="244.4" y="486.1" font-size="9.2" text-anchor="middle" fill="#1c1c1c">0.075</text>
<text x="273.4" y="486.1" font-size="9.2" text-anchor="middle" fill="#1c1c1c">0.100</text>
<text x="191.8" y="337.1" font-size="9" text-anchor="end" fill="#1c1c1c">Generation of metabolite precursors</text>
<text x="191.8" y="345.9" font-size="9" text-anchor="end" fill="#1c1c1c">and energies</text>
<text x="191.8" y="355.2" font-size="9" text-anchor="end" fill="#1c1c1c">Energy &#160;derivation by oxidation</text>
<text x="191.8" y="369.2" font-size="9" text-anchor="end" fill="#1c1c1c">Cellular respiration</text>
<text x="191.8" y="383" font-size="9" text-anchor="end" fill="#1c1c1c">Aerobic respiration</text>
<text x="191.8" y="397" font-size="9" text-anchor="end" fill="#1c1c1c">OXPHOS</text>
<text x="191.8" y="410.9" font-size="9" text-anchor="end" fill="#1c1c1c">ETC</text>
<text x="191.8" y="424.9" font-size="9" text-anchor="end" fill="#1c1c1c">Proton-force-driven &#160;ATP synthesis</text>
<text x="191.8" y="438.6" font-size="9" text-anchor="end" fill="#1c1c1c">ETC-coupled &#160;ATP synthesis</text>
<text x="191.8" y="449.7" font-size="9" text-anchor="end" fill="#1c1c1c">Mitochondrial &#160;ATP synthesis</text>
<text x="191.8" y="458.8" font-size="9" text-anchor="end" fill="#1c1c1c">coupled ETC</text>
<text x="191.8" y="467.6" font-size="9" text-anchor="end" fill="#1c1c1c">Proton-force-driven mitochondrial &#160;ATP</text>
<text x="191.8" y="477.9" font-size="9" text-anchor="end" fill="#1c1c1c">synthesis</text>
<rect x="541.4" y="338.4" width="95.6" height="140.1" fill="#fff"/>
<line x1="568" y1="338.4" x2="568" y2="478.5" stroke="#f2f2f2" stroke-width="0.5"/>
<line x1="595.8" y1="338.4" x2="595.8" y2="478.5" stroke="#f2f2f2" stroke-width="0.5"/>
<line x1="623.2" y1="338.4" x2="623.2" y2="478.5" stroke="#f2f2f2" stroke-width="0.5"/>
<line x1="554.6" y1="338.4" x2="554.6" y2="478.5" stroke="#e6e6e6" stroke-width="0.6"/>
<line x1="581.9" y1="338.4" x2="581.9" y2="478.5" stroke="#e6e6e6" stroke-width="0.6"/>
<line x1="609.8" y1="338.4" x2="609.8" y2="478.5" stroke="#e6e6e6" stroke-width="0.6"/>
<line x1="636.9" y1="338.4" x2="636.9" y2="478.5" stroke="#e6e6e6" stroke-width="0.6"/>
<line x1="541.4" y1="347.2" x2="637" y2="347.2" stroke="#e6e6e6" stroke-width="0.6"/>
<line x1="541.4" y1="360.8" x2="637" y2="360.8" stroke="#e6e6e6" stroke-width="0.6"/>
<line x1="541.4" y1="374.5" x2="637" y2="374.5" stroke="#e6e6e6" stroke-width="0.6"/>
<line x1="541.4" y1="388.2" x2="637" y2="388.2" stroke="#e6e6e6" stroke-width="0.6"/>
<line x1="541.4" y1="401.8" x2="637" y2="401.8" stroke="#e6e6e6" stroke-width="0.6"/>
<line x1="541.4" y1="415.5" x2="637" y2="415.5" stroke="#e6e6e6" stroke-width="0.6"/>
<line x1="541.4" y1="429.2" x2="637" y2="429.2" stroke="#e6e6e6" stroke-width="0.6"/>
<line x1="541.4" y1="442.6" x2="637" y2="442.6" stroke="#e6e6e6" stroke-width="0.6"/>
<line x1="541.4" y1="456.3" x2="637" y2="456.3" stroke="#e6e6e6" stroke-width="0.6"/>
<line x1="541.4" y1="470" x2="637" y2="470" stroke="#e6e6e6" stroke-width="0.6"/>
<text x="603.4" y="414.5" font-size="5.8" fill="#222">Count</text>
<circle cx="605" cy="418.4" r="0.8" fill="#000"/>
<text x="609.1" y="419.8" font-size="4" fill="#333">140</text>
<circle cx="605" cy="422.9" r="1.35" fill="#000"/>
<text x="609.1" y="424.3" font-size="4" fill="#333">160</text>
<circle cx="605" cy="427.6" r="1.75" fill="#000"/>
<text x="609.1" y="429" font-size="4" fill="#333">180</text>
<circle cx="605" cy="432.9" r="1.95" fill="#000"/>
<text x="609.1" y="434.3" font-size="4" fill="#333">200</text>
<circle cx="605" cy="438.6" r="2.25" fill="#000"/>
<text x="609.1" y="440" font-size="4" fill="#333">220</text>
<text x="602.2" y="447.3" font-size="5.2" fill="#222"><tspan font-style="italic">P</tspan><tspan font-size="3.3" dx="0.6" dy="1.6">adjust</tspan></text>
<defs><linearGradient id="pg1388" x1="0" y1="0" x2="0" y2="1"><stop offset="0" stop-color="#3a2cff"/><stop offset="0.3" stop-color="#9b10cc"/><stop offset="0.65" stop-color="#d4108a"/><stop offset="1" stop-color="#ff0a30"/></linearGradient></defs>
<rect x="601.6" y="450.8" width="5.5" height="24.2" rx="1.6" fill="url(#pg1388)"/>
<text x="609.1" y="453.04" font-size="4" fill="#333">3.366080e-22</text>
<text x="609.1" y="459.04" font-size="4" fill="#333">2.524560e-22</text>
<text x="609.1" y="464.34" font-size="4" fill="#333">1.683040e-22</text>
<text x="609.1" y="469.84" font-size="4" fill="#333">8.415225e-23</text>
<text x="609.1" y="475.74" font-size="4" fill="#333">2.342197e-30</text>
<circle cx="632.7" cy="347.2" r="3" fill="#ff0000"/>
<circle cx="632.7" cy="360.8" r="3" fill="#ff0000"/>
<circle cx="620.2" cy="374.5" r="2.8" fill="#dc1e64"/>
<circle cx="619.3" cy="388.2" r="2.8" fill="#ff0000"/>
<circle cx="613.7" cy="401.8" r="2.7" fill="#ff0000"/>
<circle cx="596.6" cy="415.5" r="2.5" fill="#e8145a"/>
<circle cx="574.3" cy="429.2" r="2.3" fill="#ff0000"/>
<circle cx="546.1" cy="442.6" r="1.2" fill="#1010ff"/>
<circle cx="546.1" cy="456.3" r="1.2" fill="#1010ff"/>
<circle cx="546.1" cy="470" r="1.2" fill="#1010ff"/>
<rect x="541.4" y="338.4" width="95.6" height="140.1" fill="none" stroke="#7a7a7a" stroke-width="0.8"/>
<text x="547" y="348.9" font-size="10.3" fill="#111">GO down</text>
<line x1="537.6" y1="347.2" x2="541.4" y2="347.2" stroke="#555" stroke-width="0.7"/>
<line x1="537.6" y1="360.8" x2="541.4" y2="360.8" stroke="#555" stroke-width="0.7"/>
<line x1="537.6" y1="374.5" x2="541.4" y2="374.5" stroke="#555" stroke-width="0.7"/>
<line x1="537.6" y1="388.2" x2="541.4" y2="388.2" stroke="#555" stroke-width="0.7"/>
<line x1="537.6" y1="401.8" x2="541.4" y2="401.8" stroke="#555" stroke-width="0.7"/>
<line x1="537.6" y1="415.5" x2="541.4" y2="415.5" stroke="#555" stroke-width="0.7"/>
<line x1="537.6" y1="429.2" x2="541.4" y2="429.2" stroke="#555" stroke-width="0.7"/>
<line x1="537.6" y1="442.6" x2="541.4" y2="442.6" stroke="#555" stroke-width="0.7"/>
<line x1="537.6" y1="456.3" x2="541.4" y2="456.3" stroke="#555" stroke-width="0.7"/>
<line x1="537.6" y1="470" x2="541.4" y2="470" stroke="#555" stroke-width="0.7"/>
<line x1="553.7" y1="478.5" x2="553.7" y2="481.5" stroke="#555" stroke-width="0.7"/>
<line x1="581.7" y1="478.5" x2="581.7" y2="481.5" stroke="#555" stroke-width="0.7"/>
<line x1="609.4" y1="478.5" x2="609.4" y2="481.5" stroke="#555" stroke-width="0.7"/>
<line x1="636.9" y1="478.5" x2="636.9" y2="481.5" stroke="#555" stroke-width="0.7"/>
<text x="553.7" y="493" font-size="9.4" text-anchor="middle" fill="#1c1c1c">0.05</text>
<text x="581.7" y="493" font-size="9.4" text-anchor="middle" fill="#1c1c1c">0.06</text>
<text x="609.4" y="493" font-size="9.4" text-anchor="middle" fill="#1c1c1c">0.07</text>
<text x="636.9" y="493" font-size="9.4" text-anchor="middle" fill="#1c1c1c">0.08</text>
<text x="533" y="350.4" font-size="9" text-anchor="end" fill="#1c1c1c">Chemotaxis</text>
<text x="533" y="364" font-size="9" text-anchor="end" fill="#1c1c1c">Taxis</text>
<text x="533" y="377.7" font-size="9" text-anchor="end" fill="#1c1c1c">T cell activation</text>
<text x="533" y="391.4" font-size="9" text-anchor="end" fill="#1c1c1c">Angiogenesis</text>
<text x="533" y="405" font-size="9" text-anchor="end" fill="#1c1c1c">Cell adhesion</text>
<text x="533" y="418.7" font-size="9" text-anchor="end" fill="#1c1c1c">Cell migration</text>
<text x="533" y="432.4" font-size="9" text-anchor="end" fill="#1c1c1c">Leukocyte &#160;migration</text>
<text x="533" y="445.8" font-size="9" text-anchor="end" fill="#1c1c1c">Extracellular matrix organization</text>
<text x="533" y="459.5" font-size="9" text-anchor="end" fill="#1c1c1c">Extracellular structure organization</text>
<text x="533" y="473.2" font-size="9" text-anchor="end" fill="#1c1c1c">External structure organization</text>
<text x="0.6" y="838.1" font-size="13.5" font-weight="bold" fill="#000" stroke="#000" stroke-width="0.45">h</text>
<line x1="18.5" y1="844.2" x2="18.5" y2="977.6" stroke="#777" stroke-width="0.9"/>
<text font-size="10" text-anchor="middle" fill="#1c1c1c" transform="translate(14.4 915.8) rotate(-90)">NT-MAG-Exo<tspan font-size="7.4" dy="-4.3">myo</tspan><tspan dy="4.3"> III</tspan></text>
<rect x="199.6" y="847.4" width="101.6" height="137.1" fill="#fff"/>
<line x1="213.2" y1="847.4" x2="213.2" y2="984.5" stroke="#f2f2f2" stroke-width="0.5"/>
<line x1="232.8" y1="847.4" x2="232.8" y2="984.5" stroke="#f2f2f2" stroke-width="0.5"/>
<line x1="252.2" y1="847.4" x2="252.2" y2="984.5" stroke="#f2f2f2" stroke-width="0.5"/>
<line x1="271.5" y1="847.4" x2="271.5" y2="984.5" stroke="#f2f2f2" stroke-width="0.5"/>
<line x1="290.8" y1="847.4" x2="290.8" y2="984.5" stroke="#f2f2f2" stroke-width="0.5"/>
<line x1="203.5" y1="847.4" x2="203.5" y2="984.5" stroke="#e6e6e6" stroke-width="0.6"/>
<line x1="222.8" y1="847.4" x2="222.8" y2="984.5" stroke="#e6e6e6" stroke-width="0.6"/>
<line x1="242.9" y1="847.4" x2="242.9" y2="984.5" stroke="#e6e6e6" stroke-width="0.6"/>
<line x1="261.8" y1="847.4" x2="261.8" y2="984.5" stroke="#e6e6e6" stroke-width="0.6"/>
<line x1="281.6" y1="847.4" x2="281.6" y2="984.5" stroke="#e6e6e6" stroke-width="0.6"/>
<line x1="300.4" y1="847.4" x2="300.4" y2="984.5" stroke="#e6e6e6" stroke-width="0.6"/>
<line x1="199.6" y1="855.4" x2="301.2" y2="855.4" stroke="#e6e6e6" stroke-width="0.6"/>
<line x1="199.6" y1="868.9" x2="301.2" y2="868.9" stroke="#e6e6e6" stroke-width="0.6"/>
<line x1="199.6" y1="882.4" x2="301.2" y2="882.4" stroke="#e6e6e6" stroke-width="0.6"/>
<line x1="199.6" y1="895.9" x2="301.2" y2="895.9" stroke="#e6e6e6" stroke-width="0.6"/>
<line x1="199.6" y1="909.4" x2="301.2" y2="909.4" stroke="#e6e6e6" stroke-width="0.6"/>
<line x1="199.6" y1="922.9" x2="301.2" y2="922.9" stroke="#e6e6e6" stroke-width="0.6"/>
<line x1="199.6" y1="936.2" x2="301.2" y2="936.2" stroke="#e6e6e6" stroke-width="0.6"/>
<line x1="199.6" y1="949.8" x2="301.2" y2="949.8" stroke="#e6e6e6" stroke-width="0.6"/>
<line x1="199.6" y1="963.2" x2="301.2" y2="963.2" stroke="#e6e6e6" stroke-width="0.6"/>
<line x1="199.6" y1="976.6" x2="301.2" y2="976.6" stroke="#e6e6e6" stroke-width="0.6"/>
<text x="276.8" y="902.7" font-size="5.8" fill="#222">Count</text>
<circle cx="278.7" cy="907.6" r="1" fill="#000"/>
<text x="283.1" y="909" font-size="4" fill="#333">25</text>
<circle cx="278.7" cy="913.6" r="1.7" fill="#000"/>
<text x="283.1" y="915" font-size="4" fill="#333">50</text>
<circle cx="278.7" cy="919.5" r="2.2" fill="#000"/>
<text x="283.1" y="920.9" font-size="4" fill="#333">75</text>
<circle cx="278.7" cy="926.5" r="2.6" fill="#000"/>
<text x="283.1" y="927.9" font-size="4" fill="#333">100</text>
<circle cx="278.7" cy="933.9" r="3" fill="#000"/>
<text x="283.1" y="935.3" font-size="4" fill="#333">125</text>
<text x="275.9" y="948.2" font-size="5.2" fill="#222"><tspan font-style="italic">P</tspan><tspan font-size="3.3" dx="0.6" dy="1.6">value</tspan></text>
<defs><linearGradient id="pg1472" x1="0" y1="0" x2="0" y2="1"><stop offset="0" stop-color="#3a2cff"/><stop offset="0.3" stop-color="#9b10cc"/><stop offset="0.65" stop-color="#d4108a"/><stop offset="1" stop-color="#ff0a30"/></linearGradient></defs>
<rect x="275" y="950.1" width="6" height="30.5" rx="1.6" fill="url(#pg1472)"/>
<text x="282.4" y="955.94" font-size="4" fill="#333">0.004</text>
<text x="282.4" y="962.24" font-size="4" fill="#333">0.003</text>
<text x="282.4" y="968.54" font-size="4" fill="#333">0.002</text>
<text x="282.4" y="975.54" font-size="4" fill="#333">0.001</text>
<circle cx="296.3" cy="855.4" r="3" fill="#ff0000"/>
<circle cx="296.3" cy="868.9" r="3" fill="#ff0000"/>
<circle cx="269.2" cy="882.4" r="2.8" fill="#ff0000"/>
<circle cx="262.7" cy="895.9" r="2.7" fill="#ff0000"/>
<circle cx="262.7" cy="909.4" r="2.7" fill="#ff0000"/>
<circle cx="262.7" cy="922.9" r="2.7" fill="#ff0000"/>
<circle cx="245" cy="936.2" r="2.6" fill="#8c1ee0"/>
<circle cx="240.5" cy="949.8" r="2.4" fill="#ff0000"/>
<circle cx="237" cy="963.2" r="2.4" fill="#ff0000"/>
<circle cx="204" cy="976.6" r="1.1" fill="#1010ff"/>
<rect x="199.6" y="847.4" width="101.6" height="137.1" fill="none" stroke="#7a7a7a" stroke-width="0.8"/>
<text x="204.3" y="857.5" font-size="10.3" fill="#111">GO up</text>
<line x1="195.8" y1="855.4" x2="199.6" y2="855.4" stroke="#555" stroke-width="0.7"/>
<line x1="195.8" y1="868.9" x2="199.6" y2="868.9" stroke="#555" stroke-width="0.7"/>
<line x1="195.8" y1="882.4" x2="199.6" y2="882.4" stroke="#555" stroke-width="0.7"/>
<line x1="195.8" y1="895.9" x2="199.6" y2="895.9" stroke="#555" stroke-width="0.7"/>
<line x1="195.8" y1="909.4" x2="199.6" y2="909.4" stroke="#555" stroke-width="0.7"/>
<line x1="195.8" y1="922.9" x2="199.6" y2="922.9" stroke="#555" stroke-width="0.7"/>
<line x1="195.8" y1="936.2" x2="199.6" y2="936.2" stroke="#555" stroke-width="0.7"/>
<line x1="195.8" y1="949.8" x2="199.6" y2="949.8" stroke="#555" stroke-width="0.7"/>
<line x1="195.8" y1="963.2" x2="199.6" y2="963.2" stroke="#555" stroke-width="0.7"/>
<line x1="195.8" y1="976.6" x2="199.6" y2="976.6" stroke="#555" stroke-width="0.7"/>
<line x1="203.7" y1="984.5" x2="203.7" y2="987.5" stroke="#555" stroke-width="0.7"/>
<line x1="222.4" y1="984.5" x2="222.4" y2="987.5" stroke="#555" stroke-width="0.7"/>
<line x1="242" y1="984.5" x2="242" y2="987.5" stroke="#555" stroke-width="0.7"/>
<line x1="261.5" y1="984.5" x2="261.5" y2="987.5" stroke="#555" stroke-width="0.7"/>
<line x1="280.7" y1="984.5" x2="280.7" y2="987.5" stroke="#555" stroke-width="0.7"/>
<line x1="300.4" y1="984.5" x2="300.4" y2="987.5" stroke="#555" stroke-width="0.7"/>
<text x="203.7" y="997.6" font-size="7.8" text-anchor="middle" fill="#1c1c1c">0.01</text>
<text x="222.4" y="997.6" font-size="7.8" text-anchor="middle" fill="#1c1c1c">0.02</text>
<text x="242" y="997.6" font-size="7.8" text-anchor="middle" fill="#1c1c1c">0.03</text>
<text x="261.5" y="997.6" font-size="7.8" text-anchor="middle" fill="#1c1c1c">0.04</text>
<text x="280.7" y="997.6" font-size="7.8" text-anchor="middle" fill="#1c1c1c">0.05</text>
<text x="300.4" y="997.6" font-size="7.8" text-anchor="middle" fill="#1c1c1c">0.06</text>
<text x="191.2" y="857.7" font-size="9" text-anchor="end" fill="#1c1c1c">RNA splicing</text>
<text x="191.2" y="871.1" font-size="9" text-anchor="end" fill="#1c1c1c">mRNA processing</text>
<text x="191.2" y="883.4" font-size="9" text-anchor="end" fill="#1c1c1c">Ribonucleoprotein complex biogenesis</text>
<text x="191.2" y="896" font-size="9" text-anchor="end" fill="#1c1c1c">RNA splicing via transesterification</text>
<text x="191.2" y="908.1" font-size="9" text-anchor="end" fill="#1c1c1c">RNA splicing via transesterification with</text>
<text x="191.2" y="916.3" font-size="9" text-anchor="end" fill="#1c1c1c">bulged &#160;adenosine as nucleophile</text>
<text x="191.2" y="925" font-size="9" text-anchor="end" fill="#1c1c1c">mRNA splicing</text>
<text x="191.2" y="938.2" font-size="9" text-anchor="end" fill="#1c1c1c">Ribosome biogenesis</text>
<text x="191.2" y="951.4" font-size="9" text-anchor="end" fill="#1c1c1c">tRNA &#160;metabolic process</text>
<text x="191.2" y="965" font-size="9" text-anchor="end" fill="#1c1c1c">tRNA processing</text>
<text x="191.2" y="978.8" font-size="9" text-anchor="end" fill="#1c1c1c">Interferon β response</text>
<rect x="541.6" y="841.2" width="98.5" height="138" fill="#fff"/>
<line x1="564.6" y1="841.2" x2="564.6" y2="979.2" stroke="#f2f2f2" stroke-width="0.5"/>
<line x1="586.7" y1="841.2" x2="586.7" y2="979.2" stroke="#f2f2f2" stroke-width="0.5"/>
<line x1="609.2" y1="841.2" x2="609.2" y2="979.2" stroke="#f2f2f2" stroke-width="0.5"/>
<line x1="631.5" y1="841.2" x2="631.5" y2="979.2" stroke="#f2f2f2" stroke-width="0.5"/>
<line x1="553.9" y1="841.2" x2="553.9" y2="979.2" stroke="#e6e6e6" stroke-width="0.6"/>
<line x1="575.7" y1="841.2" x2="575.7" y2="979.2" stroke="#e6e6e6" stroke-width="0.6"/>
<line x1="598.2" y1="841.2" x2="598.2" y2="979.2" stroke="#e6e6e6" stroke-width="0.6"/>
<line x1="620.4" y1="841.2" x2="620.4" y2="979.2" stroke="#e6e6e6" stroke-width="0.6"/>
<line x1="541.6" y1="849.4" x2="640.1" y2="849.4" stroke="#e6e6e6" stroke-width="0.6"/>
<line x1="541.6" y1="863.2" x2="640.1" y2="863.2" stroke="#e6e6e6" stroke-width="0.6"/>
<line x1="541.6" y1="876.5" x2="640.1" y2="876.5" stroke="#e6e6e6" stroke-width="0.6"/>
<line x1="541.6" y1="890.2" x2="640.1" y2="890.2" stroke="#e6e6e6" stroke-width="0.6"/>
<line x1="541.6" y1="903.6" x2="640.1" y2="903.6" stroke="#e6e6e6" stroke-width="0.6"/>
<line x1="541.6" y1="917.1" x2="640.1" y2="917.1" stroke="#e6e6e6" stroke-width="0.6"/>
<line x1="541.6" y1="930.2" x2="640.1" y2="930.2" stroke="#e6e6e6" stroke-width="0.6"/>
<line x1="541.6" y1="943.9" x2="640.1" y2="943.9" stroke="#e6e6e6" stroke-width="0.6"/>
<line x1="541.6" y1="957.3" x2="640.1" y2="957.3" stroke="#e6e6e6" stroke-width="0.6"/>
<line x1="541.6" y1="971" x2="640.1" y2="971" stroke="#e6e6e6" stroke-width="0.6"/>
<text x="617.5" y="919.7" font-size="5.8" fill="#222">Count</text>
<circle cx="620.5" cy="924.2" r="1.9" fill="#000"/>
<text x="624.7" y="925.6" font-size="4" fill="#333">100</text>
<circle cx="620.5" cy="930.2" r="2.4" fill="#000"/>
<text x="624.7" y="931.6" font-size="4" fill="#333">150</text>
<text x="617.5" y="942.6" font-size="5.2" fill="#222"><tspan font-style="italic">P</tspan><tspan font-size="3.3" dx="0.6" dy="1.6">value</tspan></text>
<defs><linearGradient id="pg1548" x1="0" y1="0" x2="0" y2="1"><stop offset="0" stop-color="#3a2cff"/><stop offset="0.3" stop-color="#9b10cc"/><stop offset="0.65" stop-color="#d4108a"/><stop offset="1" stop-color="#ff0a30"/></linearGradient></defs>
<rect x="617.1" y="945.2" width="5.8" height="27.4" rx="1.6" fill="url(#pg1548)"/>
<text x="624.3" y="947.74" font-size="4" fill="#333">3.0e-06</text>
<text x="624.3" y="953.04" font-size="4" fill="#333">2.5e-06</text>
<text x="624.3" y="958.24" font-size="4" fill="#333">2.0e-06</text>
<text x="624.3" y="963.54" font-size="4" fill="#333">1.5e-06</text>
<text x="624.3" y="968.84" font-size="4" fill="#333">1.0e-06</text>
<circle cx="635.5" cy="849.4" r="2.8" fill="#ff0000"/>
<circle cx="632.7" cy="863.2" r="2.8" fill="#dc1464"/>
<circle cx="627.9" cy="876.5" r="2.7" fill="#1010ff"/>
<circle cx="604" cy="890.2" r="2.5" fill="#aa14aa"/>
<circle cx="595.8" cy="903.6" r="2.5" fill="#ff0000"/>
<circle cx="593.1" cy="917.1" r="2.5" fill="#8c1ee0"/>
<circle cx="564.9" cy="930.2" r="1.8" fill="#b414aa"/>
<circle cx="555" cy="943.9" r="1.7" fill="#ff0000"/>
<circle cx="546.2" cy="957.3" r="1.3" fill="#d21478"/>
<circle cx="546.2" cy="971" r="1.3" fill="#d21478"/>
<rect x="541.6" y="841.2" width="98.5" height="138" fill="none" stroke="#7a7a7a" stroke-width="0.8"/>
<text x="546.5" y="854.7" font-size="10.3" fill="#111">GO down</text>
<line x1="537.8" y1="849.4" x2="541.6" y2="849.4" stroke="#555" stroke-width="0.7"/>
<line x1="537.8" y1="863.2" x2="541.6" y2="863.2" stroke="#555" stroke-width="0.7"/>
<line x1="537.8" y1="876.5" x2="541.6" y2="876.5" stroke="#555" stroke-width="0.7"/>
<line x1="537.8" y1="890.2" x2="541.6" y2="890.2" stroke="#555" stroke-width="0.7"/>
<line x1="537.8" y1="903.6" x2="541.6" y2="903.6" stroke="#555" stroke-width="0.7"/>
<line x1="537.8" y1="917.1" x2="541.6" y2="917.1" stroke="#555" stroke-width="0.7"/>
<line x1="537.8" y1="930.2" x2="541.6" y2="930.2" stroke="#555" stroke-width="0.7"/>
<line x1="537.8" y1="943.9" x2="541.6" y2="943.9" stroke="#555" stroke-width="0.7"/>
<line x1="537.8" y1="957.3" x2="541.6" y2="957.3" stroke="#555" stroke-width="0.7"/>
<line x1="537.8" y1="971" x2="541.6" y2="971" stroke="#555" stroke-width="0.7"/>
<line x1="553.9" y1="979.2" x2="553.9" y2="982.2" stroke="#555" stroke-width="0.7"/>
<line x1="575.7" y1="979.2" x2="575.7" y2="982.2" stroke="#555" stroke-width="0.7"/>
<line x1="598.2" y1="979.2" x2="598.2" y2="982.2" stroke="#555" stroke-width="0.7"/>
<line x1="620.4" y1="979.2" x2="620.4" y2="982.2" stroke="#555" stroke-width="0.7"/>
<text x="553.9" y="995.2" font-size="7.8" text-anchor="middle" fill="#1c1c1c">0.02</text>
<text x="575.7" y="995.2" font-size="7.8" text-anchor="middle" fill="#1c1c1c">0.03</text>
<text x="598.2" y="995.2" font-size="7.8" text-anchor="middle" fill="#1c1c1c">0.04</text>
<text x="620.4" y="995.2" font-size="7.8" text-anchor="middle" fill="#1c1c1c">0.05</text>
<text x="533.4" y="853.3" font-size="9" text-anchor="end" fill="#1c1c1c">Monocarboxylic acid metabolic process</text>
<text x="533.4" y="866.3" font-size="9" text-anchor="end" fill="#1c1c1c">Monoatomic cation &#160;homeostais</text>
<text x="533.4" y="880.3" font-size="9" text-anchor="end" fill="#1c1c1c">Carbohydrate metabolic process</text>
<text x="533.4" y="893.3" font-size="9" text-anchor="end" fill="#1c1c1c">Lipid localization</text>
<text x="533.4" y="906.6" font-size="9" text-anchor="end" fill="#1c1c1c">Lipid regulation</text>
<text x="533.4" y="919.8" font-size="9" text-anchor="end" fill="#1c1c1c">Glycerolipid metabolism</text>
<text x="533.4" y="933.5" font-size="9" text-anchor="end" fill="#1c1c1c">Import into cells</text>
<text x="533.4" y="946.8" font-size="9" text-anchor="end" fill="#1c1c1c">Lipid homeostasis</text>
<text x="533.4" y="960.4" font-size="9" text-anchor="end" fill="#1c1c1c">Carboxylic acid transmembrane &#160;transport</text>
<text x="533.4" y="973.8" font-size="9" text-anchor="end" fill="#1c1c1c">Organic acid transmembrane transport</text>
<text x="7.4" y="516.7" font-size="13.5" font-weight="bold" fill="#000" stroke="#000" stroke-width="0.45">e</text>
<rect x="44.8" y="514.3" width="185.7" height="20.3" fill="#fff" stroke="#666" stroke-width="0.9"/>
<text x="139.5" y="525.8" font-size="10" text-anchor="middle" fill="#1c1c1c" letter-spacing="0.41">Myofibres</text>
<defs><linearGradient id="g1598" x1="0" y1="1" x2="0" y2="0"><stop offset="0" stop-color="#ff0000"/><stop offset="0.5" stop-color="#ffffff"/><stop offset="1" stop-color="#0000ff"/></linearGradient></defs>
<rect x="40.9" y="578.1" width="5.9" height="85.4" fill="url(#g1598)"/>
<text x="50.8" y="581.48" font-size="9.4" fill="#1c1c1c">400</text>
<text x="50.8" y="602.83" font-size="9.4" fill="#1c1c1c">300</text>
<text x="50.8" y="624.18" font-size="9.4" fill="#1c1c1c">200</text>
<text x="50.8" y="645.53" font-size="9.4" fill="#1c1c1c">100</text>
<text x="50.8" y="666.88" font-size="9.4" fill="#1c1c1c">0</text>
<rect x="100.2" y="586.1" width="11.9" height="7.7" fill="#ff0000"/>
<rect x="114.1" y="586.1" width="12.33" height="7.7" fill="#1414f5"/>
<rect x="126.43" y="586.1" width="12.33" height="7.7" fill="#1414f5"/>
<rect x="138.76" y="586.1" width="12.33" height="7.7" fill="#1414f5"/>
<rect x="151.09" y="586.1" width="12.33" height="7.7" fill="#1414f5"/>
<rect x="163.42" y="586.1" width="12.33" height="7.7" fill="#1414f5"/>
<rect x="175.75" y="586.1" width="12.33" height="7.7" fill="#1414f5"/>
<rect x="190.1" y="586.1" width="12.3" height="7.7" fill="#2d2df0"/>
<rect x="202.4" y="586.1" width="12.3" height="7.7" fill="#2d2df0"/>
<rect x="100.2" y="595.9" width="11.9" height="8.17" fill="#0f0ff5"/>
<rect x="114.1" y="595.9" width="12.33" height="8.17" fill="#ff0000"/>
<rect x="126.43" y="595.9" width="12.33" height="8.17" fill="#fa5050"/>
<rect x="138.76" y="595.9" width="12.33" height="8.17" fill="#fa5a5a"/>
<rect x="151.09" y="595.9" width="12.33" height="8.17" fill="#fa5a5a"/>
<rect x="163.42" y="595.9" width="12.33" height="8.17" fill="#fa5555"/>
<rect x="175.75" y="595.9" width="12.33" height="8.17" fill="#fa5a5a"/>
<rect x="190.1" y="595.9" width="12.3" height="8.17" fill="#e1e1fa"/>
<rect x="202.4" y="595.9" width="12.3" height="8.17" fill="#b9b9fa"/>
<rect x="100.2" y="604.07" width="11.9" height="8.17" fill="#0f0ff5"/>
<rect x="114.1" y="604.07" width="12.33" height="8.17" fill="#fa5555"/>
<rect x="126.43" y="604.07" width="12.33" height="8.17" fill="#ff0000"/>
<rect x="138.76" y="604.07" width="12.33" height="8.17" fill="#fa6969"/>
<rect x="151.09" y="604.07" width="12.33" height="8.17" fill="#fa6464"/>
<rect x="163.42" y="604.07" width="12.33" height="8.17" fill="#fa6464"/>
<rect x="175.75" y="604.07" width="12.33" height="8.17" fill="#fa6969"/>
<rect x="190.1" y="604.07" width="12.3" height="8.17" fill="#e1e1fa"/>
<rect x="202.4" y="604.07" width="12.3" height="8.17" fill="#b9b9fa"/>
<rect x="100.2" y="612.24" width="11.9" height="8.17" fill="#0f0ff5"/>
<rect x="114.1" y="612.24" width="12.33" height="8.17" fill="#fa5555"/>
<rect x="126.43" y="612.24" width="12.33" height="8.17" fill="#fa6464"/>
<rect x="138.76" y="612.24" width="12.33" height="8.17" fill="#ff0000"/>
<rect x="151.09" y="612.24" width="12.33" height="8.17" fill="#fa3c3c"/>
<rect x="163.42" y="612.24" width="12.33" height="8.17" fill="#fa5555"/>
<rect x="175.75" y="612.24" width="12.33" height="8.17" fill="#fa4b4b"/>
<rect x="190.1" y="612.24" width="12.3" height="8.17" fill="#e1e1fa"/>
<rect x="202.4" y="612.24" width="12.3" height="8.17" fill="#b4b4fa"/>
<rect x="100.2" y="620.41" width="11.9" height="8.17" fill="#0f0ff5"/>
<rect x="114.1" y="620.41" width="12.33" height="8.17" fill="#fa5555"/>
<rect x="126.43" y="620.41" width="12.33" height="8.17" fill="#fa6464"/>
<rect x="138.76" y="620.41" width="12.33" height="8.17" fill="#fa4141"/>
<rect x="151.09" y="620.41" width="12.33" height="8.17" fill="#ff0000"/>
<rect x="163.42" y="620.41" width="12.33" height="8.17" fill="#fa5a5a"/>
<rect x="175.75" y="620.41" width="12.33" height="8.17" fill="#fa5050"/>
<rect x="190.1" y="620.41" width="12.3" height="8.17" fill="#e1e1fa"/>
<rect x="202.4" y="620.41" width="12.3" height="8.17" fill="#b4b4fa"/>
<rect x="100.2" y="628.58" width="11.9" height="8.17" fill="#0f0ff5"/>
<rect x="114.1" y="628.58" width="12.33" height="8.17" fill="#fa5a5a"/>
<rect x="126.43" y="628.58" width="12.33" height="8.17" fill="#fa6464"/>
<rect x="138.76" y="628.58" width="12.33" height="8.17" fill="#fa5555"/>
<rect x="151.09" y="628.58" width="12.33" height="8.17" fill="#fa5f5f"/>
<rect x="163.42" y="628.58" width="12.33" height="8.17" fill="#ff0000"/>
<rect x="175.75" y="628.58" width="12.33" height="8.17" fill="#fa5050"/>
<rect x="190.1" y="628.58" width="12.3" height="8.17" fill="#e1e1fa"/>
<rect x="202.4" y="628.58" width="12.3" height="8.17" fill="#b9b9fa"/>
<rect x="100.2" y="636.75" width="11.9" height="8.17" fill="#0f0ff5"/>
<rect x="114.1" y="636.75" width="12.33" height="8.17" fill="#fa5555"/>
<rect x="126.43" y="636.75" width="12.33" height="8.17" fill="#fa6969"/>
<rect x="138.76" y="636.75" width="12.33" height="8.17" fill="#fa5050"/>
<rect x="151.09" y="636.75" width="12.33" height="8.17" fill="#fa5555"/>
<rect x="163.42" y="636.75" width="12.33" height="8.17" fill="#fa5050"/>
<rect x="175.75" y="636.75" width="12.33" height="8.17" fill="#ff0000"/>
<rect x="190.1" y="636.75" width="12.3" height="8.17" fill="#dcdcfa"/>
<rect x="202.4" y="636.75" width="12.3" height="8.17" fill="#b9b9fa"/>
<rect x="100.2" y="647" width="11.9" height="7.95" fill="#2828f0"/>
<rect x="114.1" y="647" width="12.33" height="7.95" fill="#e1e1fa"/>
<rect x="126.43" y="647" width="12.33" height="7.95" fill="#e1e1fa"/>
<rect x="138.76" y="647" width="12.33" height="7.95" fill="#e1e1fa"/>
<rect x="151.09" y="647" width="12.33" height="7.95" fill="#e1e1fa"/>
<rect x="163.42" y="647" width="12.33" height="7.95" fill="#e1e1fa"/>
<rect x="175.75" y="647" width="12.33" height="7.95" fill="#e1e1fa"/>
<rect x="190.1" y="647" width="12.3" height="7.95" fill="#ff0000"/>
<rect x="202.4" y="647" width="12.3" height="7.95" fill="#dcdcfa"/>
<rect x="100.2" y="654.95" width="11.9" height="7.95" fill="#2828f0"/>
<rect x="114.1" y="654.95" width="12.33" height="7.95" fill="#bebefa"/>
<rect x="126.43" y="654.95" width="12.33" height="7.95" fill="#bebefa"/>
<rect x="138.76" y="654.95" width="12.33" height="7.95" fill="#bebefa"/>
<rect x="151.09" y="654.95" width="12.33" height="7.95" fill="#bebefa"/>
<rect x="163.42" y="654.95" width="12.33" height="7.95" fill="#bebefa"/>
<rect x="175.75" y="654.95" width="12.33" height="7.95" fill="#bebefa"/>
<rect x="190.1" y="654.95" width="12.3" height="7.95" fill="#d7d7fa"/>
<rect x="202.4" y="654.95" width="12.3" height="7.95" fill="#ff0000"/>
<path d="M100.5 586.4H111.8V593.5H100.5ZM100.5 596.2H111.8V644.62H100.5ZM100.2 604.07H112.1M100.2 612.24H112.1M100.2 620.41H112.1M100.2 628.58H112.1M100.2 636.75H112.1M100.5 647.3H111.8V662.6H100.5ZM100.2 654.95H112.1M114.4 586.4H187.78V593.5H114.4ZM126.43 586.1V593.8M138.76 586.1V593.8M151.09 586.1V593.8M163.42 586.1V593.8M175.75 586.1V593.8M114.4 596.2H187.78V644.62H114.4ZM126.43 595.9V644.92M138.76 595.9V644.92M151.09 595.9V644.92M163.42 595.9V644.92M175.75 595.9V644.92M114.1 604.07H188.08M114.1 612.24H188.08M114.1 620.41H188.08M114.1 628.58H188.08M114.1 636.75H188.08M114.4 647.3H187.78V662.6H114.4ZM126.43 647V662.9M138.76 647V662.9M151.09 647V662.9M163.42 647V662.9M175.75 647V662.9M114.1 654.95H188.08M190.4 586.4H214.4V593.5H190.4ZM202.4 586.1V593.8M190.4 596.2H214.4V644.62H190.4ZM202.4 595.9V644.92M190.1 604.07H214.7M190.1 612.24H214.7M190.1 620.41H214.7M190.1 628.58H214.7M190.1 636.75H214.7M190.4 647.3H214.4V662.6H190.4ZM202.4 647V662.9M190.1 654.95H214.7" stroke="#9c9c9c" stroke-width="0.65" fill="none"/>
<path d="M106.1 564.1L172.7 564.1M106.1 564.1L106.1 586.1M172.7 564.1L172.7 573M144.7 573L202.5 573M144.7 573L144.7 582.2M202.5 573L202.5 578.3M196.2 578.3L208.5 578.3M196.2 578.3L196.2 586.1M208.5 578.3L208.5 586.1M126.4 582.3L163.7 582.3M126.4 582.3L126.4 583.6M163.7 582.3L163.7 583.2M120.3 583.6L132.6 583.6M151 583.2L176.3 583.2M151 583.2L151 584.1M176.3 583.2L176.3 584.1M144.9 584.1L157.2 584.1M169.6 584.1L181.9 584.1M120.3 583.6L120.3 586.1M132.6 583.6L132.6 586.1M144.9 584.1L144.9 586.1M157.2 584.1L157.2 586.1M169.6 584.1L169.6 586.1M181.9 584.1L181.9 586.1M78.6 590L78.6 634.4M78.6 590L100.2 590M78.6 634.4L87.4 634.4M87.4 616.3L87.4 655.4M87.4 616.3L97 616.3M97 600L97 640.8M97 600L100.2 600M97 608.2L100.2 608.2M97 616.3L100.2 616.3M97 624.5L100.2 624.5M97 632.7L100.2 632.7M97 640.8L100.2 640.8M98.2 604L98.2 612M98.2 628L98.2 636M87.4 655.4L92.4 655.4M92.4 651L92.4 658.9M92.4 651L100.2 651M92.4 658.9L100.2 658.9" stroke="#757575" stroke-width="0.9" fill="none" stroke-linecap="square"/>
<path d="M215.7 586.1L219.3 586.1L219.3 610.2L215.7 610.2" stroke="#555" stroke-width="0.9" fill="none"/>
<path d="M215.7 612.6L219.3 612.6L219.3 644.5L215.7 644.5" stroke="#555" stroke-width="0.9" fill="none"/>
<path d="M215.7 646.2L219.3 646.2L219.3 663.3L215.7 663.3" stroke="#555" stroke-width="0.9" fill="none"/>
<path d="M99.7 664.1L99.7 667.1L219.3 667.1L219.3 663.3M139 664.1L139 667.1M176.2 664.1L176.2 667.1" stroke="#555" stroke-width="0.9" fill="none"/>
<text x="224.1" y="605.2" font-size="10" fill="#1c1c1c" letter-spacing="0.5">Vehicle</text>
<text x="224.3" y="629.4" font-size="10" fill="#1c1c1c">NT-Exo<tspan font-size="7.4" dy="-4.3">myo</tspan><tspan dy="4.3"> III</tspan></text>
<text x="224.3" y="655.9" font-size="10" fill="#1c1c1c">NT-MAG-Exo<tspan font-size="7.4" dy="-4.3">myo</tspan><tspan dy="4.3"> III</tspan></text>
<text x="115.8" y="678.9" font-size="10" text-anchor="middle" fill="#1c1c1c" letter-spacing="0.4">Vehicle</text>
<text x="152.3" y="678.9" font-size="10" text-anchor="middle" fill="#1c1c1c">NT-</text>
<text x="150.3" y="691.2" font-size="10" text-anchor="middle" fill="#1c1c1c">Exo<tspan font-size="7.4" dy="-4.3">myo</tspan><tspan dy="4.3"> III</tspan></text>
<text x="200.1" y="678.9" font-size="10" text-anchor="middle" fill="#1c1c1c">NT-MAG-</text>
<text x="199.9" y="691.2" font-size="10" text-anchor="middle" fill="#1c1c1c">Exo<tspan font-size="7.4" dy="-4.3">myo</tspan><tspan dy="4.3"> III</tspan></text>
<text x="333.4" y="516.3" font-size="12.5" font-weight="bold" fill="#000" stroke="#000" stroke-width="0.45">f</text>
<text x="405.4" y="517.9" font-size="10" text-anchor="middle" fill="#1c1c1c">Vehicle</text>
<text x="489.5" y="516.5" font-size="10" text-anchor="middle" fill="#1c1c1c">NT-Exo<tspan font-size="7.4" dy="-4.3">myo</tspan><tspan dy="4.3"> III</tspan></text>
<text x="579.1" y="516.5" font-size="10" text-anchor="middle" fill="#1c1c1c">NT-MAG-Exo<tspan font-size="7.4" dy="-4.3">myo</tspan><tspan dy="4.3"> III</tspan></text>
<path d="M359.4 527.1L359.4 523.1L616.8 523.1L616.8 527.1M441.7 523.1L441.7 527.1M529.4 523.1L529.4 527.1" stroke="#555" stroke-width="0.9" fill="none"/>
<rect x="356" y="530.9" width="266.2" height="7.7" fill="#00f800"/>
<rect x="356" y="539.5" width="29.58" height="2.2" fill="#f9c7b1"/>
<rect x="356" y="541.65" width="29.58" height="2.2" fill="#f8c3ac"/>
<rect x="356" y="543.8" width="29.58" height="2.2" fill="#f9cab5"/>
<rect x="356" y="545.95" width="29.58" height="2.2" fill="#f7bfa8"/>
<rect x="356" y="548.1" width="29.58" height="2.2" fill="#f9dfd3"/>
<rect x="356" y="550.25" width="29.58" height="2.2" fill="#facdb9"/>
<rect x="356" y="552.4" width="29.58" height="2.2" fill="#f7c0a9"/>
<rect x="356" y="554.55" width="29.58" height="2.2" fill="#f9c7b2"/>
<rect x="356" y="556.7" width="29.58" height="2.2" fill="#f4b399"/>
<rect x="356" y="558.85" width="29.58" height="2.2" fill="#f8c6b0"/>
<rect x="356" y="561" width="29.58" height="4.35" fill="#faceba"/>
<rect x="356" y="565.3" width="29.58" height="2.2" fill="#f7bfa7"/>
<rect x="356" y="567.45" width="29.58" height="2.2" fill="#f7c0a9"/>
<rect x="385.58" y="539.5" width="29.58" height="2.2" fill="#facbb7"/>
<rect x="385.58" y="541.65" width="29.58" height="2.2" fill="#facfbc"/>
<rect x="385.58" y="543.8" width="29.58" height="2.2" fill="#fad1bf"/>
<rect x="385.58" y="545.95" width="29.58" height="2.2" fill="#facebb"/>
<rect x="385.58" y="548.1" width="29.58" height="2.2" fill="#f7bea6"/>
<rect x="385.58" y="550.25" width="29.58" height="2.2" fill="#f9c9b4"/>
<rect x="385.58" y="552.4" width="29.58" height="2.2" fill="#f9c7b2"/>
<rect x="385.58" y="554.55" width="29.58" height="2.2" fill="#f6b9a0"/>
<rect x="385.58" y="556.7" width="29.58" height="2.2" fill="#faccb8"/>
<rect x="385.58" y="558.85" width="29.58" height="2.2" fill="#fad3c2"/>
<rect x="385.58" y="561" width="29.58" height="2.2" fill="#f7c0a9"/>
<rect x="385.58" y="563.15" width="29.58" height="2.2" fill="#f4b095"/>
<rect x="385.58" y="565.3" width="29.58" height="2.2" fill="#f3ac90"/>
<rect x="385.58" y="567.45" width="29.58" height="2.2" fill="#f5b79e"/>
<rect x="415.16" y="539.5" width="29.58" height="2.2" fill="#f9d6c6"/>
<rect x="415.16" y="541.65" width="29.58" height="2.2" fill="#f9e1d7"/>
<rect x="415.16" y="543.8" width="29.58" height="2.2" fill="#faccb8"/>
<rect x="415.16" y="545.95" width="29.58" height="2.2" fill="#f9d9cb"/>
<rect x="415.16" y="548.1" width="29.58" height="2.2" fill="#fad1bf"/>
<rect x="415.16" y="550.25" width="29.58" height="2.2" fill="#faccb7"/>
<rect x="415.16" y="552.4" width="29.58" height="2.2" fill="#fad0bd"/>
<rect x="415.16" y="554.55" width="29.58" height="2.2" fill="#facbb7"/>
<rect x="415.16" y="556.7" width="29.58" height="2.2" fill="#fad0be"/>
<rect x="415.16" y="558.85" width="29.58" height="2.2" fill="#f6b9a1"/>
<rect x="415.16" y="561" width="29.58" height="2.2" fill="#f4b399"/>
<rect x="415.16" y="563.15" width="29.58" height="2.2" fill="#f3ae93"/>
<rect x="415.16" y="565.3" width="29.58" height="2.2" fill="#f4b196"/>
<rect x="415.16" y="567.45" width="29.58" height="2.2" fill="#f6b9a1"/>
<rect x="444.74" y="539.5" width="29.58" height="2.2" fill="#fad1bf"/>
<rect x="444.74" y="541.65" width="29.58" height="2.2" fill="#f8e2d9"/>
<rect x="444.74" y="543.8" width="29.58" height="2.2" fill="#f9d4c4"/>
<rect x="444.74" y="545.95" width="29.58" height="2.2" fill="#f9cab5"/>
<rect x="444.74" y="548.1" width="29.58" height="2.2" fill="#faccb7"/>
<rect x="444.74" y="550.25" width="29.58" height="2.2" fill="#f8c3ad"/>
<rect x="444.74" y="552.4" width="29.58" height="2.2" fill="#f6bba3"/>
<rect x="444.74" y="554.55" width="29.58" height="2.2" fill="#f8c2ab"/>
<rect x="444.74" y="556.7" width="29.58" height="2.2" fill="#f9c6b1"/>
<rect x="444.74" y="558.85" width="29.58" height="2.2" fill="#f9cab5"/>
<rect x="444.74" y="561" width="29.58" height="2.2" fill="#faccb7"/>
<rect x="444.74" y="563.15" width="29.58" height="2.2" fill="#f8c5b0"/>
<rect x="444.74" y="565.3" width="29.58" height="2.2" fill="#f5b69c"/>
<rect x="444.74" y="567.45" width="29.58" height="2.2" fill="#fad2c0"/>
<rect x="474.32" y="539.5" width="29.58" height="2.2" fill="#f8c3ac"/>
<rect x="474.32" y="541.65" width="29.58" height="2.2" fill="#f4af94"/>
<rect x="474.32" y="543.8" width="29.58" height="2.2" fill="#f7bda6"/>
<rect x="474.32" y="545.95" width="29.58" height="2.2" fill="#f8c1ab"/>
<rect x="474.32" y="548.1" width="29.58" height="2.2" fill="#f6bba3"/>
<rect x="474.32" y="550.25" width="29.58" height="2.2" fill="#f9cab5"/>
<rect x="474.32" y="552.4" width="29.58" height="2.2" fill="#f7bfa7"/>
<rect x="474.32" y="554.55" width="29.58" height="2.2" fill="#f9c8b3"/>
<rect x="474.32" y="556.7" width="29.58" height="2.2" fill="#f8c2ac"/>
<rect x="474.32" y="558.85" width="29.58" height="2.2" fill="#f8c4ad"/>
<rect x="474.32" y="561" width="29.58" height="2.2" fill="#f6b89f"/>
<rect x="474.32" y="563.15" width="29.58" height="2.2" fill="#f7c1aa"/>
<rect x="474.32" y="565.3" width="29.58" height="2.2" fill="#f9c8b2"/>
<rect x="474.32" y="567.45" width="29.58" height="2.2" fill="#f8c5b0"/>
<rect x="503.9" y="539.5" width="29.58" height="2.2" fill="#f6baa1"/>
<rect x="503.9" y="541.65" width="29.58" height="2.2" fill="#f7c0a9"/>
<rect x="503.9" y="543.8" width="29.58" height="2.2" fill="#f5b59b"/>
<rect x="503.9" y="545.95" width="29.58" height="2.2" fill="#f6bca4"/>
<rect x="503.9" y="548.1" width="29.58" height="2.2" fill="#f7c0a8"/>
<rect x="503.9" y="550.25" width="29.58" height="2.2" fill="#f7c1aa"/>
<rect x="503.9" y="552.4" width="29.58" height="2.2" fill="#f8c3ac"/>
<rect x="503.9" y="554.55" width="29.58" height="2.2" fill="#f7bda5"/>
<rect x="503.9" y="556.7" width="29.58" height="2.2" fill="#f8c6b0"/>
<rect x="503.9" y="558.85" width="29.58" height="2.2" fill="#f5b59b"/>
<rect x="503.9" y="561" width="29.58" height="2.2" fill="#f9dacc"/>
<rect x="503.9" y="563.15" width="29.58" height="2.2" fill="#f9e1d7"/>
<rect x="503.9" y="565.3" width="29.58" height="2.2" fill="#f5b59b"/>
<rect x="503.9" y="567.45" width="29.58" height="2.2" fill="#f7bda5"/>
<rect x="533.48" y="539.5" width="29.58" height="2.2" fill="#e3ecf3"/>
<rect x="533.48" y="541.65" width="29.58" height="2.2" fill="#e6eef3"/>
<rect x="533.48" y="543.8" width="29.58" height="2.2" fill="#deeaf2"/>
<rect x="533.48" y="545.95" width="29.58" height="2.2" fill="#2a64ab"/>
<rect x="533.48" y="548.1" width="29.58" height="2.2" fill="#5e98c7"/>
<rect x="533.48" y="550.25" width="29.58" height="2.2" fill="#5693c4"/>
<rect x="533.48" y="552.4" width="29.58" height="2.2" fill="#5c97c6"/>
<rect x="533.48" y="554.55" width="29.58" height="2.2" fill="#5894c5"/>
<rect x="533.48" y="556.7" width="29.58" height="2.2" fill="#5894c4"/>
<rect x="533.48" y="558.85" width="29.58" height="2.2" fill="#4889bf"/>
<rect x="533.48" y="561" width="29.58" height="2.2" fill="#518fc2"/>
<rect x="533.48" y="563.15" width="29.58" height="2.2" fill="#5894c5"/>
<rect x="533.48" y="565.3" width="29.58" height="2.2" fill="#5f99c7"/>
<rect x="533.48" y="567.45" width="29.58" height="2.2" fill="#5894c5"/>
<rect x="563.06" y="539.5" width="29.58" height="2.2" fill="#2a65ab"/>
<rect x="563.06" y="541.65" width="29.58" height="2.2" fill="#2a64ab"/>
<rect x="563.06" y="543.8" width="29.58" height="2.2" fill="#2a63aa"/>
<rect x="563.06" y="545.95" width="29.58" height="2.2" fill="#4484bd"/>
<rect x="563.06" y="548.1" width="29.58" height="2.2" fill="#4586be"/>
<rect x="563.06" y="550.25" width="29.58" height="2.2" fill="#a3c7df"/>
<rect x="563.06" y="552.4" width="29.58" height="2.2" fill="#79acd1"/>
<rect x="563.06" y="554.55" width="29.58" height="2.2" fill="#81b2d3"/>
<rect x="563.06" y="556.7" width="29.58" height="2.2" fill="#7dafd2"/>
<rect x="563.06" y="558.85" width="29.58" height="2.2" fill="#8cb8d7"/>
<rect x="563.06" y="561" width="29.58" height="2.2" fill="#79acd0"/>
<rect x="563.06" y="563.15" width="29.58" height="2.2" fill="#7fb0d3"/>
<rect x="563.06" y="565.3" width="29.58" height="2.2" fill="#72a7ce"/>
<rect x="563.06" y="567.45" width="29.58" height="2.2" fill="#71a6ce"/>
<rect x="592.64" y="539.5" width="29.58" height="2.2" fill="#80b1d3"/>
<rect x="592.64" y="541.65" width="29.58" height="2.2" fill="#90bbd9"/>
<rect x="592.64" y="543.8" width="29.58" height="4.35" fill="#316db0"/>
<rect x="592.64" y="548.1" width="29.58" height="2.2" fill="#9dc3dd"/>
<rect x="592.64" y="550.25" width="29.58" height="2.2" fill="#94bdda"/>
<rect x="592.64" y="552.4" width="29.58" height="2.2" fill="#639cc9"/>
<rect x="592.64" y="554.55" width="29.58" height="2.2" fill="#70a5cd"/>
<rect x="592.64" y="556.7" width="29.58" height="2.2" fill="#6ba2cb"/>
<rect x="592.64" y="558.85" width="29.58" height="2.2" fill="#6aa1cb"/>
<rect x="592.64" y="561" width="29.58" height="2.2" fill="#679fca"/>
<rect x="592.64" y="563.15" width="29.58" height="2.2" fill="#6ca3cc"/>
<rect x="592.64" y="565.3" width="29.58" height="2.2" fill="#659dc9"/>
<rect x="592.64" y="567.45" width="29.58" height="2.2" fill="#79acd0"/>
<line x1="385.58" y1="539.5" x2="385.58" y2="569.6" stroke="rgba(190,190,190,0.45)" stroke-width="0.5"/>
<line x1="415.16" y1="539.5" x2="415.16" y2="569.6" stroke="rgba(190,190,190,0.45)" stroke-width="0.5"/>
<line x1="444.74" y1="539.5" x2="444.74" y2="569.6" stroke="rgba(190,190,190,0.45)" stroke-width="0.5"/>
<line x1="474.32" y1="539.5" x2="474.32" y2="569.6" stroke="rgba(190,190,190,0.45)" stroke-width="0.5"/>
<line x1="503.9" y1="539.5" x2="503.9" y2="569.6" stroke="rgba(190,190,190,0.45)" stroke-width="0.5"/>
<line x1="533.48" y1="539.5" x2="533.48" y2="569.6" stroke="rgba(190,190,190,0.45)" stroke-width="0.5"/>
<line x1="563.06" y1="539.5" x2="563.06" y2="569.6" stroke="rgba(190,190,190,0.45)" stroke-width="0.5"/>
<line x1="592.64" y1="539.5" x2="592.64" y2="569.6" stroke="rgba(190,190,190,0.45)" stroke-width="0.5"/>
<rect x="356" y="570.8" width="29.58" height="2.25" fill="#e5eef3"/>
<rect x="356" y="573" width="29.58" height="2.25" fill="#e3edf3"/>
<rect x="356" y="575.19" width="29.58" height="2.25" fill="#d8e7f0"/>
<rect x="356" y="577.39" width="29.58" height="2.25" fill="#f6bca5"/>
<rect x="356" y="579.59" width="29.58" height="2.25" fill="#f7bfa8"/>
<rect x="356" y="581.78" width="29.58" height="2.25" fill="#ebf1f4"/>
<rect x="356" y="583.98" width="29.58" height="2.25" fill="#f1f4f6"/>
<rect x="356" y="586.17" width="29.58" height="2.25" fill="#f3f5f6"/>
<rect x="356" y="588.37" width="29.58" height="2.25" fill="#ebf1f5"/>
<rect x="356" y="590.57" width="29.58" height="2.25" fill="#f1f4f6"/>
<rect x="356" y="592.76" width="29.58" height="2.25" fill="#b8d4e7"/>
<rect x="356" y="594.96" width="29.58" height="2.25" fill="#f8e9e2"/>
<rect x="356" y="597.16" width="29.58" height="2.25" fill="#f8efea"/>
<rect x="356" y="599.35" width="29.58" height="2.25" fill="#c2daea"/>
<rect x="356" y="601.55" width="29.58" height="2.25" fill="#cde1ee"/>
<rect x="356" y="603.74" width="29.58" height="2.25" fill="#c0d9ea"/>
<rect x="356" y="605.94" width="29.58" height="2.25" fill="#5f99c7"/>
<rect x="356" y="608.14" width="29.58" height="2.25" fill="#5894c4"/>
<rect x="356" y="610.33" width="29.58" height="2.25" fill="#e4edf3"/>
<rect x="356" y="612.53" width="29.58" height="2.25" fill="#e9eff4"/>
<rect x="356" y="614.73" width="29.58" height="2.25" fill="#b9d4e7"/>
<rect x="356" y="616.92" width="29.58" height="2.25" fill="#dfebf2"/>
<rect x="356" y="619.12" width="29.58" height="2.25" fill="#ebf1f4"/>
<rect x="356" y="621.32" width="29.58" height="2.25" fill="#c2daea"/>
<rect x="356" y="623.51" width="29.58" height="2.25" fill="#c6dceb"/>
<rect x="356" y="625.71" width="29.58" height="2.25" fill="#cadfed"/>
<rect x="356" y="627.9" width="29.58" height="2.25" fill="#e3edf3"/>
<rect x="356" y="630.1" width="29.58" height="2.25" fill="#dbe8f1"/>
<rect x="356" y="632.3" width="29.58" height="2.25" fill="#e6eef3"/>
<rect x="356" y="634.49" width="29.58" height="2.25" fill="#b7d3e6"/>
<rect x="356" y="636.69" width="29.58" height="2.25" fill="#cfe2ee"/>
<rect x="356" y="638.89" width="29.58" height="2.25" fill="#c7ddec"/>
<rect x="356" y="641.08" width="29.58" height="2.25" fill="#afcfe4"/>
<rect x="356" y="643.28" width="29.58" height="2.25" fill="#c3dbeb"/>
<rect x="356" y="645.48" width="29.58" height="2.25" fill="#bbd6e8"/>
<rect x="356" y="647.67" width="29.58" height="2.25" fill="#c7ddec"/>
<rect x="356" y="649.87" width="29.58" height="2.25" fill="#c3dbeb"/>
<rect x="356" y="652.06" width="29.58" height="2.25" fill="#c2daea"/>
<rect x="356" y="654.26" width="29.58" height="2.25" fill="#ecf1f5"/>
<rect x="356" y="656.46" width="29.58" height="2.25" fill="#c7ddec"/>
<rect x="356" y="658.65" width="29.58" height="2.25" fill="#bad5e7"/>
<rect x="356" y="660.85" width="29.58" height="2.25" fill="#d9e7f1"/>
<rect x="356" y="663.05" width="29.58" height="2.25" fill="#b7d3e6"/>
<rect x="356" y="665.24" width="29.58" height="2.25" fill="#bed8e9"/>
<rect x="356" y="667.44" width="29.58" height="2.25" fill="#bcd7e8"/>
<rect x="356" y="669.63" width="29.58" height="2.25" fill="#c4dbeb"/>
<rect x="356" y="671.83" width="29.58" height="2.25" fill="#cde1ee"/>
<rect x="356" y="674.03" width="29.58" height="2.25" fill="#c7ddec"/>
<rect x="356" y="676.22" width="29.58" height="2.25" fill="#cbe0ed"/>
<rect x="356" y="678.42" width="29.58" height="2.25" fill="#cfe2ef"/>
<rect x="356" y="680.62" width="29.58" height="2.25" fill="#cee1ee"/>
<rect x="356" y="682.81" width="29.58" height="2.25" fill="#b6d3e6"/>
<rect x="356" y="685.01" width="29.58" height="2.25" fill="#c8deec"/>
<rect x="356" y="687.21" width="29.58" height="2.25" fill="#d1e3ef"/>
<rect x="356" y="689.4" width="29.58" height="2.25" fill="#d4e4ef"/>
<rect x="356" y="691.6" width="29.58" height="2.25" fill="#b7d3e6"/>
<rect x="356" y="693.79" width="29.58" height="2.25" fill="#e6eef3"/>
<rect x="356" y="695.99" width="29.58" height="2.25" fill="#bed8e9"/>
<rect x="356" y="698.19" width="29.58" height="2.25" fill="#b8d4e7"/>
<rect x="356" y="700.38" width="29.58" height="2.25" fill="#bad5e7"/>
<rect x="356" y="702.58" width="29.58" height="2.25" fill="#cee2ee"/>
<rect x="356" y="704.78" width="29.58" height="2.25" fill="#bfd8e9"/>
<rect x="356" y="706.97" width="29.58" height="2.25" fill="#cfe2ee"/>
<rect x="356" y="709.17" width="29.58" height="2.25" fill="#c4dceb"/>
<rect x="356" y="711.37" width="29.58" height="2.25" fill="#e5eef3"/>
<rect x="356" y="713.56" width="29.58" height="2.25" fill="#bed8e9"/>
<rect x="356" y="715.76" width="29.58" height="2.25" fill="#b3d1e5"/>
<rect x="356" y="717.95" width="29.58" height="2.25" fill="#edf2f5"/>
<rect x="356" y="720.15" width="29.58" height="2.25" fill="#d9e7f1"/>
<rect x="356" y="722.35" width="29.58" height="2.25" fill="#b2d0e4"/>
<rect x="356" y="724.54" width="29.58" height="2.25" fill="#bdd7e8"/>
<rect x="356" y="726.74" width="29.58" height="2.25" fill="#b9d5e7"/>
<rect x="356" y="728.94" width="29.58" height="2.25" fill="#a7c9e1"/>
<rect x="356" y="731.13" width="29.58" height="2.25" fill="#abcce2"/>
<rect x="356" y="733.33" width="29.58" height="2.25" fill="#a2c6df"/>
<rect x="356" y="735.52" width="29.58" height="2.25" fill="#bbd6e8"/>
<rect x="356" y="737.72" width="29.58" height="2.25" fill="#c8deec"/>
<rect x="356" y="739.92" width="29.58" height="2.25" fill="#d0e2ef"/>
<rect x="356" y="742.11" width="29.58" height="2.25" fill="#c7ddec"/>
<rect x="356" y="744.31" width="29.58" height="2.25" fill="#deeaf2"/>
<rect x="356" y="746.51" width="29.58" height="2.25" fill="#b9d5e7"/>
<rect x="356" y="748.7" width="29.58" height="2.25" fill="#bfd8e9"/>
<rect x="356" y="750.9" width="29.58" height="2.25" fill="#cfe2ee"/>
<rect x="356" y="753.1" width="29.58" height="2.25" fill="#e1ebf2"/>
<rect x="356" y="755.29" width="29.58" height="2.25" fill="#bdd7e8"/>
<rect x="356" y="757.49" width="29.58" height="2.25" fill="#c2daea"/>
<rect x="356" y="759.68" width="29.58" height="2.25" fill="#cadfed"/>
<rect x="356" y="761.88" width="29.58" height="2.25" fill="#f6bca4"/>
<rect x="356" y="764.08" width="29.58" height="2.25" fill="#f8c2ab"/>
<rect x="356" y="766.27" width="29.58" height="2.25" fill="#f9c6b1"/>
<rect x="356" y="768.47" width="29.58" height="2.25" fill="#facfbc"/>
<rect x="356" y="770.67" width="29.58" height="2.25" fill="#f1f4f6"/>
<rect x="356" y="772.86" width="29.58" height="2.25" fill="#ecf1f5"/>
<rect x="356" y="775.06" width="29.58" height="2.25" fill="#c3dbea"/>
<rect x="356" y="777.26" width="29.58" height="2.25" fill="#d1e3ef"/>
<rect x="356" y="779.45" width="29.58" height="2.25" fill="#dae8f1"/>
<rect x="356" y="781.65" width="29.58" height="2.25" fill="#d4e5f0"/>
<rect x="356" y="783.84" width="29.58" height="2.25" fill="#eaf0f4"/>
<rect x="356" y="786.04" width="29.58" height="6.64" fill="#cfe2ee"/>
<rect x="356" y="792.63" width="29.58" height="2.25" fill="#cde1ee"/>
<rect x="356" y="794.83" width="29.58" height="2.25" fill="#c5dceb"/>
<rect x="356" y="797.02" width="29.58" height="2.25" fill="#d1e3ef"/>
<rect x="356" y="799.22" width="29.58" height="2.25" fill="#cde1ee"/>
<rect x="356" y="801.41" width="29.58" height="2.25" fill="#d7e6f0"/>
<rect x="356" y="803.61" width="29.58" height="4.44" fill="#f9d6c6"/>
<rect x="356" y="808" width="29.58" height="2.25" fill="#e7eff4"/>
<rect x="385.58" y="570.8" width="29.58" height="2.25" fill="#f9dacc"/>
<rect x="385.58" y="573" width="29.58" height="2.25" fill="#f8e2d8"/>
<rect x="385.58" y="575.19" width="29.58" height="2.25" fill="#f8e8e1"/>
<rect x="385.58" y="577.39" width="29.58" height="2.25" fill="#f9dcd0"/>
<rect x="385.58" y="579.59" width="29.58" height="2.25" fill="#e47b5e"/>
<rect x="385.58" y="581.78" width="29.58" height="2.25" fill="#f7f4f2"/>
<rect x="385.58" y="583.98" width="29.58" height="2.25" fill="#f8ede9"/>
<rect x="385.58" y="586.17" width="29.58" height="2.25" fill="#f7f6f6"/>
<rect x="385.58" y="588.37" width="29.58" height="2.25" fill="#f8efeb"/>
<rect x="385.58" y="590.57" width="29.58" height="2.25" fill="#f7bea6"/>
<rect x="385.58" y="592.76" width="29.58" height="2.25" fill="#e4edf3"/>
<rect x="385.58" y="594.96" width="29.58" height="2.25" fill="#dde9f1"/>
<rect x="385.58" y="597.16" width="29.58" height="2.25" fill="#dfebf2"/>
<rect x="385.58" y="599.35" width="29.58" height="2.25" fill="#f8c6b0"/>
<rect x="385.58" y="601.55" width="29.58" height="2.25" fill="#f7c1aa"/>
<rect x="385.58" y="603.74" width="29.58" height="2.25" fill="#faccb8"/>
<rect x="385.58" y="605.94" width="29.58" height="2.25" fill="#edf2f5"/>
<rect x="385.58" y="608.14" width="29.58" height="4.44" fill="#e4edf3"/>
<rect x="385.58" y="612.53" width="29.58" height="2.25" fill="#bed8e9"/>
<rect x="385.58" y="614.73" width="29.58" height="2.25" fill="#c2daea"/>
<rect x="385.58" y="616.92" width="29.58" height="2.25" fill="#c7ddec"/>
<rect x="385.58" y="619.12" width="29.58" height="2.25" fill="#e8eff4"/>
<rect x="385.58" y="621.32" width="29.58" height="2.25" fill="#bfd9e9"/>
<rect x="385.58" y="623.51" width="29.58" height="2.25" fill="#c0d9ea"/>
<rect x="385.58" y="625.71" width="29.58" height="2.25" fill="#c8deec"/>
<rect x="385.58" y="627.9" width="29.58" height="2.25" fill="#e7eff4"/>
<rect x="385.58" y="630.1" width="29.58" height="2.25" fill="#bad5e7"/>
<rect x="385.58" y="632.3" width="29.58" height="2.25" fill="#d2e3ef"/>
<rect x="385.58" y="634.49" width="29.58" height="2.25" fill="#cde1ee"/>
<rect x="385.58" y="636.69" width="29.58" height="2.25" fill="#c5dceb"/>
<rect x="385.58" y="638.89" width="29.58" height="2.25" fill="#bed7e9"/>
<rect x="385.58" y="641.08" width="29.58" height="2.25" fill="#d9e7f1"/>
<rect x="385.58" y="643.28" width="29.58" height="2.25" fill="#c5dceb"/>
<rect x="385.58" y="645.48" width="29.58" height="2.25" fill="#e4edf3"/>
<rect x="385.58" y="647.67" width="29.58" height="2.25" fill="#e8eff4"/>
<rect x="385.58" y="649.87" width="29.58" height="2.25" fill="#f2f4f6"/>
<rect x="385.58" y="652.06" width="29.58" height="2.25" fill="#ecf1f5"/>
<rect x="385.58" y="654.26" width="29.58" height="2.25" fill="#f3f5f6"/>
<rect x="385.58" y="656.46" width="29.58" height="2.25" fill="#eef2f5"/>
<rect x="385.58" y="658.65" width="29.58" height="2.25" fill="#e4edf3"/>
<rect x="385.58" y="660.85" width="29.58" height="2.25" fill="#d0e2ef"/>
<rect x="385.58" y="663.05" width="29.58" height="2.25" fill="#cfe2ee"/>
<rect x="385.58" y="665.24" width="29.58" height="2.25" fill="#bad5e7"/>
<rect x="385.58" y="667.44" width="29.58" height="2.25" fill="#d1e3ef"/>
<rect x="385.58" y="669.63" width="29.58" height="4.44" fill="#c0d9e9"/>
<rect x="385.58" y="674.03" width="29.58" height="2.25" fill="#cbe0ed"/>
<rect x="385.58" y="676.22" width="29.58" height="2.25" fill="#d0e2ef"/>
<rect x="385.58" y="678.42" width="29.58" height="2.25" fill="#cee2ee"/>
<rect x="385.58" y="680.62" width="29.58" height="2.25" fill="#d4e5f0"/>
<rect x="385.58" y="682.81" width="29.58" height="2.25" fill="#cde1ee"/>
<rect x="385.58" y="685.01" width="29.58" height="2.25" fill="#c9deec"/>
<rect x="385.58" y="687.21" width="29.58" height="2.25" fill="#c4dbeb"/>
<rect x="385.58" y="689.4" width="29.58" height="2.25" fill="#c1daea"/>
<rect x="385.58" y="691.6" width="29.58" height="2.25" fill="#c6ddec"/>
<rect x="385.58" y="693.79" width="29.58" height="2.25" fill="#bcd6e8"/>
<rect x="385.58" y="695.99" width="29.58" height="2.25" fill="#b8d4e7"/>
<rect x="385.58" y="698.19" width="29.58" height="2.25" fill="#bdd7e9"/>
<rect x="385.58" y="700.38" width="29.58" height="2.25" fill="#bed8e9"/>
<rect x="385.58" y="702.58" width="29.58" height="2.25" fill="#d3e4ef"/>
<rect x="385.58" y="704.78" width="29.58" height="2.25" fill="#c0d9ea"/>
<rect x="385.58" y="706.97" width="29.58" height="2.25" fill="#b9d4e7"/>
<rect x="385.58" y="709.17" width="29.58" height="2.25" fill="#facebb"/>
<rect x="385.58" y="711.37" width="29.58" height="2.25" fill="#fad3c3"/>
<rect x="385.58" y="713.56" width="29.58" height="2.25" fill="#f9dbcd"/>
<rect x="385.58" y="715.76" width="29.58" height="2.25" fill="#f8c5af"/>
<rect x="385.58" y="717.95" width="29.58" height="4.44" fill="#fad4c3"/>
<rect x="385.58" y="722.35" width="29.58" height="2.25" fill="#f9d7c8"/>
<rect x="385.58" y="724.54" width="29.58" height="2.25" fill="#f9d6c7"/>
<rect x="385.58" y="726.74" width="29.58" height="2.25" fill="#f9c8b3"/>
<rect x="385.58" y="728.94" width="29.58" height="2.25" fill="#f9d7c7"/>
<rect x="385.58" y="731.13" width="29.58" height="2.25" fill="#fad3c1"/>
<rect x="385.58" y="733.33" width="29.58" height="2.25" fill="#f9d7c7"/>
<rect x="385.58" y="735.52" width="29.58" height="2.25" fill="#e7eff4"/>
<rect x="385.58" y="737.72" width="29.58" height="2.25" fill="#f4f5f6"/>
<rect x="385.58" y="739.92" width="29.58" height="2.25" fill="#f3f5f6"/>
<rect x="385.58" y="742.11" width="29.58" height="2.25" fill="#eef2f5"/>
<rect x="385.58" y="744.31" width="29.58" height="2.25" fill="#f3f5f6"/>
<rect x="385.58" y="746.51" width="29.58" height="2.25" fill="#f0f3f5"/>
<rect x="385.58" y="748.7" width="29.58" height="2.25" fill="#e6eef3"/>
<rect x="385.58" y="750.9" width="29.58" height="2.25" fill="#f9d5c4"/>
<rect x="385.58" y="753.1" width="29.58" height="2.25" fill="#f9d8c9"/>
<rect x="385.58" y="755.29" width="29.58" height="2.25" fill="#f9dacc"/>
<rect x="385.58" y="757.49" width="29.58" height="2.25" fill="#fad0be"/>
<rect x="385.58" y="759.68" width="29.58" height="2.25" fill="#f8e3da"/>
<rect x="385.58" y="761.88" width="29.58" height="2.25" fill="#f9dacc"/>
<rect x="385.58" y="764.08" width="29.58" height="2.25" fill="#f8ece6"/>
<rect x="385.58" y="766.27" width="29.58" height="2.25" fill="#fad3c2"/>
<rect x="385.58" y="768.47" width="29.58" height="2.25" fill="#f9d9cb"/>
<rect x="385.58" y="770.67" width="29.58" height="2.25" fill="#f8ece6"/>
<rect x="385.58" y="772.86" width="29.58" height="2.25" fill="#facfbb"/>
<rect x="385.58" y="775.06" width="29.58" height="2.25" fill="#dbe8f1"/>
<rect x="385.58" y="777.26" width="29.58" height="2.25" fill="#c4dbeb"/>
<rect x="385.58" y="779.45" width="29.58" height="2.25" fill="#b4d1e5"/>
<rect x="385.58" y="781.65" width="29.58" height="2.25" fill="#b9d5e7"/>
<rect x="385.58" y="783.84" width="29.58" height="2.25" fill="#bad5e7"/>
<rect x="385.58" y="786.04" width="29.58" height="2.25" fill="#d8e7f0"/>
<rect x="385.58" y="788.24" width="29.58" height="2.25" fill="#bcd6e8"/>
<rect x="385.58" y="790.43" width="29.58" height="2.25" fill="#c5dceb"/>
<rect x="385.58" y="792.63" width="29.58" height="2.25" fill="#c3dbeb"/>
<rect x="385.58" y="794.83" width="29.58" height="2.25" fill="#accde3"/>
<rect x="385.58" y="797.02" width="29.58" height="2.25" fill="#bfd8e9"/>
<rect x="385.58" y="799.22" width="29.58" height="2.25" fill="#c7ddec"/>
<rect x="385.58" y="801.41" width="29.58" height="2.25" fill="#d8e7f0"/>
<rect x="385.58" y="803.61" width="29.58" height="2.25" fill="#a8cae1"/>
<rect x="385.58" y="805.81" width="29.58" height="2.25" fill="#b0cfe4"/>
<rect x="385.58" y="808" width="29.58" height="2.25" fill="#c2daea"/>
<rect x="415.16" y="570.8" width="29.58" height="2.25" fill="#f9e2d8"/>
<rect x="415.16" y="573" width="29.58" height="2.25" fill="#f9e1d6"/>
<rect x="415.16" y="575.19" width="29.58" height="2.25" fill="#fad0be"/>
<rect x="415.16" y="577.39" width="29.58" height="2.25" fill="#cce0ee"/>
<rect x="415.16" y="579.59" width="29.58" height="2.25" fill="#cadfed"/>
<rect x="415.16" y="581.78" width="29.58" height="2.25" fill="#cee1ee"/>
<rect x="415.16" y="583.98" width="29.58" height="2.25" fill="#eff3f5"/>
<rect x="415.16" y="586.17" width="29.58" height="2.25" fill="#eef2f5"/>
<rect x="415.16" y="588.37" width="29.58" height="2.25" fill="#f2f5f6"/>
<rect x="415.16" y="590.57" width="29.58" height="2.25" fill="#eaf0f4"/>
<rect x="415.16" y="592.76" width="29.58" height="2.25" fill="#e9f0f4"/>
<rect x="415.16" y="594.96" width="29.58" height="2.25" fill="#f2f4f6"/>
<rect x="415.16" y="597.16" width="29.58" height="2.25" fill="#ebf1f4"/>
<rect x="415.16" y="599.35" width="29.58" height="2.25" fill="#ecf1f5"/>
<rect x="415.16" y="601.55" width="29.58" height="2.25" fill="#e6eef3"/>
<rect x="415.16" y="603.74" width="29.58" height="2.25" fill="#f1f4f6"/>
<rect x="415.16" y="605.94" width="29.58" height="2.25" fill="#ebf1f4"/>
<rect x="415.16" y="608.14" width="29.58" height="2.25" fill="#a1c6df"/>
<rect x="415.16" y="610.33" width="29.58" height="2.25" fill="#a3c7df"/>
<rect x="415.16" y="612.53" width="29.58" height="2.25" fill="#e4edf3"/>
<rect x="415.16" y="614.73" width="29.58" height="2.25" fill="#cee2ee"/>
<rect x="415.16" y="616.92" width="29.58" height="2.25" fill="#cde1ee"/>
<rect x="415.16" y="619.12" width="29.58" height="2.25" fill="#c8deec"/>
<rect x="415.16" y="621.32" width="29.58" height="2.25" fill="#d0e3ef"/>
<rect x="415.16" y="623.51" width="29.58" height="2.25" fill="#bcd6e8"/>
<rect x="415.16" y="625.71" width="29.58" height="2.25" fill="#cee2ee"/>
<rect x="415.16" y="627.9" width="29.58" height="2.25" fill="#c0d9ea"/>
<rect x="415.16" y="630.1" width="29.58" height="2.25" fill="#c2daea"/>
<rect x="415.16" y="632.3" width="29.58" height="2.25" fill="#bdd7e9"/>
<rect x="415.16" y="634.49" width="29.58" height="2.25" fill="#bcd6e8"/>
<rect x="415.16" y="636.69" width="29.58" height="2.25" fill="#d3e4ef"/>
<rect x="415.16" y="638.89" width="29.58" height="2.25" fill="#e1ebf2"/>
<rect x="415.16" y="641.08" width="29.58" height="2.25" fill="#cbdfed"/>
<rect x="415.16" y="643.28" width="29.58" height="2.25" fill="#d5e5f0"/>
<rect x="415.16" y="645.48" width="29.58" height="2.25" fill="#cce0ee"/>
<rect x="415.16" y="647.67" width="29.58" height="2.25" fill="#d0e3ef"/>
<rect x="415.16" y="649.87" width="29.58" height="2.25" fill="#c9deed"/>
<rect x="415.16" y="652.06" width="29.58" height="2.25" fill="#c9deec"/>
<rect x="415.16" y="654.26" width="29.58" height="2.25" fill="#cee2ee"/>
<rect x="415.16" y="656.46" width="29.58" height="2.25" fill="#f6b9a0"/>
<rect x="415.16" y="658.65" width="29.58" height="2.25" fill="#fad2c1"/>
<rect x="415.16" y="660.85" width="29.58" height="4.44" fill="#d7e6f0"/>
<rect x="415.16" y="665.24" width="29.58" height="2.25" fill="#deeaf2"/>
<rect x="415.16" y="667.44" width="29.58" height="2.25" fill="#dbe8f1"/>
<rect x="415.16" y="669.63" width="29.58" height="2.25" fill="#eef2f5"/>
<rect x="415.16" y="671.83" width="29.58" height="2.25" fill="#d9e7f1"/>
<rect x="415.16" y="674.03" width="29.58" height="2.25" fill="#deeaf2"/>
<rect x="415.16" y="676.22" width="29.58" height="2.25" fill="#e2ecf3"/>
<rect x="415.16" y="678.42" width="29.58" height="2.25" fill="#d9e7f1"/>
<rect x="415.16" y="680.62" width="29.58" height="2.25" fill="#edf2f5"/>
<rect x="415.16" y="682.81" width="29.58" height="2.25" fill="#d6e6f0"/>
<rect x="415.16" y="685.01" width="29.58" height="2.25" fill="#e9f0f4"/>
<rect x="415.16" y="687.21" width="29.58" height="2.25" fill="#e0ebf2"/>
<rect x="415.16" y="689.4" width="29.58" height="2.25" fill="#dce9f1"/>
<rect x="415.16" y="691.6" width="29.58" height="2.25" fill="#bad5e7"/>
<rect x="415.16" y="693.79" width="29.58" height="2.25" fill="#b7d3e6"/>
<rect x="415.16" y="695.99" width="29.58" height="2.25" fill="#c4dceb"/>
<rect x="415.16" y="698.19" width="29.58" height="2.25" fill="#d4e5f0"/>
<rect x="415.16" y="700.38" width="29.58" height="2.25" fill="#a6c9e0"/>
<rect x="415.16" y="702.58" width="29.58" height="2.25" fill="#a2c6df"/>
<rect x="415.16" y="704.78" width="29.58" height="2.25" fill="#b6d3e6"/>
<rect x="415.16" y="706.97" width="29.58" height="2.25" fill="#a6c9e0"/>
<rect x="415.16" y="709.17" width="29.58" height="2.25" fill="#e8eff4"/>
<rect x="415.16" y="711.37" width="29.58" height="2.25" fill="#b9d5e7"/>
<rect x="415.16" y="713.56" width="29.58" height="2.25" fill="#c0d9e9"/>
<rect x="415.16" y="715.76" width="29.58" height="2.25" fill="#a0c5de"/>
<rect x="415.16" y="717.95" width="29.58" height="2.25" fill="#c2daea"/>
<rect x="415.16" y="720.15" width="29.58" height="2.25" fill="#b7d4e6"/>
<rect x="415.16" y="722.35" width="29.58" height="2.25" fill="#e4edf3"/>
<rect x="415.16" y="724.54" width="29.58" height="2.25" fill="#bbd6e8"/>
<rect x="415.16" y="726.74" width="29.58" height="2.25" fill="#fad4c3"/>
<rect x="415.16" y="728.94" width="29.58" height="2.25" fill="#f9d6c6"/>
<rect x="415.16" y="731.13" width="29.58" height="2.25" fill="#f9ddd0"/>
<rect x="415.16" y="733.33" width="29.58" height="2.25" fill="#f9ded2"/>
<rect x="415.16" y="735.52" width="29.58" height="2.25" fill="#c9dfed"/>
<rect x="415.16" y="737.72" width="29.58" height="2.25" fill="#c0d9e9"/>
<rect x="415.16" y="739.92" width="29.58" height="2.25" fill="#c9dfed"/>
<rect x="415.16" y="742.11" width="29.58" height="2.25" fill="#c8deec"/>
<rect x="415.16" y="744.31" width="29.58" height="2.25" fill="#c6ddec"/>
<rect x="415.16" y="746.51" width="29.58" height="2.25" fill="#c2daea"/>
<rect x="415.16" y="748.7" width="29.58" height="2.25" fill="#adcde3"/>
<rect x="415.16" y="750.9" width="29.58" height="2.25" fill="#bed8e9"/>
<rect x="415.16" y="753.1" width="29.58" height="2.25" fill="#bed7e9"/>
<rect x="415.16" y="755.29" width="29.58" height="2.25" fill="#bfd8e9"/>
<rect x="415.16" y="757.49" width="29.58" height="2.25" fill="#cbe0ed"/>
<rect x="415.16" y="759.68" width="29.58" height="2.25" fill="#b1d0e4"/>
<rect x="415.16" y="761.88" width="29.58" height="2.25" fill="#c8deec"/>
<rect x="415.16" y="764.08" width="29.58" height="2.25" fill="#bad5e7"/>
<rect x="415.16" y="766.27" width="29.58" height="2.25" fill="#c6ddec"/>
<rect x="415.16" y="768.47" width="29.58" height="2.25" fill="#c3dbeb"/>
<rect x="415.16" y="770.67" width="29.58" height="2.25" fill="#c9deec"/>
<rect x="415.16" y="772.86" width="29.58" height="2.25" fill="#bed8e9"/>
<rect x="415.16" y="775.06" width="29.58" height="2.25" fill="#f5f6f7"/>
<rect x="415.16" y="777.26" width="29.58" height="2.25" fill="#c6ddeb"/>
<rect x="415.16" y="779.45" width="29.58" height="2.25" fill="#d2e3ef"/>
<rect x="415.16" y="781.65" width="29.58" height="2.25" fill="#b7d4e6"/>
<rect x="415.16" y="783.84" width="29.58" height="2.25" fill="#cbe0ed"/>
<rect x="415.16" y="786.04" width="29.58" height="2.25" fill="#c9deed"/>
<rect x="415.16" y="788.24" width="29.58" height="2.25" fill="#e3edf3"/>
<rect x="415.16" y="790.43" width="29.58" height="2.25" fill="#cde1ee"/>
<rect x="415.16" y="792.63" width="29.58" height="2.25" fill="#c5dceb"/>
<rect x="415.16" y="794.83" width="29.58" height="2.25" fill="#d0e3ef"/>
<rect x="415.16" y="797.02" width="29.58" height="2.25" fill="#c6dceb"/>
<rect x="415.16" y="799.22" width="29.58" height="2.25" fill="#c8deec"/>
<rect x="415.16" y="801.41" width="29.58" height="2.25" fill="#c3dbea"/>
<rect x="415.16" y="803.61" width="29.58" height="2.25" fill="#d7e6f0"/>
<rect x="415.16" y="805.81" width="29.58" height="2.25" fill="#c3dbeb"/>
<rect x="415.16" y="808" width="29.58" height="2.25" fill="#c9dfed"/>
<rect x="444.74" y="570.8" width="29.58" height="2.25" fill="#cce1ee"/>
<rect x="444.74" y="573" width="29.58" height="2.25" fill="#c5dceb"/>
<rect x="444.74" y="575.19" width="29.58" height="2.25" fill="#c2daea"/>
<rect x="444.74" y="577.39" width="29.58" height="2.25" fill="#afcfe4"/>
<rect x="444.74" y="579.59" width="29.58" height="2.25" fill="#a4c8e0"/>
<rect x="444.74" y="581.78" width="29.58" height="2.25" fill="#f8eee9"/>
<rect x="444.74" y="583.98" width="29.58" height="2.25" fill="#f8f0ec"/>
<rect x="444.74" y="586.17" width="29.58" height="2.25" fill="#f8ede8"/>
<rect x="444.74" y="588.37" width="29.58" height="2.25" fill="#f7f7f7"/>
<rect x="444.74" y="590.57" width="29.58" height="2.25" fill="#f8e4db"/>
<rect x="444.74" y="592.76" width="29.58" height="2.25" fill="#f9ded3"/>
<rect x="444.74" y="594.96" width="29.58" height="2.25" fill="#f8ece7"/>
<rect x="444.74" y="597.16" width="29.58" height="2.25" fill="#f8e8e0"/>
<rect x="444.74" y="599.35" width="29.58" height="2.25" fill="#d4e5f0"/>
<rect x="444.74" y="601.55" width="29.58" height="2.25" fill="#d9e7f0"/>
<rect x="444.74" y="603.74" width="29.58" height="2.25" fill="#d8e7f0"/>
<rect x="444.74" y="605.94" width="29.58" height="2.25" fill="#e6eef3"/>
<rect x="444.74" y="608.14" width="29.58" height="2.25" fill="#eff3f5"/>
<rect x="444.74" y="610.33" width="29.58" height="2.25" fill="#cee2ee"/>
<rect x="444.74" y="612.53" width="29.58" height="2.25" fill="#cfe2ee"/>
<rect x="444.74" y="614.73" width="29.58" height="2.25" fill="#cde1ee"/>
<rect x="444.74" y="616.92" width="29.58" height="2.25" fill="#c8deec"/>
<rect x="444.74" y="619.12" width="29.58" height="2.25" fill="#c3dbea"/>
<rect x="444.74" y="621.32" width="29.58" height="2.25" fill="#b1cfe4"/>
<rect x="444.74" y="623.51" width="29.58" height="2.25" fill="#bfd8e9"/>
<rect x="444.74" y="625.71" width="29.58" height="2.25" fill="#bcd6e8"/>
<rect x="444.74" y="627.9" width="29.58" height="2.25" fill="#b2d0e4"/>
<rect x="444.74" y="630.1" width="29.58" height="2.25" fill="#b1cfe4"/>
<rect x="444.74" y="632.3" width="29.58" height="2.25" fill="#c4dbeb"/>
<rect x="444.74" y="634.49" width="29.58" height="2.25" fill="#b5d2e6"/>
<rect x="444.74" y="636.69" width="29.58" height="2.25" fill="#b3d1e5"/>
<rect x="444.74" y="638.89" width="29.58" height="2.25" fill="#c2daea"/>
<rect x="444.74" y="641.08" width="29.58" height="2.25" fill="#adcde3"/>
<rect x="444.74" y="643.28" width="29.58" height="2.25" fill="#99c1dc"/>
<rect x="444.74" y="645.48" width="29.58" height="2.25" fill="#c0d9e9"/>
<rect x="444.74" y="647.67" width="29.58" height="2.25" fill="#cbe0ed"/>
<rect x="444.74" y="649.87" width="29.58" height="2.25" fill="#d0e3ef"/>
<rect x="444.74" y="652.06" width="29.58" height="2.25" fill="#d0e2ef"/>
<rect x="444.74" y="654.26" width="29.58" height="4.44" fill="#d1e3ef"/>
<rect x="444.74" y="658.65" width="29.58" height="2.25" fill="#dbe8f1"/>
<rect x="444.74" y="660.85" width="29.58" height="2.25" fill="#d9e7f1"/>
<rect x="444.74" y="663.05" width="29.58" height="2.25" fill="#cbe0ed"/>
<rect x="444.74" y="665.24" width="29.58" height="4.44" fill="#d3e4ef"/>
<rect x="444.74" y="669.63" width="29.58" height="2.25" fill="#cee2ee"/>
<rect x="444.74" y="671.83" width="29.58" height="2.25" fill="#d4e5f0"/>
<rect x="444.74" y="674.03" width="29.58" height="2.25" fill="#d4e4ef"/>
<rect x="444.74" y="676.22" width="29.58" height="2.25" fill="#d8e7f0"/>
<rect x="444.74" y="678.42" width="29.58" height="2.25" fill="#d2e4ef"/>
<rect x="444.74" y="680.62" width="29.58" height="2.25" fill="#cde1ee"/>
<rect x="444.74" y="682.81" width="29.58" height="2.25" fill="#c9dfed"/>
<rect x="444.74" y="685.01" width="29.58" height="2.25" fill="#accce2"/>
<rect x="444.74" y="687.21" width="29.58" height="2.25" fill="#b1d0e4"/>
<rect x="444.74" y="689.4" width="29.58" height="2.25" fill="#b2d0e4"/>
<rect x="444.74" y="691.6" width="29.58" height="2.25" fill="#b2d0e5"/>
<rect x="444.74" y="693.79" width="29.58" height="2.25" fill="#abcce2"/>
<rect x="444.74" y="695.99" width="29.58" height="2.25" fill="#9fc4de"/>
<rect x="444.74" y="698.19" width="29.58" height="2.25" fill="#aecde3"/>
<rect x="444.74" y="700.38" width="29.58" height="2.25" fill="#cee1ee"/>
<rect x="444.74" y="702.58" width="29.58" height="2.25" fill="#cde1ee"/>
<rect x="444.74" y="704.78" width="29.58" height="2.25" fill="#d5e5f0"/>
<rect x="444.74" y="706.97" width="29.58" height="2.25" fill="#d1e3ef"/>
<rect x="444.74" y="709.17" width="29.58" height="2.25" fill="#cbe0ed"/>
<rect x="444.74" y="711.37" width="29.58" height="2.25" fill="#d1e3ef"/>
<rect x="444.74" y="713.56" width="29.58" height="2.25" fill="#d3e4ef"/>
<rect x="444.74" y="715.76" width="29.58" height="2.25" fill="#d0e3ef"/>
<rect x="444.74" y="717.95" width="29.58" height="2.25" fill="#f2f4f6"/>
<rect x="444.74" y="720.15" width="29.58" height="2.25" fill="#f0f3f5"/>
<rect x="444.74" y="722.35" width="29.58" height="2.25" fill="#f1f4f6"/>
<rect x="444.74" y="724.54" width="29.58" height="2.25" fill="#f5f6f7"/>
<rect x="444.74" y="726.74" width="29.58" height="2.25" fill="#e5edf3"/>
<rect x="444.74" y="728.94" width="29.58" height="2.25" fill="#cfe2ee"/>
<rect x="444.74" y="731.13" width="29.58" height="2.25" fill="#d1e3ef"/>
<rect x="444.74" y="733.33" width="29.58" height="2.25" fill="#c0d9ea"/>
<rect x="444.74" y="735.52" width="29.58" height="2.25" fill="#cce0ed"/>
<rect x="444.74" y="737.72" width="29.58" height="4.44" fill="#cfe2ee"/>
<rect x="444.74" y="742.11" width="29.58" height="2.25" fill="#bcd6e8"/>
<rect x="444.74" y="744.31" width="29.58" height="2.25" fill="#e8eff4"/>
<rect x="444.74" y="746.51" width="29.58" height="4.44" fill="#d0e3ef"/>
<rect x="444.74" y="750.9" width="29.58" height="2.25" fill="#a6c9e0"/>
<rect x="444.74" y="753.1" width="29.58" height="2.25" fill="#a9cbe1"/>
<rect x="444.74" y="755.29" width="29.58" height="2.25" fill="#e3ecf3"/>
<rect x="444.74" y="757.49" width="29.58" height="2.25" fill="#e1ebf2"/>
<rect x="444.74" y="759.68" width="29.58" height="2.25" fill="#cee1ee"/>
<rect x="444.74" y="761.88" width="29.58" height="2.25" fill="#cde1ee"/>
<rect x="444.74" y="764.08" width="29.58" height="2.25" fill="#cbe0ed"/>
<rect x="444.74" y="766.27" width="29.58" height="2.25" fill="#cfe2ef"/>
<rect x="444.74" y="768.47" width="29.58" height="2.25" fill="#cde1ee"/>
<rect x="444.74" y="770.67" width="29.58" height="2.25" fill="#edf2f5"/>
<rect x="444.74" y="772.86" width="29.58" height="2.25" fill="#cce0ee"/>
<rect x="444.74" y="775.06" width="29.58" height="2.25" fill="#e2ecf2"/>
<rect x="444.74" y="777.26" width="29.58" height="2.25" fill="#cee2ee"/>
<rect x="444.74" y="779.45" width="29.58" height="2.25" fill="#d0e3ef"/>
<rect x="444.74" y="781.65" width="29.58" height="2.25" fill="#d6e6f0"/>
<rect x="444.74" y="783.84" width="29.58" height="2.25" fill="#c2daea"/>
<rect x="444.74" y="786.04" width="29.58" height="2.25" fill="#c9deed"/>
<rect x="444.74" y="788.24" width="29.58" height="2.25" fill="#c9dfed"/>
<rect x="444.74" y="790.43" width="29.58" height="2.25" fill="#d4e5f0"/>
<rect x="444.74" y="792.63" width="29.58" height="2.25" fill="#cee2ee"/>
<rect x="444.74" y="794.83" width="29.58" height="2.25" fill="#cadfed"/>
<rect x="444.74" y="797.02" width="29.58" height="2.25" fill="#c2daea"/>
<rect x="444.74" y="799.22" width="29.58" height="2.25" fill="#d2e4ef"/>
<rect x="444.74" y="801.41" width="29.58" height="2.25" fill="#c6ddec"/>
<rect x="444.74" y="803.61" width="29.58" height="2.25" fill="#cfe2ee"/>
<rect x="444.74" y="805.81" width="29.58" height="2.25" fill="#d0e3ef"/>
<rect x="444.74" y="808" width="29.58" height="2.25" fill="#cde1ee"/>
<rect x="474.32" y="570.8" width="29.58" height="2.25" fill="#95beda"/>
<rect x="474.32" y="573" width="29.58" height="2.25" fill="#9ac1dc"/>
<rect x="474.32" y="575.19" width="29.58" height="2.25" fill="#90bbd9"/>
<rect x="474.32" y="577.39" width="29.58" height="2.25" fill="#c0d9ea"/>
<rect x="474.32" y="579.59" width="29.58" height="2.25" fill="#3f7eb9"/>
<rect x="474.32" y="581.78" width="29.58" height="2.25" fill="#3a79b6"/>
<rect x="474.32" y="583.98" width="29.58" height="2.25" fill="#4282bb"/>
<rect x="474.32" y="586.17" width="29.58" height="2.25" fill="#3875b4"/>
<rect x="474.32" y="588.37" width="29.58" height="2.25" fill="#407fba"/>
<rect x="474.32" y="590.57" width="29.58" height="2.25" fill="#4181bb"/>
<rect x="474.32" y="592.76" width="29.58" height="2.25" fill="#3c7bb7"/>
<rect x="474.32" y="594.96" width="29.58" height="2.25" fill="#d9e7f1"/>
<rect x="474.32" y="597.16" width="29.58" height="2.25" fill="#deeaf2"/>
<rect x="474.32" y="599.35" width="29.58" height="2.25" fill="#7fb0d3"/>
<rect x="474.32" y="601.55" width="29.58" height="2.25" fill="#7dafd2"/>
<rect x="474.32" y="603.74" width="29.58" height="4.44" fill="#f7f1ee"/>
<rect x="474.32" y="608.14" width="29.58" height="2.25" fill="#b6d3e6"/>
<rect x="474.32" y="610.33" width="29.58" height="2.25" fill="#c5dceb"/>
<rect x="474.32" y="612.53" width="29.58" height="2.25" fill="#c9dfed"/>
<rect x="474.32" y="614.73" width="29.58" height="2.25" fill="#b3d1e5"/>
<rect x="474.32" y="616.92" width="29.58" height="2.25" fill="#bed7e9"/>
<rect x="474.32" y="619.12" width="29.58" height="2.25" fill="#bdd7e8"/>
<rect x="474.32" y="621.32" width="29.58" height="2.25" fill="#b9d4e7"/>
<rect x="474.32" y="623.51" width="29.58" height="2.25" fill="#e4edf3"/>
<rect x="474.32" y="625.71" width="29.58" height="2.25" fill="#bed8e9"/>
<rect x="474.32" y="627.9" width="29.58" height="2.25" fill="#b6d2e6"/>
<rect x="474.32" y="630.1" width="29.58" height="2.25" fill="#abcce2"/>
<rect x="474.32" y="632.3" width="29.58" height="2.25" fill="#b3d1e5"/>
<rect x="474.32" y="634.49" width="29.58" height="2.25" fill="#c1d9ea"/>
<rect x="474.32" y="636.69" width="29.58" height="2.25" fill="#a7c9e1"/>
<rect x="474.32" y="638.89" width="29.58" height="2.25" fill="#b1d0e4"/>
<rect x="474.32" y="641.08" width="29.58" height="2.25" fill="#5a95c5"/>
<rect x="474.32" y="643.28" width="29.58" height="2.25" fill="#5592c3"/>
<rect x="474.32" y="645.48" width="29.58" height="2.25" fill="#508ec2"/>
<rect x="474.32" y="647.67" width="29.58" height="2.25" fill="#5a96c5"/>
<rect x="474.32" y="649.87" width="29.58" height="2.25" fill="#2a64ab"/>
<rect x="474.32" y="652.06" width="29.58" height="2.25" fill="#91bcd9"/>
<rect x="474.32" y="654.26" width="29.58" height="2.25" fill="#92bcd9"/>
<rect x="474.32" y="656.46" width="29.58" height="2.25" fill="#8cb8d7"/>
<rect x="474.32" y="658.65" width="29.58" height="2.25" fill="#6ea4cd"/>
<rect x="474.32" y="660.85" width="29.58" height="2.25" fill="#68a0ca"/>
<rect x="474.32" y="663.05" width="29.58" height="2.25" fill="#a7c9e1"/>
<rect x="474.32" y="665.24" width="29.58" height="2.25" fill="#a3c7df"/>
<rect x="474.32" y="667.44" width="29.58" height="2.25" fill="#9dc3dd"/>
<rect x="474.32" y="669.63" width="29.58" height="2.25" fill="#96bfdb"/>
<rect x="474.32" y="671.83" width="29.58" height="2.25" fill="#91bbd9"/>
<rect x="474.32" y="674.03" width="29.58" height="2.25" fill="#92bcd9"/>
<rect x="474.32" y="676.22" width="29.58" height="2.25" fill="#aecee3"/>
<rect x="474.32" y="678.42" width="29.58" height="2.25" fill="#91bbd9"/>
<rect x="474.32" y="680.62" width="29.58" height="4.44" fill="#9ac1dc"/>
<rect x="474.32" y="685.01" width="29.58" height="2.25" fill="#8ebad8"/>
<rect x="474.32" y="687.21" width="29.58" height="2.25" fill="#97bfdb"/>
<rect x="474.32" y="689.4" width="29.58" height="4.44" fill="#619bc8"/>
<rect x="474.32" y="693.79" width="29.58" height="2.25" fill="#69a0cb"/>
<rect x="474.32" y="695.99" width="29.58" height="2.25" fill="#6ba2cb"/>
<rect x="474.32" y="698.19" width="29.58" height="2.25" fill="#5290c2"/>
<rect x="474.32" y="700.38" width="29.58" height="2.25" fill="#c1d9ea"/>
<rect x="474.32" y="702.58" width="29.58" height="2.25" fill="#629bc8"/>
<rect x="474.32" y="704.78" width="29.58" height="2.25" fill="#5995c5"/>
<rect x="474.32" y="706.97" width="29.58" height="2.25" fill="#5a96c5"/>
<rect x="474.32" y="709.17" width="29.58" height="2.25" fill="#639cc9"/>
<rect x="474.32" y="711.37" width="29.58" height="2.25" fill="#679fca"/>
<rect x="474.32" y="713.56" width="29.58" height="2.25" fill="#5c97c6"/>
<rect x="474.32" y="715.76" width="29.58" height="2.25" fill="#5894c5"/>
<rect x="474.32" y="717.95" width="29.58" height="2.25" fill="#a4c7e0"/>
<rect x="474.32" y="720.15" width="29.58" height="2.25" fill="#659dc9"/>
<rect x="474.32" y="722.35" width="29.58" height="2.25" fill="#659ec9"/>
<rect x="474.32" y="724.54" width="29.58" height="2.25" fill="#7cafd2"/>
<rect x="474.32" y="726.74" width="29.58" height="2.25" fill="#86b4d5"/>
<rect x="474.32" y="728.94" width="29.58" height="2.25" fill="#82b2d4"/>
<rect x="474.32" y="731.13" width="29.58" height="2.25" fill="#83b3d4"/>
<rect x="474.32" y="733.33" width="29.58" height="2.25" fill="#e5eef3"/>
<rect x="474.32" y="735.52" width="29.58" height="2.25" fill="#316caf"/>
<rect x="474.32" y="737.72" width="29.58" height="2.25" fill="#3b79b6"/>
<rect x="474.32" y="739.92" width="29.58" height="2.25" fill="#a2c6df"/>
<rect x="474.32" y="742.11" width="29.58" height="2.25" fill="#a4c7e0"/>
<rect x="474.32" y="744.31" width="29.58" height="2.25" fill="#3876b4"/>
<rect x="474.32" y="746.51" width="29.58" height="2.25" fill="#d8e7f0"/>
<rect x="474.32" y="748.7" width="29.58" height="2.25" fill="#6fa5cd"/>
<rect x="474.32" y="750.9" width="29.58" height="2.25" fill="#3c7ab7"/>
<rect x="474.32" y="753.1" width="29.58" height="2.25" fill="#3774b4"/>
<rect x="474.32" y="755.29" width="29.58" height="2.25" fill="#326eb0"/>
<rect x="474.32" y="757.49" width="29.58" height="2.25" fill="#4080ba"/>
<rect x="474.32" y="759.68" width="29.58" height="2.25" fill="#4888bf"/>
<rect x="474.32" y="761.88" width="29.58" height="2.25" fill="#5b96c6"/>
<rect x="474.32" y="764.08" width="29.58" height="2.25" fill="#2a65ab"/>
<rect x="474.32" y="766.27" width="29.58" height="2.25" fill="#2b65ab"/>
<rect x="474.32" y="768.47" width="29.58" height="2.25" fill="#306caf"/>
<rect x="474.32" y="770.67" width="29.58" height="2.25" fill="#306baf"/>
<rect x="474.32" y="772.86" width="29.58" height="2.25" fill="#336fb1"/>
<rect x="474.32" y="775.06" width="29.58" height="2.25" fill="#316db0"/>
<rect x="474.32" y="777.26" width="29.58" height="2.25" fill="#77aad0"/>
<rect x="474.32" y="779.45" width="29.58" height="2.25" fill="#94bdda"/>
<rect x="474.32" y="781.65" width="29.58" height="2.25" fill="#d4e4ef"/>
<rect x="474.32" y="783.84" width="29.58" height="2.25" fill="#8db9d8"/>
<rect x="474.32" y="786.04" width="29.58" height="4.44" fill="#81b1d3"/>
<rect x="474.32" y="790.43" width="29.58" height="2.25" fill="#9ac1dc"/>
<rect x="474.32" y="792.63" width="29.58" height="2.25" fill="#95beda"/>
<rect x="474.32" y="794.83" width="29.58" height="2.25" fill="#8fbad8"/>
<rect x="474.32" y="797.02" width="29.58" height="2.25" fill="#cbe0ed"/>
<rect x="474.32" y="799.22" width="29.58" height="2.25" fill="#86b5d5"/>
<rect x="474.32" y="801.41" width="29.58" height="2.25" fill="#81b1d3"/>
<rect x="474.32" y="803.61" width="29.58" height="2.25" fill="#8fbad8"/>
<rect x="474.32" y="805.81" width="29.58" height="2.25" fill="#8cb9d7"/>
<rect x="474.32" y="808" width="29.58" height="2.25" fill="#7fb0d3"/>
<rect x="503.9" y="570.8" width="29.58" height="2.25" fill="#d8e7f0"/>
<rect x="503.9" y="573" width="29.58" height="2.25" fill="#b1cfe4"/>
<rect x="503.9" y="575.19" width="29.58" height="2.25" fill="#c9deec"/>
<rect x="503.9" y="577.39" width="29.58" height="2.25" fill="#b9d4e7"/>
<rect x="503.9" y="579.59" width="29.58" height="2.25" fill="#c7ddec"/>
<rect x="503.9" y="581.78" width="29.58" height="2.25" fill="#f3aa8e"/>
<rect x="503.9" y="583.98" width="29.58" height="2.25" fill="#a9cbe1"/>
<rect x="503.9" y="586.17" width="29.58" height="2.25" fill="#aecee3"/>
<rect x="503.9" y="588.37" width="29.58" height="2.25" fill="#c0d9e9"/>
<rect x="503.9" y="590.57" width="29.58" height="2.25" fill="#a3c7df"/>
<rect x="503.9" y="592.76" width="29.58" height="2.25" fill="#afcee3"/>
<rect x="503.9" y="594.96" width="29.58" height="2.25" fill="#f8eae4"/>
<rect x="503.9" y="597.16" width="29.58" height="2.25" fill="#f8e7e0"/>
<rect x="503.9" y="599.35" width="29.58" height="2.25" fill="#f8e9e3"/>
<rect x="503.9" y="601.55" width="29.58" height="2.25" fill="#d7614e"/>
<rect x="503.9" y="603.74" width="29.58" height="2.25" fill="#f6baa1"/>
<rect x="503.9" y="605.94" width="29.58" height="2.25" fill="#cd5046"/>
<rect x="503.9" y="608.14" width="29.58" height="2.25" fill="#c5dceb"/>
<rect x="503.9" y="610.33" width="29.58" height="2.25" fill="#d0e2ef"/>
<rect x="503.9" y="612.53" width="29.58" height="2.25" fill="#cce0ee"/>
<rect x="503.9" y="614.73" width="29.58" height="2.25" fill="#dce9f1"/>
<rect x="503.9" y="616.92" width="29.58" height="2.25" fill="#d0e2ef"/>
<rect x="503.9" y="619.12" width="29.58" height="2.25" fill="#d7e6f0"/>
<rect x="503.9" y="621.32" width="29.58" height="2.25" fill="#cee2ee"/>
<rect x="503.9" y="623.51" width="29.58" height="2.25" fill="#b8d4e7"/>
<rect x="503.9" y="625.71" width="29.58" height="2.25" fill="#c9dfed"/>
<rect x="503.9" y="627.9" width="29.58" height="2.25" fill="#c1d9ea"/>
<rect x="503.9" y="630.1" width="29.58" height="2.25" fill="#d1e3ef"/>
<rect x="503.9" y="632.3" width="29.58" height="2.25" fill="#bcd6e8"/>
<rect x="503.9" y="634.49" width="29.58" height="2.25" fill="#eaf0f4"/>
<rect x="503.9" y="636.69" width="29.58" height="2.25" fill="#e5edf3"/>
<rect x="503.9" y="638.89" width="29.58" height="2.25" fill="#cbe0ed"/>
<rect x="503.9" y="641.08" width="29.58" height="2.25" fill="#c8deec"/>
<rect x="503.9" y="643.28" width="29.58" height="2.25" fill="#c5dceb"/>
<rect x="503.9" y="645.48" width="29.58" height="2.25" fill="#bfd8e9"/>
<rect x="503.9" y="647.67" width="29.58" height="2.25" fill="#e6eef3"/>
<rect x="503.9" y="649.87" width="29.58" height="2.25" fill="#f7f0ed"/>
<rect x="503.9" y="652.06" width="29.58" height="2.25" fill="#f8ece7"/>
<rect x="503.9" y="654.26" width="29.58" height="2.25" fill="#f8ede9"/>
<rect x="503.9" y="656.46" width="29.58" height="2.25" fill="#f8f0ed"/>
<rect x="503.9" y="658.65" width="29.58" height="2.25" fill="#f7f5f4"/>
<rect x="503.9" y="660.85" width="29.58" height="2.25" fill="#e4edf3"/>
<rect x="503.9" y="663.05" width="29.58" height="2.25" fill="#cee2ee"/>
<rect x="503.9" y="665.24" width="29.58" height="2.25" fill="#cbdfed"/>
<rect x="503.9" y="667.44" width="29.58" height="2.25" fill="#cfe2ee"/>
<rect x="503.9" y="669.63" width="29.58" height="2.25" fill="#cce0ee"/>
<rect x="503.9" y="671.83" width="29.58" height="2.25" fill="#d0e3ef"/>
<rect x="503.9" y="674.03" width="29.58" height="2.25" fill="#7fb0d3"/>
<rect x="503.9" y="676.22" width="29.58" height="2.25" fill="#7dafd2"/>
<rect x="503.9" y="678.42" width="29.58" height="2.25" fill="#95bedb"/>
<rect x="503.9" y="680.62" width="29.58" height="2.25" fill="#7fb0d3"/>
<rect x="503.9" y="682.81" width="29.58" height="2.25" fill="#f3f5f6"/>
<rect x="503.9" y="685.01" width="29.58" height="2.25" fill="#ecf1f5"/>
<rect x="503.9" y="687.21" width="29.58" height="2.25" fill="#e8eff4"/>
<rect x="503.9" y="689.4" width="29.58" height="4.44" fill="#f2f4f6"/>
<rect x="503.9" y="693.79" width="29.58" height="2.25" fill="#ecf1f5"/>
<rect x="503.9" y="695.99" width="29.58" height="2.25" fill="#f0f4f6"/>
<rect x="503.9" y="698.19" width="29.58" height="2.25" fill="#edf2f5"/>
<rect x="503.9" y="700.38" width="29.58" height="4.44" fill="#ecf1f5"/>
<rect x="503.9" y="704.78" width="29.58" height="2.25" fill="#f9d9cb"/>
<rect x="503.9" y="706.97" width="29.58" height="2.25" fill="#f9ded2"/>
<rect x="503.9" y="709.17" width="29.58" height="2.25" fill="#f9dacc"/>
<rect x="503.9" y="711.37" width="29.58" height="2.25" fill="#e6eef3"/>
<rect x="503.9" y="713.56" width="29.58" height="2.25" fill="#e3edf3"/>
<rect x="503.9" y="715.76" width="29.58" height="2.25" fill="#eef2f5"/>
<rect x="503.9" y="717.95" width="29.58" height="2.25" fill="#e7eff4"/>
<rect x="503.9" y="720.15" width="29.58" height="4.44" fill="#e6eef3"/>
<rect x="503.9" y="724.54" width="29.58" height="2.25" fill="#f2f5f6"/>
<rect x="503.9" y="726.74" width="29.58" height="2.25" fill="#e8eff4"/>
<rect x="503.9" y="728.94" width="29.58" height="2.25" fill="#eaf0f4"/>
<rect x="503.9" y="731.13" width="29.58" height="2.25" fill="#ebf1f4"/>
<rect x="503.9" y="733.33" width="29.58" height="2.25" fill="#edf2f5"/>
<rect x="503.9" y="735.52" width="29.58" height="2.25" fill="#f9cab5"/>
<rect x="503.9" y="737.72" width="29.58" height="2.25" fill="#f2a78b"/>
<rect x="503.9" y="739.92" width="29.58" height="2.25" fill="#f9e0d5"/>
<rect x="503.9" y="742.11" width="29.58" height="2.25" fill="#fad1bf"/>
<rect x="503.9" y="744.31" width="29.58" height="2.25" fill="#f9d6c6"/>
<rect x="503.9" y="746.51" width="29.58" height="2.25" fill="#facfbd"/>
<rect x="503.9" y="748.7" width="29.58" height="2.25" fill="#ec8b69"/>
<rect x="503.9" y="750.9" width="29.58" height="2.25" fill="#ea8967"/>
<rect x="503.9" y="753.1" width="29.58" height="2.25" fill="#eb8a68"/>
<rect x="503.9" y="755.29" width="29.58" height="2.25" fill="#e98766"/>
<rect x="503.9" y="757.49" width="29.58" height="2.25" fill="#ed9170"/>
<rect x="503.9" y="759.68" width="29.58" height="2.25" fill="#cfe2ee"/>
<rect x="503.9" y="761.88" width="29.58" height="2.25" fill="#bed8e9"/>
<rect x="503.9" y="764.08" width="29.58" height="2.25" fill="#d7e6f0"/>
<rect x="503.9" y="766.27" width="29.58" height="2.25" fill="#cfe2ee"/>
<rect x="503.9" y="768.47" width="29.58" height="2.25" fill="#b8d4e7"/>
<rect x="503.9" y="770.67" width="29.58" height="2.25" fill="#c8deec"/>
<rect x="503.9" y="772.86" width="29.58" height="2.25" fill="#cee1ee"/>
<rect x="503.9" y="775.06" width="29.58" height="2.25" fill="#e6eef3"/>
<rect x="503.9" y="777.26" width="29.58" height="2.25" fill="#d1e3ef"/>
<rect x="503.9" y="779.45" width="29.58" height="2.25" fill="#d4e5f0"/>
<rect x="503.9" y="781.65" width="29.58" height="2.25" fill="#cce0ee"/>
<rect x="503.9" y="783.84" width="29.58" height="2.25" fill="#e4edf3"/>
<rect x="503.9" y="786.04" width="29.58" height="2.25" fill="#d0e2ef"/>
<rect x="503.9" y="788.24" width="29.58" height="2.25" fill="#d0e3ef"/>
<rect x="503.9" y="790.43" width="29.58" height="2.25" fill="#cde1ee"/>
<rect x="503.9" y="792.63" width="29.58" height="2.25" fill="#c6ddec"/>
<rect x="503.9" y="794.83" width="29.58" height="2.25" fill="#c5dceb"/>
<rect x="503.9" y="797.02" width="29.58" height="2.25" fill="#bdd7e8"/>
<rect x="503.9" y="799.22" width="29.58" height="2.25" fill="#d3e4ef"/>
<rect x="503.9" y="801.41" width="29.58" height="2.25" fill="#d0e3ef"/>
<rect x="503.9" y="803.61" width="29.58" height="2.25" fill="#cfe2ef"/>
<rect x="503.9" y="805.81" width="29.58" height="2.25" fill="#c7ddec"/>
<rect x="503.9" y="808" width="29.58" height="2.25" fill="#c9dfed"/>
<rect x="533.48" y="570.8" width="29.58" height="2.25" fill="#b5d2e6"/>
<rect x="533.48" y="573" width="29.58" height="2.25" fill="#4585bd"/>
<rect x="533.48" y="575.19" width="29.58" height="2.25" fill="#a1c5de"/>
<rect x="533.48" y="577.39" width="29.58" height="2.25" fill="#aacbe2"/>
<rect x="533.48" y="579.59" width="29.58" height="2.25" fill="#f8e7e0"/>
<rect x="533.48" y="581.78" width="29.58" height="2.25" fill="#f9dfd3"/>
<rect x="533.48" y="583.98" width="29.58" height="2.25" fill="#eaf0f4"/>
<rect x="533.48" y="586.17" width="29.58" height="2.25" fill="#e1ecf2"/>
<rect x="533.48" y="588.37" width="29.58" height="2.25" fill="#e5eef3"/>
<rect x="533.48" y="590.57" width="29.58" height="2.25" fill="#9cc3dd"/>
<rect x="533.48" y="592.76" width="29.58" height="2.25" fill="#e4edf3"/>
<rect x="533.48" y="594.96" width="29.58" height="2.25" fill="#2862aa"/>
<rect x="533.48" y="597.16" width="29.58" height="2.25" fill="#2b65ac"/>
<rect x="533.48" y="599.35" width="29.58" height="2.25" fill="#f8e7e0"/>
<rect x="533.48" y="601.55" width="29.58" height="2.25" fill="#ee9777"/>
<rect x="533.48" y="603.74" width="29.58" height="2.25" fill="#f1a386"/>
<rect x="533.48" y="605.94" width="29.58" height="2.25" fill="#f8c4ae"/>
<rect x="533.48" y="608.14" width="29.58" height="2.25" fill="#da6852"/>
<rect x="533.48" y="610.33" width="29.58" height="2.25" fill="#fad4c3"/>
<rect x="533.48" y="612.53" width="29.58" height="2.25" fill="#ee9472"/>
<rect x="533.48" y="614.73" width="29.58" height="2.25" fill="#d05548"/>
<rect x="533.48" y="616.92" width="29.58" height="2.25" fill="#da6852"/>
<rect x="533.48" y="619.12" width="29.58" height="2.25" fill="#d55e4c"/>
<rect x="533.48" y="621.32" width="29.58" height="2.25" fill="#d45d4c"/>
<rect x="533.48" y="623.51" width="29.58" height="2.25" fill="#d05548"/>
<rect x="533.48" y="625.71" width="29.58" height="2.25" fill="#d25a4a"/>
<rect x="533.48" y="627.9" width="29.58" height="2.25" fill="#d35a4a"/>
<rect x="533.48" y="630.1" width="29.58" height="2.25" fill="#d2594a"/>
<rect x="533.48" y="632.3" width="29.58" height="2.25" fill="#d96550"/>
<rect x="533.48" y="634.49" width="29.58" height="2.25" fill="#d15849"/>
<rect x="533.48" y="636.69" width="29.58" height="2.25" fill="#fad4c3"/>
<rect x="533.48" y="638.89" width="29.58" height="2.25" fill="#d8644f"/>
<rect x="533.48" y="641.08" width="29.58" height="2.25" fill="#b62732"/>
<rect x="533.48" y="643.28" width="29.58" height="2.25" fill="#d7614e"/>
<rect x="533.48" y="645.48" width="29.58" height="2.25" fill="#d8634f"/>
<rect x="533.48" y="647.67" width="29.58" height="2.25" fill="#c74641"/>
<rect x="533.48" y="649.87" width="29.58" height="2.25" fill="#eff3f5"/>
<rect x="533.48" y="652.06" width="29.58" height="2.25" fill="#f0f4f6"/>
<rect x="533.48" y="654.26" width="29.58" height="2.25" fill="#e4edf3"/>
<rect x="533.48" y="656.46" width="29.58" height="2.25" fill="#fad2c0"/>
<rect x="533.48" y="658.65" width="29.58" height="2.25" fill="#f8c2ab"/>
<rect x="533.48" y="660.85" width="29.58" height="2.25" fill="#ef9878"/>
<rect x="533.48" y="663.05" width="29.58" height="2.25" fill="#f4af94"/>
<rect x="533.48" y="665.24" width="29.58" height="2.25" fill="#f3aa8e"/>
<rect x="533.48" y="667.44" width="29.58" height="2.25" fill="#f2a689"/>
<rect x="533.48" y="669.63" width="29.58" height="2.25" fill="#f6b9a0"/>
<rect x="533.48" y="671.83" width="29.58" height="2.25" fill="#f2a88b"/>
<rect x="533.48" y="674.03" width="29.58" height="2.25" fill="#f09f81"/>
<rect x="533.48" y="676.22" width="29.58" height="2.25" fill="#f1a284"/>
<rect x="533.48" y="678.42" width="29.58" height="2.25" fill="#ee9877"/>
<rect x="533.48" y="680.62" width="29.58" height="2.25" fill="#f8efeb"/>
<rect x="533.48" y="682.81" width="29.58" height="2.25" fill="#f9e1d7"/>
<rect x="533.48" y="685.01" width="29.58" height="2.25" fill="#faceba"/>
<rect x="533.48" y="687.21" width="29.58" height="2.25" fill="#f9c7b2"/>
<rect x="533.48" y="689.4" width="29.58" height="2.25" fill="#faccb8"/>
<rect x="533.48" y="691.6" width="29.58" height="2.25" fill="#f9d9cb"/>
<rect x="533.48" y="693.79" width="29.58" height="2.25" fill="#f9cab6"/>
<rect x="533.48" y="695.99" width="29.58" height="2.25" fill="#f9ddd0"/>
<rect x="533.48" y="698.19" width="29.58" height="2.25" fill="#f1a183"/>
<rect x="533.48" y="700.38" width="29.58" height="2.25" fill="#f8e3da"/>
<rect x="533.48" y="702.58" width="29.58" height="2.25" fill="#f2a78b"/>
<rect x="533.48" y="704.78" width="29.58" height="2.25" fill="#f8e2d9"/>
<rect x="533.48" y="706.97" width="29.58" height="2.25" fill="#ec8e6c"/>
<rect x="533.48" y="709.17" width="29.58" height="2.25" fill="#ea8967"/>
<rect x="533.48" y="711.37" width="29.58" height="2.25" fill="#ea8866"/>
<rect x="533.48" y="713.56" width="29.58" height="2.25" fill="#e67f61"/>
<rect x="533.48" y="715.76" width="29.58" height="2.25" fill="#f9d4c4"/>
<rect x="533.48" y="717.95" width="29.58" height="2.25" fill="#eb8a67"/>
<rect x="533.48" y="720.15" width="29.58" height="2.25" fill="#e78363"/>
<rect x="533.48" y="722.35" width="29.58" height="2.25" fill="#e88464"/>
<rect x="533.48" y="724.54" width="29.58" height="2.25" fill="#e68062"/>
<rect x="533.48" y="726.74" width="29.58" height="2.25" fill="#eb8a68"/>
<rect x="533.48" y="728.94" width="29.58" height="2.25" fill="#d45d4c"/>
<rect x="533.48" y="731.13" width="29.58" height="2.25" fill="#f9d7c8"/>
<rect x="533.48" y="733.33" width="29.58" height="2.25" fill="#d25849"/>
<rect x="533.48" y="735.52" width="29.58" height="4.44" fill="#d45c4b"/>
<rect x="533.48" y="739.92" width="29.58" height="2.25" fill="#d6604d"/>
<rect x="533.48" y="742.11" width="29.58" height="2.25" fill="#d8634f"/>
<rect x="533.48" y="744.31" width="29.58" height="2.25" fill="#ad172b"/>
<rect x="533.48" y="746.51" width="29.58" height="2.25" fill="#a90e29"/>
<rect x="533.48" y="748.7" width="29.58" height="2.25" fill="#d35c4b"/>
<rect x="533.48" y="750.9" width="29.58" height="2.25" fill="#d05548"/>
<rect x="533.48" y="753.1" width="29.58" height="2.25" fill="#d15849"/>
<rect x="533.48" y="755.29" width="29.58" height="2.25" fill="#d45d4b"/>
<rect x="533.48" y="757.49" width="29.58" height="2.25" fill="#bd3338"/>
<rect x="533.48" y="759.68" width="29.58" height="2.25" fill="#bd3539"/>
<rect x="533.48" y="761.88" width="29.58" height="2.25" fill="#bb3137"/>
<rect x="533.48" y="764.08" width="29.58" height="2.25" fill="#bf373a"/>
<rect x="533.48" y="766.27" width="29.58" height="2.25" fill="#be3539"/>
<rect x="533.48" y="768.47" width="29.58" height="2.25" fill="#c4403e"/>
<rect x="533.48" y="770.67" width="29.58" height="2.25" fill="#bf373a"/>
<rect x="533.48" y="772.86" width="29.58" height="2.25" fill="#d45c4b"/>
<rect x="533.48" y="775.06" width="29.58" height="2.25" fill="#d7624e"/>
<rect x="533.48" y="777.26" width="29.58" height="2.25" fill="#da6953"/>
<rect x="533.48" y="779.45" width="29.58" height="2.25" fill="#d2594a"/>
<rect x="533.48" y="781.65" width="29.58" height="2.25" fill="#d6614d"/>
<rect x="533.48" y="783.84" width="29.58" height="2.25" fill="#d15749"/>
<rect x="533.48" y="786.04" width="29.58" height="2.25" fill="#d05548"/>
<rect x="533.48" y="788.24" width="29.58" height="2.25" fill="#d86550"/>
<rect x="533.48" y="790.43" width="29.58" height="2.25" fill="#d55f4c"/>
<rect x="533.48" y="792.63" width="29.58" height="2.25" fill="#f7bea7"/>
<rect x="533.48" y="794.83" width="29.58" height="2.25" fill="#ac162a"/>
<rect x="533.48" y="797.02" width="29.58" height="2.25" fill="#c6433f"/>
<rect x="533.48" y="799.22" width="29.58" height="2.25" fill="#ca4b43"/>
<rect x="533.48" y="801.41" width="29.58" height="2.25" fill="#cc4f45"/>
<rect x="533.48" y="803.61" width="29.58" height="2.25" fill="#cb4d44"/>
<rect x="533.48" y="805.81" width="29.58" height="2.25" fill="#c94942"/>
<rect x="533.48" y="808" width="29.58" height="2.25" fill="#ce5146"/>
<rect x="563.06" y="570.8" width="29.58" height="2.25" fill="#d25849"/>
<rect x="563.06" y="573" width="29.58" height="2.25" fill="#ce5246"/>
<rect x="563.06" y="575.19" width="29.58" height="2.25" fill="#e37b5e"/>
<rect x="563.06" y="577.39" width="29.58" height="2.25" fill="#ac162a"/>
<rect x="563.06" y="579.59" width="29.58" height="2.25" fill="#e2785c"/>
<rect x="563.06" y="581.78" width="29.58" height="2.25" fill="#b2212f"/>
<rect x="563.06" y="583.98" width="29.58" height="2.25" fill="#b32230"/>
<rect x="563.06" y="586.17" width="29.58" height="2.25" fill="#b62833"/>
<rect x="563.06" y="588.37" width="29.58" height="2.25" fill="#ba2f36"/>
<rect x="563.06" y="590.57" width="29.58" height="2.25" fill="#bf373a"/>
<rect x="563.06" y="592.76" width="29.58" height="2.25" fill="#d55f4d"/>
<rect x="563.06" y="594.96" width="29.58" height="2.25" fill="#f2aa8e"/>
<rect x="563.06" y="597.16" width="29.58" height="2.25" fill="#f1a487"/>
<rect x="563.06" y="599.35" width="29.58" height="4.44" fill="#d6614d"/>
<rect x="563.06" y="603.74" width="29.58" height="2.25" fill="#d25949"/>
<rect x="563.06" y="605.94" width="29.58" height="2.25" fill="#f09e7f"/>
<rect x="563.06" y="608.14" width="29.58" height="2.25" fill="#f2a689"/>
<rect x="563.06" y="610.33" width="29.58" height="2.25" fill="#f3ad92"/>
<rect x="563.06" y="612.53" width="29.58" height="2.25" fill="#d55f4c"/>
<rect x="563.06" y="614.73" width="29.58" height="2.25" fill="#d25a4a"/>
<rect x="563.06" y="616.92" width="29.58" height="2.25" fill="#d45c4b"/>
<rect x="563.06" y="619.12" width="29.58" height="2.25" fill="#d25849"/>
<rect x="563.06" y="621.32" width="29.58" height="2.25" fill="#d45d4c"/>
<rect x="563.06" y="623.51" width="29.58" height="2.25" fill="#fad3c1"/>
<rect x="563.06" y="625.71" width="29.58" height="2.25" fill="#d6604d"/>
<rect x="563.06" y="627.9" width="29.58" height="2.25" fill="#d35b4b"/>
<rect x="563.06" y="630.1" width="29.58" height="2.25" fill="#d45d4c"/>
<rect x="563.06" y="632.3" width="29.58" height="2.25" fill="#cb4c43"/>
<rect x="563.06" y="634.49" width="29.58" height="2.25" fill="#f4b298"/>
<rect x="563.06" y="636.69" width="29.58" height="2.25" fill="#f2a88c"/>
<rect x="563.06" y="638.89" width="29.58" height="2.25" fill="#da6852"/>
<rect x="563.06" y="641.08" width="29.58" height="2.25" fill="#ef9878"/>
<rect x="563.06" y="643.28" width="29.58" height="2.25" fill="#f0a082"/>
<rect x="563.06" y="645.48" width="29.58" height="2.25" fill="#f2a88b"/>
<rect x="563.06" y="647.67" width="29.58" height="2.25" fill="#f2a78a"/>
<rect x="563.06" y="649.87" width="29.58" height="2.25" fill="#db6a54"/>
<rect x="563.06" y="652.06" width="29.58" height="2.25" fill="#dc6d55"/>
<rect x="563.06" y="654.26" width="29.58" height="2.25" fill="#da6852"/>
<rect x="563.06" y="656.46" width="29.58" height="2.25" fill="#aa1029"/>
<rect x="563.06" y="658.65" width="29.58" height="2.25" fill="#b01d2d"/>
<rect x="563.06" y="660.85" width="29.58" height="2.25" fill="#ab142a"/>
<rect x="563.06" y="663.05" width="29.58" height="2.25" fill="#b82b34"/>
<rect x="563.06" y="665.24" width="29.58" height="2.25" fill="#bc3137"/>
<rect x="563.06" y="667.44" width="29.58" height="2.25" fill="#be3639"/>
<rect x="563.06" y="669.63" width="29.58" height="2.25" fill="#bc3237"/>
<rect x="563.06" y="671.83" width="29.58" height="2.25" fill="#fad0be"/>
<rect x="563.06" y="674.03" width="29.58" height="2.25" fill="#c13a3b"/>
<rect x="563.06" y="676.22" width="29.58" height="2.25" fill="#de7158"/>
<rect x="563.06" y="678.42" width="29.58" height="2.25" fill="#f5b79e"/>
<rect x="563.06" y="680.62" width="29.58" height="2.25" fill="#e1775c"/>
<rect x="563.06" y="682.81" width="29.58" height="2.25" fill="#de6f57"/>
<rect x="563.06" y="685.01" width="29.58" height="2.25" fill="#de7158"/>
<rect x="563.06" y="687.21" width="29.58" height="2.25" fill="#f6bca4"/>
<rect x="563.06" y="689.4" width="29.58" height="2.25" fill="#f3aa8e"/>
<rect x="563.06" y="691.6" width="29.58" height="2.25" fill="#db6b54"/>
<rect x="563.06" y="693.79" width="29.58" height="2.25" fill="#f9dbce"/>
<rect x="563.06" y="695.99" width="29.58" height="2.25" fill="#e1765b"/>
<rect x="563.06" y="698.19" width="29.58" height="2.25" fill="#f9d5c5"/>
<rect x="563.06" y="700.38" width="29.58" height="2.25" fill="#de7057"/>
<rect x="563.06" y="702.58" width="29.58" height="2.25" fill="#f3ad92"/>
<rect x="563.06" y="704.78" width="29.58" height="2.25" fill="#b11e2e"/>
<rect x="563.06" y="706.97" width="29.58" height="2.25" fill="#bc3338"/>
<rect x="563.06" y="709.17" width="29.58" height="2.25" fill="#b82b34"/>
<rect x="563.06" y="711.37" width="29.58" height="2.25" fill="#ae1a2c"/>
<rect x="563.06" y="713.56" width="29.58" height="2.25" fill="#ab142a"/>
<rect x="563.06" y="715.76" width="29.58" height="2.25" fill="#b01d2d"/>
<rect x="563.06" y="717.95" width="29.58" height="2.25" fill="#b52632"/>
<rect x="563.06" y="720.15" width="29.58" height="2.25" fill="#b2212f"/>
<rect x="563.06" y="722.35" width="29.58" height="2.25" fill="#ab142a"/>
<rect x="563.06" y="724.54" width="29.58" height="2.25" fill="#ad182b"/>
<rect x="563.06" y="726.74" width="29.58" height="2.25" fill="#bd3338"/>
<rect x="563.06" y="728.94" width="29.58" height="2.25" fill="#ae192c"/>
<rect x="563.06" y="731.13" width="29.58" height="2.25" fill="#ad192b"/>
<rect x="563.06" y="733.33" width="29.58" height="2.25" fill="#b1202f"/>
<rect x="563.06" y="735.52" width="29.58" height="2.25" fill="#f8c2ac"/>
<rect x="563.06" y="737.72" width="29.58" height="2.25" fill="#facebb"/>
<rect x="563.06" y="739.92" width="29.58" height="2.25" fill="#cc4e45"/>
<rect x="563.06" y="742.11" width="29.58" height="2.25" fill="#cf5448"/>
<rect x="563.06" y="744.31" width="29.58" height="2.25" fill="#d35b4b"/>
<rect x="563.06" y="746.51" width="29.58" height="2.25" fill="#dc6d55"/>
<rect x="563.06" y="748.7" width="29.58" height="2.25" fill="#fad1bf"/>
<rect x="563.06" y="750.9" width="29.58" height="2.25" fill="#f7c1aa"/>
<rect x="563.06" y="753.1" width="29.58" height="2.25" fill="#f8c3ac"/>
<rect x="563.06" y="755.29" width="29.58" height="2.25" fill="#f9d5c5"/>
<rect x="563.06" y="757.49" width="29.58" height="2.25" fill="#f8c2ab"/>
<rect x="563.06" y="759.68" width="29.58" height="2.25" fill="#f9c9b4"/>
<rect x="563.06" y="761.88" width="29.58" height="2.25" fill="#facbb6"/>
<rect x="563.06" y="764.08" width="29.58" height="2.25" fill="#f8ede8"/>
<rect x="563.06" y="766.27" width="29.58" height="2.25" fill="#f8f0ec"/>
<rect x="563.06" y="768.47" width="29.58" height="2.25" fill="#f9d5c5"/>
<rect x="563.06" y="770.67" width="29.58" height="2.25" fill="#faceba"/>
<rect x="563.06" y="772.86" width="29.58" height="2.25" fill="#ea8766"/>
<rect x="563.06" y="775.06" width="29.58" height="2.25" fill="#f1a486"/>
<rect x="563.06" y="777.26" width="29.58" height="2.25" fill="#ed916f"/>
<rect x="563.06" y="779.45" width="29.58" height="2.25" fill="#facdb9"/>
<rect x="563.06" y="781.65" width="29.58" height="2.25" fill="#ec8e6b"/>
<rect x="563.06" y="783.84" width="29.58" height="2.25" fill="#ee9575"/>
<rect x="563.06" y="786.04" width="29.58" height="2.25" fill="#ec8c69"/>
<rect x="563.06" y="788.24" width="29.58" height="2.25" fill="#f9dfd4"/>
<rect x="563.06" y="790.43" width="29.58" height="2.25" fill="#ed9270"/>
<rect x="563.06" y="792.63" width="29.58" height="2.25" fill="#ef9878"/>
<rect x="563.06" y="794.83" width="29.58" height="2.25" fill="#f8e5dc"/>
<rect x="563.06" y="797.02" width="29.58" height="2.25" fill="#f9d8c9"/>
<rect x="563.06" y="799.22" width="29.58" height="2.25" fill="#f8e3da"/>
<rect x="563.06" y="801.41" width="29.58" height="2.25" fill="#f9ded1"/>
<rect x="563.06" y="803.61" width="29.58" height="2.25" fill="#f8e3d9"/>
<rect x="563.06" y="805.81" width="29.58" height="2.25" fill="#f9e1d6"/>
<rect x="563.06" y="808" width="29.58" height="2.25" fill="#f9dfd4"/>
<rect x="592.64" y="570.8" width="29.58" height="2.25" fill="#f09e80"/>
<rect x="592.64" y="573" width="29.58" height="2.25" fill="#f3ac90"/>
<rect x="592.64" y="575.19" width="29.58" height="2.25" fill="#d55e4c"/>
<rect x="592.64" y="577.39" width="29.58" height="2.25" fill="#ed9170"/>
<rect x="592.64" y="579.59" width="29.58" height="2.25" fill="#f8e9e3"/>
<rect x="592.64" y="581.78" width="29.58" height="2.25" fill="#f8e8e1"/>
<rect x="592.64" y="583.98" width="29.58" height="2.25" fill="#f9e0d5"/>
<rect x="592.64" y="586.17" width="29.58" height="2.25" fill="#f8e7df"/>
<rect x="592.64" y="588.37" width="29.58" height="2.25" fill="#f0a081"/>
<rect x="592.64" y="590.57" width="29.58" height="2.25" fill="#f9e0d5"/>
<rect x="592.64" y="592.76" width="29.58" height="2.25" fill="#dd6d55"/>
<rect x="592.64" y="594.96" width="29.58" height="2.25" fill="#f8e3d9"/>
<rect x="592.64" y="597.16" width="29.58" height="2.25" fill="#f9d9cb"/>
<rect x="592.64" y="599.35" width="29.58" height="2.25" fill="#97bfdb"/>
<rect x="592.64" y="601.55" width="29.58" height="2.25" fill="#2c67ac"/>
<rect x="592.64" y="603.74" width="29.58" height="2.25" fill="#2a64ab"/>
<rect x="592.64" y="605.94" width="29.58" height="2.25" fill="#89b7d6"/>
<rect x="592.64" y="608.14" width="29.58" height="2.25" fill="#f7c1ab"/>
<rect x="592.64" y="610.33" width="29.58" height="2.25" fill="#faceba"/>
<rect x="592.64" y="612.53" width="29.58" height="2.25" fill="#f8eae4"/>
<rect x="592.64" y="614.73" width="29.58" height="2.25" fill="#f8c5af"/>
<rect x="592.64" y="616.92" width="29.58" height="2.25" fill="#facbb7"/>
<rect x="592.64" y="619.12" width="29.58" height="2.25" fill="#f8c4ad"/>
<rect x="592.64" y="621.32" width="29.58" height="2.25" fill="#f9dfd4"/>
<rect x="592.64" y="623.51" width="29.58" height="2.25" fill="#f7bfa8"/>
<rect x="592.64" y="625.71" width="29.58" height="2.25" fill="#f8e5dc"/>
<rect x="592.64" y="627.9" width="29.58" height="2.25" fill="#f8c2ab"/>
<rect x="592.64" y="630.1" width="29.58" height="2.25" fill="#f9c9b5"/>
<rect x="592.64" y="632.3" width="29.58" height="2.25" fill="#faceba"/>
<rect x="592.64" y="634.49" width="29.58" height="2.25" fill="#f8c2ac"/>
<rect x="592.64" y="636.69" width="29.58" height="2.25" fill="#f9d5c5"/>
<rect x="592.64" y="638.89" width="29.58" height="2.25" fill="#f9c8b3"/>
<rect x="592.64" y="641.08" width="29.58" height="2.25" fill="#f7bea6"/>
<rect x="592.64" y="643.28" width="29.58" height="2.25" fill="#faceba"/>
<rect x="592.64" y="645.48" width="29.58" height="2.25" fill="#f9dfd4"/>
<rect x="592.64" y="647.67" width="29.58" height="2.25" fill="#f9c9b4"/>
<rect x="592.64" y="649.87" width="29.58" height="2.25" fill="#ef9b7c"/>
<rect x="592.64" y="652.06" width="29.58" height="2.25" fill="#e98665"/>
<rect x="592.64" y="654.26" width="29.58" height="2.25" fill="#ee9573"/>
<rect x="592.64" y="656.46" width="29.58" height="2.25" fill="#ee9472"/>
<rect x="592.64" y="658.65" width="29.58" height="2.25" fill="#ed906e"/>
<rect x="592.64" y="660.85" width="29.58" height="2.25" fill="#f4b298"/>
<rect x="592.64" y="663.05" width="29.58" height="2.25" fill="#fad3c2"/>
<rect x="592.64" y="665.24" width="29.58" height="2.25" fill="#f3ab8f"/>
<rect x="592.64" y="667.44" width="29.58" height="2.25" fill="#f4b297"/>
<rect x="592.64" y="669.63" width="29.58" height="2.25" fill="#f3ad92"/>
<rect x="592.64" y="671.83" width="29.58" height="2.25" fill="#f4b297"/>
<rect x="592.64" y="674.03" width="29.58" height="2.25" fill="#f1a385"/>
<rect x="592.64" y="676.22" width="29.58" height="2.25" fill="#cf5447"/>
<rect x="592.64" y="678.42" width="29.58" height="2.25" fill="#c5433f"/>
<rect x="592.64" y="680.62" width="29.58" height="2.25" fill="#c13b3c"/>
<rect x="592.64" y="682.81" width="29.58" height="2.25" fill="#c74641"/>
<rect x="592.64" y="685.01" width="29.58" height="2.25" fill="#cd5146"/>
<rect x="592.64" y="687.21" width="29.58" height="2.25" fill="#c94942"/>
<rect x="592.64" y="689.4" width="29.58" height="2.25" fill="#cd4f45"/>
<rect x="592.64" y="691.6" width="29.58" height="2.25" fill="#f9d6c6"/>
<rect x="592.64" y="693.79" width="29.58" height="2.25" fill="#ee9675"/>
<rect x="592.64" y="695.99" width="29.58" height="2.25" fill="#c33e3d"/>
<rect x="592.64" y="698.19" width="29.58" height="2.25" fill="#ca4b43"/>
<rect x="592.64" y="700.38" width="29.58" height="2.25" fill="#c5433f"/>
<rect x="592.64" y="702.58" width="29.58" height="2.25" fill="#c4403e"/>
<rect x="592.64" y="704.78" width="29.58" height="2.25" fill="#b7d3e6"/>
<rect x="592.64" y="706.97" width="29.58" height="2.25" fill="#bbd6e8"/>
<rect x="592.64" y="709.17" width="29.58" height="2.25" fill="#c3dbeb"/>
<rect x="592.64" y="711.37" width="29.58" height="2.25" fill="#c7ddec"/>
<rect x="592.64" y="713.56" width="29.58" height="2.25" fill="#c5dceb"/>
<rect x="592.64" y="715.76" width="29.58" height="2.25" fill="#629cc8"/>
<rect x="592.64" y="717.95" width="29.58" height="2.25" fill="#f0f4f6"/>
<rect x="592.64" y="720.15" width="29.58" height="2.25" fill="#eaf0f4"/>
<rect x="592.64" y="722.35" width="29.58" height="4.44" fill="#f1f4f6"/>
<rect x="592.64" y="726.74" width="29.58" height="2.25" fill="#e9f0f4"/>
<rect x="592.64" y="728.94" width="29.58" height="2.25" fill="#bad5e7"/>
<rect x="592.64" y="731.13" width="29.58" height="2.25" fill="#b0cfe4"/>
<rect x="592.64" y="733.33" width="29.58" height="2.25" fill="#bbd6e8"/>
<rect x="592.64" y="735.52" width="29.58" height="2.25" fill="#f8eae4"/>
<rect x="592.64" y="737.72" width="29.58" height="2.25" fill="#f7f0ed"/>
<rect x="592.64" y="739.92" width="29.58" height="2.25" fill="#f8e5dd"/>
<rect x="592.64" y="742.11" width="29.58" height="2.25" fill="#f8e8e2"/>
<rect x="592.64" y="744.31" width="29.58" height="2.25" fill="#f8f0ec"/>
<rect x="592.64" y="746.51" width="29.58" height="2.25" fill="#f8e8e1"/>
<rect x="592.64" y="748.7" width="29.58" height="4.44" fill="#f8eae4"/>
<rect x="592.64" y="753.1" width="29.58" height="2.25" fill="#d4e5f0"/>
<rect x="592.64" y="755.29" width="29.58" height="2.25" fill="#d6e6f0"/>
<rect x="592.64" y="757.49" width="29.58" height="2.25" fill="#facfbc"/>
<rect x="592.64" y="759.68" width="29.58" height="2.25" fill="#fad3c2"/>
<rect x="592.64" y="761.88" width="29.58" height="2.25" fill="#f8e9e2"/>
<rect x="592.64" y="764.08" width="29.58" height="2.25" fill="#f7c1aa"/>
<rect x="592.64" y="766.27" width="29.58" height="2.25" fill="#faccb8"/>
<rect x="592.64" y="768.47" width="29.58" height="2.25" fill="#facfbc"/>
<rect x="592.64" y="770.67" width="29.58" height="2.25" fill="#fad3c2"/>
<rect x="592.64" y="772.86" width="29.58" height="2.25" fill="#fad1bf"/>
<rect x="592.64" y="775.06" width="29.58" height="2.25" fill="#facfbc"/>
<rect x="592.64" y="777.26" width="29.58" height="2.25" fill="#df7359"/>
<rect x="592.64" y="779.45" width="29.58" height="2.25" fill="#e2785c"/>
<rect x="592.64" y="781.65" width="29.58" height="2.25" fill="#de7057"/>
<rect x="592.64" y="783.84" width="29.58" height="2.25" fill="#e07359"/>
<rect x="592.64" y="786.04" width="29.58" height="2.25" fill="#df7359"/>
<rect x="592.64" y="788.24" width="29.58" height="2.25" fill="#df7158"/>
<rect x="592.64" y="790.43" width="29.58" height="2.25" fill="#da6752"/>
<rect x="592.64" y="792.63" width="29.58" height="2.25" fill="#f4b298"/>
<rect x="592.64" y="794.83" width="29.58" height="2.25" fill="#f9e1d6"/>
<rect x="592.64" y="797.02" width="29.58" height="2.25" fill="#df7158"/>
<rect x="592.64" y="799.22" width="29.58" height="2.25" fill="#f1a486"/>
<rect x="592.64" y="801.41" width="29.58" height="2.25" fill="#facdb9"/>
<rect x="592.64" y="803.61" width="29.58" height="2.25" fill="#f09d7e"/>
<rect x="592.64" y="805.81" width="29.58" height="2.25" fill="#f1a283"/>
<rect x="592.64" y="808" width="29.58" height="2.25" fill="#f2a88b"/>
<line x1="385.58" y1="570.8" x2="385.58" y2="810.2" stroke="rgba(190,190,190,0.45)" stroke-width="0.5"/>
<line x1="415.16" y1="570.8" x2="415.16" y2="810.2" stroke="rgba(190,190,190,0.45)" stroke-width="0.5"/>
<line x1="444.74" y1="570.8" x2="444.74" y2="810.2" stroke="rgba(190,190,190,0.45)" stroke-width="0.5"/>
<line x1="474.32" y1="570.8" x2="474.32" y2="810.2" stroke="rgba(190,190,190,0.45)" stroke-width="0.5"/>
<line x1="503.9" y1="570.8" x2="503.9" y2="810.2" stroke="rgba(190,190,190,0.45)" stroke-width="0.5"/>
<line x1="533.48" y1="570.8" x2="533.48" y2="810.2" stroke="rgba(190,190,190,0.45)" stroke-width="0.5"/>
<line x1="563.06" y1="570.8" x2="563.06" y2="810.2" stroke="rgba(190,190,190,0.45)" stroke-width="0.5"/>
<line x1="592.64" y1="570.8" x2="592.64" y2="810.2" stroke="rgba(190,190,190,0.45)" stroke-width="0.5"/>
<path d="M352.48 543.25L352.48 545.75M352.48 543.25L356 543.25M352.48 545.75L356 545.75M351.5 540.75L351.5 544.5M351.5 540.75L356 540.75M351.5 544.5L352.48 544.5M353.83 548.08L353.83 550.25M353.83 548.08L356 548.08M353.83 550.25L356 550.25M352.98 549.17L352.98 552.42M352.98 549.17L353.83 549.17M352.98 552.42L356 552.42M352.49 550.79L352.49 554.58M352.49 550.79L352.98 550.79M352.49 554.58L356 554.58M353 556.75L353 558.92M353 556.75L356 556.75M353 558.92L356 558.92M352 552.69L352 557.83M352 552.69L352.49 552.69M352 557.83L353 557.83M353.5 562.88L353.5 564.8M353.5 562.88L356 562.88M353.5 564.8L356 564.8M352.95 560.96L352.95 563.84M352.95 560.96L356 560.96M352.95 563.84L353.5 563.84M353.23 566.72L353.23 568.64M353.23 566.72L356 566.72M353.23 568.64L356 568.64M352 562.4L352 567.68M352 562.4L352.95 562.4M352 567.68L353.23 567.68M350 555.26L350 565.04M350 555.26L352 555.26M350 565.04L352 565.04M348.2 542.62L348.2 560.15M348.2 542.62L351.5 542.62M348.2 560.15L350 560.15M352.21 571.93L352.21 574.2M352.21 571.93L356 571.93M352.21 574.2L356 574.2M352.28 576.47L352.28 578.73M352.28 576.47L356 576.47M352.28 578.73L356 578.73M350.62 573.07L350.62 577.6M350.62 573.07L352.21 573.07M350.62 577.6L352.28 577.6M350.47 581L350.47 583.27M350.47 581L356 581M350.47 583.27L356 583.27M350.6 585.53L350.6 587.8M350.6 585.53L356 585.53M350.6 587.8L356 587.8M349.3 582.13L349.3 586.67M349.3 582.13L350.47 582.13M349.3 586.67L350.6 586.67M348.15 575.33L348.15 584.4M348.15 575.33L350.62 575.33M348.15 584.4L349.3 584.4M352.27 592.33L352.27 594.6M352.27 592.33L356 592.33M352.27 594.6L356 594.6M351.23 590.07L351.23 593.47M351.23 590.07L356 590.07M351.23 593.47L352.27 593.47M348.67 591.77L348.67 596.87M348.67 591.77L351.23 591.77M348.67 596.87L356 596.87M345.2 579.87L345.2 594.32M345.2 579.87L348.15 579.87M345.2 594.32L348.67 594.32M351.84 599.17L351.84 601.5M351.84 599.17L356 599.17M351.84 601.5L356 601.5M353.05 603.83L353.05 606.17M353.05 603.83L356 603.83M353.05 606.17L356 606.17M353.46 608.5L353.46 610.83M353.46 608.5L356 608.5M353.46 610.83L356 610.83M352.52 605L352.52 609.67M352.52 605L353.05 605M352.52 609.67L353.46 609.67M350.6 600.33L350.6 607.33M350.6 600.33L351.84 600.33M350.6 607.33L352.52 607.33M352.15 615.3L352.15 617.5M352.15 615.3L356 615.3M352.15 617.5L356 617.5M350.61 613.1L350.61 616.4M350.61 613.1L356 613.1M350.61 616.4L352.15 616.4M349 614.75L349 619.7M349 614.75L350.61 614.75M349 619.7L356 619.7M352.8 621.9L352.8 624.1M352.8 621.9L356 621.9M352.8 624.1L356 624.1M351.57 623L351.57 626.3M351.57 623L352.8 623M351.57 626.3L356 626.3M350.89 624.65L350.89 628.5M350.89 624.65L351.57 624.65M350.89 628.5L356 628.5M353.25 630.7L353.25 632.9M353.25 630.7L356 630.7M353.25 632.9L356 632.9M353.26 635.1L353.26 637.3M353.26 635.1L356 635.1M353.26 637.3L356 637.3M351.58 631.8L351.58 636.2M351.58 631.8L353.25 631.8M351.58 636.2L353.26 636.2M349.88 626.58L349.88 634M349.88 626.58L350.89 626.58M349.88 634L351.58 634M347.85 617.23L347.85 630.29M347.85 617.23L349 617.23M347.85 630.29L349.88 630.29M353.99 641.7L353.99 643.9M353.99 641.7L356 641.7M353.99 643.9L356 643.9M352.94 639.5L352.94 642.8M352.94 639.5L356 639.5M352.94 642.8L353.99 642.8M353 648.3L353 650.5M353 648.3L356 648.3M353 650.5L356 650.5M352.13 646.1L352.13 649.4M352.13 646.1L356 646.1M352.13 649.4L353 649.4M351.49 641.15L351.49 647.75M351.49 641.15L352.94 641.15M351.49 647.75L352.13 647.75M353.83 654.9L353.83 657.1M353.83 654.9L356 654.9M353.83 657.1L356 657.1M353.28 652.7L353.28 656M353.28 652.7L356 652.7M353.28 656L353.83 656M353.5 659.3L353.5 661.5M353.5 659.3L356 659.3M353.5 661.5L356 661.5M354.02 663.7L354.02 665.9M354.02 663.7L356 663.7M354.02 665.9L356 665.9M353.08 660.4L353.08 664.8M353.08 660.4L353.5 660.4M353.08 664.8L354.02 664.8M352.45 654.35L352.45 662.6M352.45 654.35L353.28 654.35M352.45 662.6L353.08 662.6M354.59 668.1L354.59 670.3M354.59 668.1L356 668.1M354.59 670.3L356 670.3M354.43 672.5L354.43 674.7M354.43 672.5L356 672.5M354.43 674.7L356 674.7M353.95 669.2L353.95 673.6M353.95 669.2L354.59 669.2M353.95 673.6L354.43 673.6M354.11 676.9L354.11 679.1M354.11 676.9L356 676.9M354.11 679.1L356 679.1M353.28 671.4L353.28 678M353.28 671.4L353.95 671.4M353.28 678L354.11 678M351.95 658.47L351.95 674.7M351.95 658.47L352.45 658.47M351.95 674.7L353.28 674.7M350.25 644.45L350.25 666.59M350.25 644.45L351.49 644.45M350.25 666.59L351.95 666.59M353.22 681.3L353.22 683.5M353.22 681.3L356 681.3M353.22 683.5L356 683.5M353.8 685.7L353.8 687.9M353.8 685.7L356 685.7M353.8 687.9L356 687.9M352.67 682.4L352.67 686.8M352.67 682.4L353.22 682.4M352.67 686.8L353.8 686.8M353.6 690.1L353.6 692.3M353.6 690.1L356 690.1M353.6 692.3L356 692.3M352.68 691.2L352.68 694.5M352.68 691.2L353.6 691.2M352.68 694.5L356 694.5M353.48 696.7L353.48 698.9M353.48 696.7L356 696.7M353.48 698.9L356 698.9M352.03 692.85L352.03 697.8M352.03 692.85L352.68 692.85M352.03 697.8L353.48 697.8M350.93 684.6L350.93 695.33M350.93 684.6L352.67 684.6M350.93 695.33L352.03 695.33M348.97 655.52L348.97 689.96M348.97 655.52L350.25 655.52M348.97 689.96L350.93 689.96M346.5 623.76L346.5 672.74M346.5 623.76L347.85 623.76M346.5 672.74L348.97 672.74M353.6 701.08L353.6 703.24M353.6 701.08L356 701.08M353.6 703.24L356 703.24M353.66 705.4L353.66 707.56M353.66 705.4L356 705.4M353.66 707.56L356 707.56M352.56 702.16L352.56 706.48M352.56 702.16L353.6 702.16M352.56 706.48L353.66 706.48M353.05 711.88L353.05 714.05M353.05 711.88L356 711.88M353.05 714.05L356 714.05M351.75 709.72L351.75 712.96M351.75 709.72L356 709.72M351.75 712.96L353.05 712.96M351.08 704.32L351.08 711.34M351.08 704.32L352.56 704.32M351.08 711.34L351.75 711.34M353.21 716.21L353.21 718.37M353.21 716.21L356 716.21M353.21 718.37L356 718.37M353.88 722.69L353.88 724.85M353.88 722.69L356 722.69M353.88 724.85L356 724.85M352.86 720.53L352.86 723.77M352.86 720.53L356 720.53M352.86 723.77L353.88 723.77M352.24 717.29L352.24 722.15M352.24 717.29L353.21 717.29M352.24 722.15L352.86 722.15M351.73 727.01L351.73 729.17M351.73 727.01L356 727.01M351.73 729.17L356 729.17M351 719.72L351 728.09M351 719.72L352.24 719.72M351 728.09L351.73 728.09M350.17 707.83L350.17 723.9M350.17 707.83L351.08 707.83M350.17 723.9L351 723.9M351.25 731.33L351.25 733.49M351.25 731.33L356 731.33M351.25 733.49L356 733.49M353.44 737.81L353.44 739.97M353.44 737.81L356 737.81M353.44 739.97L356 739.97M352.54 738.89L352.54 742.14M352.54 738.89L353.44 738.89M352.54 742.14L356 742.14M351.42 735.65L351.42 740.51M351.42 735.65L356 735.65M351.42 740.51L352.54 740.51M349.76 732.41L349.76 738.08M349.76 732.41L351.25 732.41M349.76 738.08L351.42 738.08M348.6 715.87L348.6 735.25M348.6 715.87L350.17 715.87M348.6 735.25L349.76 735.25M353.81 744.3L353.81 746.46M353.81 744.3L356 744.3M353.81 746.46L356 746.46M353.27 745.38L353.27 748.62M353.27 745.38L353.81 745.38M353.27 748.62L356 748.62M353.74 750.78L353.74 752.94M353.74 750.78L356 750.78M353.74 752.94L356 752.94M352.83 747L352.83 751.86M352.83 747L353.27 747M352.83 751.86L353.74 751.86M353.8 755.1L353.8 757.26M353.8 755.1L356 755.1M353.8 757.26L356 757.26M353.92 759.42L353.92 761.58M353.92 759.42L356 759.42M353.92 761.58L356 761.58M353.6 760.5L353.6 763.74M353.6 760.5L353.92 760.5M353.6 763.74L356 763.74M352.85 756.18L352.85 762.12M352.85 756.18L353.8 756.18M352.85 762.12L353.6 762.12M351.74 749.43L351.74 759.15M351.74 749.43L352.83 749.43M351.74 759.15L352.85 759.15M354.78 765.9L354.78 768.06M354.78 765.9L356 765.9M354.78 768.06L356 768.06M354.65 770.23L354.65 772.39M354.65 770.23L356 770.23M354.65 772.39L356 772.39M354.26 766.98L354.26 771.31M354.26 766.98L354.78 766.98M354.26 771.31L354.65 771.31M354.55 774.55L354.55 776.71M354.55 774.55L356 774.55M354.55 776.71L356 776.71M354 769.15L354 775.63M354 769.15L354.26 769.15M354 775.63L354.55 775.63M354.21 781.03L354.21 783.19M354.21 781.03L356 781.03M354.21 783.19L356 783.19M353.92 778.87L353.92 782.11M353.92 778.87L356 778.87M353.92 782.11L354.21 782.11M353.1 772.39L353.1 780.49M353.1 772.39L354 772.39M353.1 780.49L353.92 780.49M355.15 787.51L355.15 789.67M355.15 787.51L356 787.51M355.15 789.67L356 789.67M354.65 788.59L354.65 791.83M354.65 788.59L355.15 788.59M354.65 791.83L356 791.83M353.86 785.35L353.86 790.21M353.86 785.35L356 785.35M353.86 790.21L354.65 790.21M354.17 793.99L354.17 796.15M354.17 793.99L356 793.99M354.17 796.15L356 796.15M353.3 787.78L353.3 795.07M353.3 787.78L353.86 787.78M353.3 795.07L354.17 795.07M353.49 798.32L353.49 800.48M353.49 798.32L356 798.32M353.49 800.48L356 800.48M353.85 802.64L353.85 804.8M353.85 802.64L356 802.64M353.85 804.8L356 804.8M353.78 806.96L353.78 809.12M353.78 806.96L356 806.96M353.78 809.12L356 809.12M353.39 803.72L353.39 808.04M353.39 803.72L353.85 803.72M353.39 808.04L353.78 808.04M352.82 799.4L352.82 805.88M352.82 799.4L353.49 799.4M352.82 805.88L353.39 805.88M352.36 791.43L352.36 802.64M352.36 791.43L353.3 791.43M352.36 802.64L352.82 802.64M351.56 776.44L351.56 797.03M351.56 776.44L353.1 776.44M351.56 797.03L352.36 797.03M349.15 754.29L349.15 786.74M349.15 754.29L351.74 754.29M349.15 786.74L351.56 786.74M346.5 725.56L346.5 770.51M346.5 725.56L348.6 725.56M346.5 770.51L349.15 770.51M345.3 648.25L345.3 748.04M345.3 648.25L346.5 648.25M345.3 748.04L346.5 748.04M344 603.83L344 698.14M344 603.83L350.6 603.83M344 698.14L345.3 698.14M341.6 587.09L341.6 650.99M341.6 587.09L345.2 587.09M341.6 650.99L344 650.99M339.8 551.39L339.8 619.04M339.8 551.39L348.2 551.39M339.8 619.04L341.6 619.04" stroke="#333" stroke-width="0.62" fill="none"/>
<path d="M624.6 540.85h5.53M624.6 543.56h4.67M624.6 546.27h6.57M624.6 548.97h5.01M624.6 551.68h4.43M624.6 554.39h6.61M624.6 557.1h9.97M624.6 559.8h9.2M624.6 562.51h8.97M624.6 565.22h5.44M624.6 567.92h7.49M624.6 570.63h5.8M624.6 573.34h5.12M624.6 576.04h4.69M624.6 578.75h5.39M624.6 581.46h10.03M624.6 584.17h9.39M624.6 586.87h9.24M624.6 589.58h9.2M624.6 592.29h5.26M624.6 594.99h6.01M624.6 597.7h8.08M624.6 600.41h8.76M624.6 603.11h9.56M624.6 605.82h9.72M624.6 608.53h4.56M624.6 611.24h7.94M624.6 613.94h8.37M624.6 616.65h7.29M624.6 619.36h5.16M624.6 622.06h7.08M624.6 624.77h4.58M624.6 627.48h10.07M624.6 630.18h9.63M624.6 632.89h7.56M624.6 635.6h5.95M624.6 638.31h9.91M624.6 641.01h7.72M624.6 643.72h9.74M624.6 646.43h9.51M624.6 649.13h7.3M624.6 651.84h6.69M624.6 654.55h7.89M624.6 657.25h6.8M624.6 659.96h5.05M624.6 662.67h5.98M624.6 665.38h9.28M624.6 668.08h4.28M624.6 670.79h4.3M624.6 673.5h8.07M624.6 676.2h5.82M624.6 678.91h7.48M624.6 681.62h7.06M624.6 684.32h6.23M624.6 687.03h10.48M624.6 689.74h5.27M624.6 692.45h6.68M624.6 695.15h5.32M624.6 697.86h8.11M624.6 700.57h5.8M624.6 703.27h6.31M624.6 705.98h8.86M624.6 708.69h6.08M624.6 711.39h7.63M624.6 714.1h9.88M624.6 716.81h4.66M624.6 719.52h4.4M624.6 722.22h5.49M624.6 724.93h8.97M624.6 727.64h8M624.6 730.34h5.54M624.6 733.05h6.15M624.6 735.76h5.15M624.6 738.46h6.98M624.6 741.17h4.28M624.6 743.88h8.53M624.6 746.59h9.82M624.6 749.29h10.21M624.6 752h8.78M624.6 754.71h10.24M624.6 757.41h4.12M624.6 760.12h5.88M624.6 762.83h10.28M624.6 765.53h9.04M624.6 768.24h6.67M624.6 770.95h10.13M624.6 773.66h8.03M624.6 776.36h9.32M624.6 779.07h5.91M624.6 781.78h5.24M624.6 784.48h6.89M624.6 787.19h4.89M624.6 789.9h6.48M624.6 792.6h10.25M624.6 795.31h6.15M624.6 798.02h4.06M624.6 800.73h4.29M624.6 803.43h5.1M624.6 806.14h9.09M624.6 808.85h6.36" stroke="#2a2a2a" stroke-width="1.49" fill="none" stroke-dasharray="0.9 0.45" opacity="0.72"/>
<defs><linearGradient id="rb2807" x1="0" y1="0" x2="0" y2="1"><stop offset="0.0000" stop-color="#a50026"/><stop offset="0.0125" stop-color="#a50026"/><stop offset="0.0250" stop-color="#a50026"/><stop offset="0.0375" stop-color="#a50026"/><stop offset="0.0500" stop-color="#af1a2c"/><stop offset="0.0625" stop-color="#b32330"/><stop offset="0.0750" stop-color="#b82b34"/><stop offset="0.0875" stop-color="#bc3338"/><stop offset="0.1000" stop-color="#c13b3b"/><stop offset="0.1125" stop-color="#c5433f"/><stop offset="0.1250" stop-color="#ca4b43"/><stop offset="0.1375" stop-color="#cf5347"/><stop offset="0.1500" stop-color="#d35b4b"/><stop offset="0.1625" stop-color="#d7624e"/><stop offset="0.1750" stop-color="#d96751"/><stop offset="0.1875" stop-color="#dc6b54"/><stop offset="0.2000" stop-color="#de7057"/><stop offset="0.2125" stop-color="#e1755a"/><stop offset="0.2250" stop-color="#e37a5d"/><stop offset="0.2375" stop-color="#e57f61"/><stop offset="0.2500" stop-color="#e88364"/><stop offset="0.2625" stop-color="#ea8867"/><stop offset="0.2750" stop-color="#ec8e6b"/><stop offset="0.2875" stop-color="#ee9574"/><stop offset="0.3000" stop-color="#ef9c7c"/><stop offset="0.3125" stop-color="#f1a385"/><stop offset="0.3250" stop-color="#f2aa8e"/><stop offset="0.3375" stop-color="#f4b197"/><stop offset="0.3500" stop-color="#f6b89f"/><stop offset="0.3625" stop-color="#f7bfa8"/><stop offset="0.3750" stop-color="#f9c6b1"/><stop offset="0.3875" stop-color="#facdb9"/><stop offset="0.4000" stop-color="#fad2c0"/><stop offset="0.4125" stop-color="#f9d6c7"/><stop offset="0.4250" stop-color="#f9dbce"/><stop offset="0.4375" stop-color="#f9e0d4"/><stop offset="0.4500" stop-color="#f8e4db"/><stop offset="0.4625" stop-color="#f8e9e2"/><stop offset="0.4750" stop-color="#f8ede9"/><stop offset="0.4875" stop-color="#f7f2f0"/><stop offset="0.5000" stop-color="#f7f7f6"/><stop offset="0.5125" stop-color="#f3f5f6"/><stop offset="0.5250" stop-color="#eef2f5"/><stop offset="0.5375" stop-color="#eaf0f4"/><stop offset="0.5500" stop-color="#e5eef3"/><stop offset="0.5625" stop-color="#e0ebf2"/><stop offset="0.5750" stop-color="#dce9f1"/><stop offset="0.5875" stop-color="#d7e6f0"/><stop offset="0.6000" stop-color="#d3e4ef"/><stop offset="0.6125" stop-color="#cee2ee"/><stop offset="0.6250" stop-color="#c6ddec"/><stop offset="0.6375" stop-color="#bed7e9"/><stop offset="0.6500" stop-color="#b5d2e6"/><stop offset="0.6625" stop-color="#accde3"/><stop offset="0.6750" stop-color="#a4c7df"/><stop offset="0.6875" stop-color="#9bc2dc"/><stop offset="0.7000" stop-color="#92bcd9"/><stop offset="0.7125" stop-color="#89b7d6"/><stop offset="0.7250" stop-color="#81b1d3"/><stop offset="0.7375" stop-color="#7aacd1"/><stop offset="0.7500" stop-color="#74a8cf"/><stop offset="0.7625" stop-color="#6ea4cc"/><stop offset="0.7750" stop-color="#689fca"/><stop offset="0.7875" stop-color="#629bc8"/><stop offset="0.8000" stop-color="#5c97c6"/><stop offset="0.8125" stop-color="#5692c4"/><stop offset="0.8250" stop-color="#508ec1"/><stop offset="0.8375" stop-color="#4a8abf"/><stop offset="0.8500" stop-color="#4585bd"/><stop offset="0.8625" stop-color="#4181bb"/><stop offset="0.8750" stop-color="#3e7cb8"/><stop offset="0.8875" stop-color="#3a78b6"/><stop offset="0.9000" stop-color="#3774b3"/><stop offset="0.9125" stop-color="#336fb1"/><stop offset="0.9250" stop-color="#306baf"/><stop offset="0.9375" stop-color="#2c67ac"/><stop offset="0.9500" stop-color="#2962aa"/><stop offset="0.9625" stop-color="#204c98"/><stop offset="0.9750" stop-color="#204c98"/><stop offset="0.9875" stop-color="#204c98"/><stop offset="1.0000" stop-color="#204c98"/></linearGradient></defs>
<rect x="646.2" y="535.8" width="10" height="245.8" fill="url(#rb2807)"/>
<line x1="646.7" y1="546.4" x2="648.4" y2="546.4" stroke="#fff" stroke-width="0.8"/>
<line x1="654" y1="546.4" x2="655.7" y2="546.4" stroke="#fff" stroke-width="0.8"/>
<text x="659.4" y="549.71" font-size="9.2" fill="#1c1c1c">2</text>
<line x1="646.7" y1="602" x2="648.4" y2="602" stroke="#fff" stroke-width="0.8"/>
<line x1="654" y1="602" x2="655.7" y2="602" stroke="#fff" stroke-width="0.8"/>
<text x="659.4" y="605.31" font-size="9.2" fill="#1c1c1c">1</text>
<line x1="646.7" y1="658.4" x2="648.4" y2="658.4" stroke="#fff" stroke-width="0.8"/>
<line x1="654" y1="658.4" x2="655.7" y2="658.4" stroke="#fff" stroke-width="0.8"/>
<text x="659.4" y="661.71" font-size="9.2" fill="#1c1c1c">0</text>
<line x1="646.7" y1="714.6" x2="648.4" y2="714.6" stroke="#fff" stroke-width="0.8"/>
<line x1="654" y1="714.6" x2="655.7" y2="714.6" stroke="#fff" stroke-width="0.8"/>
<text x="659.4" y="717.91" font-size="9.2" fill="#1c1c1c">-1</text>
<line x1="646.7" y1="771.6" x2="648.4" y2="771.6" stroke="#fff" stroke-width="0.8"/>
<line x1="654" y1="771.6" x2="655.7" y2="771.6" stroke="#fff" stroke-width="0.8"/>
<text x="659.4" y="774.91" font-size="9.2" fill="#1c1c1c">-2</text>
<text x="664.5" y="800.1" font-size="10.8" text-anchor="middle" fill="#1c1c1c">log<tspan font-size="7.5" dy="2.6">2</tspan><tspan dy="-2.6"> fold</tspan></text>
<text x="664.5" y="811.1" font-size="10.8" text-anchor="middle" fill="#1c1c1c">change</text>
</g>
</svg></body></html>
